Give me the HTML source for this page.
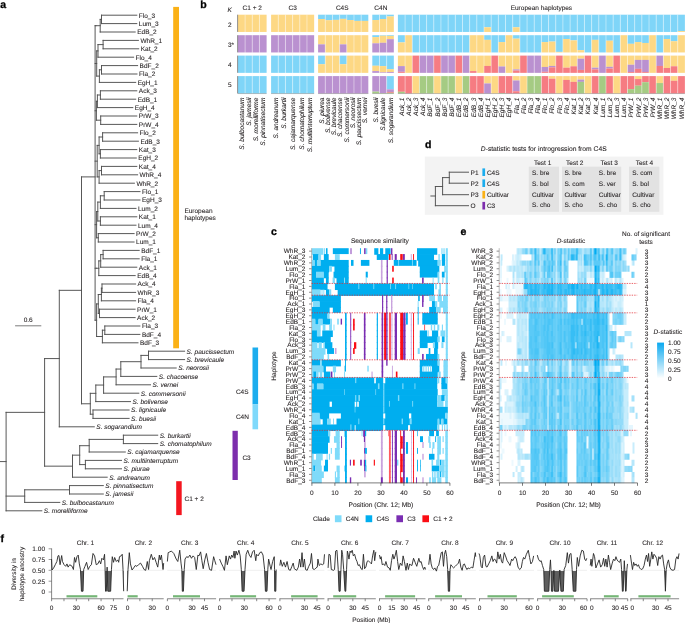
<!DOCTYPE html>
<html><head><meta charset="utf-8"><title>Figure</title>
<style>
html,body{margin:0;padding:0;background:#fff;}
body{width:685px;height:623px;overflow:hidden;}
svg{display:block;font-family:"Liberation Sans",sans-serif;font-size:6.5px;fill:#231f20;text-rendering:geometricPrecision;will-change:transform;}
text{stroke:#231f20;stroke-width:0.08px;}
</style></head><body>
<svg width="685" height="623" viewBox="0 0 685 623">
<rect width="685" height="623" fill="#fff"/>
<g id="panel_a">
<path d="M101.50 15.20H136.80M101.50 23.60H136.80M101.50 15.20V23.60M100.20 19.40H101.50M100.20 32.00H135.20M100.20 19.40V32.00M95.90 25.70H100.20M103.10 40.40H138.40M103.10 48.80H138.70M103.10 40.40V48.80M98.00 44.60H103.10M98.00 57.20H133.60M98.00 44.60V57.20M101.50 65.60H137.60M101.50 74.00H137.00M101.50 65.60V74.00M99.40 69.80H101.50M99.40 82.40H135.70M99.40 69.80V82.40M96.70 50.90H98.00M96.70 76.10H99.40M96.70 50.90V76.10M100.40 90.80H136.80M100.40 99.20H135.70M100.40 90.80V99.20M97.40 95.00H100.40M97.40 107.60H132.80M97.40 95.00V107.60M100.70 116.00H136.80M100.70 124.40H136.80M100.70 116.00V124.40M96.40 101.30H97.40M96.40 120.20H100.70M96.40 101.30V120.20M102.60 132.80H137.60M102.60 141.20H138.40M102.60 132.80V141.20M100.40 149.60H136.80M100.40 158.00H136.30M100.40 149.60V158.00M99.10 137.00H102.60M99.10 153.80H100.40M99.10 137.00V153.80M101.50 166.40H136.80M101.50 174.80H137.60M101.50 166.40V174.80M99.10 170.60H101.50M99.10 183.20H134.40M99.10 170.60V183.20M97.20 145.40H99.10M97.20 176.90H99.10M97.20 145.40V176.90M104.20 191.60H140.00M104.20 200.00H140.00M104.20 191.60V200.00M100.40 195.80H104.20M100.40 208.40H136.00M100.40 195.80V208.40M100.40 216.80H136.80M100.40 225.20H136.00M100.40 216.80V225.20M97.80 202.10H100.40M97.80 221.00H100.40M97.80 202.10V221.00M98.30 233.60H134.10M98.30 242.00H134.10M98.30 233.60V242.00M96.60 211.55H97.80M96.60 237.80H98.30M96.60 211.55V237.80M103.10 250.40H139.20M103.10 258.80H139.20M103.10 250.40V258.80M100.70 254.60H103.10M100.70 267.20H136.80M100.70 254.60V267.20M98.80 260.90H100.70M98.80 275.60H135.20M98.80 260.90V275.60M96.20 268.25H98.80M102.00 284.00H135.60M102.00 292.40H135.60M102.00 284.00V292.40M101.40 288.20H102.00M101.40 300.80H135.60M101.40 288.20V300.80M99.50 309.20H135.10M99.50 317.60H135.10M99.50 309.20V317.60M98.30 294.50H101.40M98.30 313.40H99.50M98.30 294.50V313.40M104.80 326.00H139.90M104.80 334.40H139.90M104.80 326.00V334.40M102.40 330.20H104.80M102.40 342.80H138.00M102.40 330.20V342.80M96.60 303.95H98.30M96.60 336.50H102.40M96.60 303.95V336.50M95.10 25.70H95.90M95.10 63.50H96.70M95.10 110.75H96.40M95.10 161.15H97.20M95.10 224.68H96.60M95.10 268.25H96.20M95.10 320.23H96.60M95.10 25.70V320.23M148.50 351.20H184.60M148.50 359.60H184.60M148.50 351.20V359.60M141.00 355.40H148.50M141.00 368.00H176.20M141.00 355.40V368.00M120.80 361.70H141.00M120.80 376.40H156.80M120.80 361.70V376.40M116.10 369.05H120.80M116.10 384.80H150.50M116.10 369.05V384.80M103.60 376.92H116.10M103.60 393.20H138.80M103.60 376.92V393.20M95.80 385.06H103.60M95.80 401.60H130.50M95.80 385.06V401.60M93.00 410.00H129.10M93.00 418.40H129.10M93.00 410.00V418.40M90.30 393.33H95.80M90.30 414.20H93.00M90.30 393.33V414.20M81.50 176.90H95.10M81.50 403.77H90.30M81.50 176.90V403.77M59.30 290.33H81.50M59.30 426.80H94.30M59.30 290.33V426.80M123.40 435.20H157.70M123.40 443.60H157.70M123.40 435.20V443.60M89.20 439.40H123.40M89.20 452.00H125.30M89.20 439.40V452.00M85.40 460.40H121.50M85.40 468.80H121.50M85.40 460.40V468.80M79.70 445.70H89.20M79.70 464.60H85.40M79.70 445.70V464.60M72.50 455.15H79.70M72.50 477.20H107.20M72.50 455.15V477.20M44.60 358.57H59.30M44.60 466.17H72.50M44.60 358.57V466.17M69.50 485.60H103.30M69.50 494.00H103.30M69.50 485.60V494.00M24.70 489.80H69.50M24.70 502.40H59.80M24.70 489.80V502.40M6.10 412.37H44.60M6.10 496.10H24.70M6.10 510.80H41.80M6.10 412.37V510.80M0 461.59H6.10" fill="none" stroke="#4f4f4f" stroke-width="0.95" stroke-linecap="square"/>
<text x="138.80" y="17.50">Flo_3</text>
<text x="138.80" y="25.90">Lum_3</text>
<text x="137.20" y="34.30">EdB_2</text>
<text x="140.40" y="42.70">WhR_1</text>
<text x="140.70" y="51.10">Kat_2</text>
<text x="135.60" y="59.50">Flo_4</text>
<text x="139.60" y="67.90">BdF_2</text>
<text x="139.00" y="76.30">Fla_2</text>
<text x="137.70" y="84.70">EgH_1</text>
<text x="138.80" y="93.10">Ack_3</text>
<text x="137.70" y="101.50">EdB_1</text>
<text x="134.80" y="109.90">EgH_4</text>
<text x="138.80" y="118.30">PrW_3</text>
<text x="138.80" y="126.70">PrW_4</text>
<text x="139.60" y="135.10">Flo_2</text>
<text x="140.40" y="143.50">EdB_3</text>
<text x="138.80" y="151.90">Kat_3</text>
<text x="138.30" y="160.30">EgH_2</text>
<text x="138.80" y="168.70">Kat_4</text>
<text x="139.60" y="177.10">WhR_4</text>
<text x="136.40" y="185.50">WhR_2</text>
<text x="142.00" y="193.90">Flo_1</text>
<text x="142.00" y="202.30">EgH_3</text>
<text x="138.00" y="210.70">Lum_2</text>
<text x="138.80" y="219.10">Kat_1</text>
<text x="138.00" y="227.50">Lum_4</text>
<text x="136.10" y="235.90">PrW_2</text>
<text x="136.10" y="244.30">Lum_1</text>
<text x="141.20" y="252.70">BdF_1</text>
<text x="141.20" y="261.10">Fla_1</text>
<text x="138.80" y="269.50">Ack_1</text>
<text x="137.20" y="277.90">EdB_4</text>
<text x="137.60" y="286.30">Ack_4</text>
<text x="137.60" y="294.70">WhR_3</text>
<text x="137.60" y="303.10">Fla_4</text>
<text x="137.10" y="311.50">PrW_1</text>
<text x="137.10" y="319.90">Ack_2</text>
<text x="141.90" y="328.30">Fla_3</text>
<text x="141.90" y="336.70">BdF_4</text>
<text x="140.00" y="345.10">BdF_3</text>
<text x="186.60" y="353.50" font-style="italic">S. paucissectum</text>
<text x="186.60" y="361.90" font-style="italic">S. brevicaule</text>
<text x="178.20" y="370.30" font-style="italic">S. neorosii</text>
<text x="158.80" y="378.70" font-style="italic">S. chacoense</text>
<text x="152.50" y="387.10" font-style="italic">S. vernei</text>
<text x="140.80" y="395.50" font-style="italic">S. commersonii</text>
<text x="132.50" y="403.90" font-style="italic">S. bolivense</text>
<text x="131.10" y="412.30" font-style="italic">S. lignicaule</text>
<text x="131.10" y="420.70" font-style="italic">S. buesii</text>
<text x="96.30" y="429.10" font-style="italic">S. sogarandium</text>
<text x="159.70" y="437.50" font-style="italic">S. burkartii</text>
<text x="159.70" y="445.90" font-style="italic">S. chomatophilum</text>
<text x="127.30" y="454.30" font-style="italic">S. cajamarquense</text>
<text x="123.50" y="462.70" font-style="italic">S. multiinterruptum</text>
<text x="123.50" y="471.10" font-style="italic">S. piurae</text>
<text x="109.20" y="479.50" font-style="italic">S. andreanum</text>
<text x="105.30" y="487.90" font-style="italic">S. pinnatisectum</text>
<text x="105.30" y="496.30" font-style="italic">S. jamesii</text>
<text x="61.80" y="504.70" font-style="italic">S. bulbocastanum</text>
<text x="43.80" y="513.10" font-style="italic">S. morelliforme</text>
<rect x="173.20" y="6.90" width="5.80" height="341.40" fill="#fbb116"/>
<text x="184.40" y="212.50">European</text>
<text x="184.40" y="220.20">haplotypes</text>
<rect x="252.50" y="347.50" width="5.60" height="56.90" fill="#1cadee"/>
<rect x="252.50" y="404.40" width="5.60" height="24.90" fill="#7fd9fb"/>
<text x="235.90" y="393.60">C4S</text>
<text x="235.90" y="419.40">C4N</text>
<rect x="232.50" y="430.80" width="5.30" height="49.20" fill="#7d2ead"/>
<text x="242.40" y="459.50">C3</text>
<rect x="176.20" y="481.20" width="5.50" height="33.90" fill="#f4161f"/>
<text x="184.50" y="501.30">C1 + 2</text>
<line x1="15.10" y1="325.80" x2="41.30" y2="325.80" stroke="#5a5a5a" stroke-width="0.8"/>
<text x="28.20" y="322.20" text-anchor="middle">0.6</text>
<text x="0.30" y="7.90" font-weight="bold" font-size="10.5" fill="#000" style="stroke:#000;stroke-width:0.3px">a</text>
</g>
<g id="panel_b">
<text x="252.25" y="10.00" text-anchor="middle">C1 + 2</text>
<rect x="237.90" y="14.70" width="7.17" height="17.25" fill="#fdd884"/>
<rect x="237.90" y="35.20" width="7.17" height="17.25" fill="#ba91d0"/>
<rect x="237.90" y="55.60" width="7.17" height="17.25" fill="#7fd5f8"/>
<rect x="237.90" y="76.10" width="7.17" height="17.45" fill="#7fd5f8"/>
<rect x="245.08" y="14.70" width="7.17" height="17.25" fill="#fdd884"/>
<rect x="245.08" y="35.20" width="7.17" height="17.25" fill="#ba91d0"/>
<rect x="245.08" y="55.60" width="7.17" height="17.25" fill="#7fd5f8"/>
<rect x="245.08" y="76.10" width="7.17" height="17.45" fill="#7fd5f8"/>
<rect x="252.25" y="14.70" width="7.17" height="17.25" fill="#fdd884"/>
<rect x="252.25" y="35.20" width="7.17" height="17.25" fill="#ba91d0"/>
<rect x="252.25" y="55.60" width="7.17" height="17.25" fill="#7fd5f8"/>
<rect x="252.25" y="76.10" width="7.17" height="17.45" fill="#7fd5f8"/>
<rect x="259.43" y="14.70" width="7.17" height="17.25" fill="#fdd884"/>
<rect x="259.43" y="35.20" width="7.17" height="17.25" fill="#ba91d0"/>
<rect x="259.43" y="55.60" width="7.17" height="17.25" fill="#7fd5f8"/>
<rect x="259.43" y="76.10" width="7.17" height="17.45" fill="#7fd5f8"/>
<path d="M245.08 14.7V93.5M252.25 14.7V93.5M259.43 14.7V93.5" stroke="#fff" stroke-opacity="0.7" stroke-width="0.6" fill="none"/>
<line x1="237.90" y1="93.55" x2="266.60" y2="93.55" stroke="#8a8a8a" stroke-width="0.5"/>
<text x="243.79" y="97.60" text-anchor="end" font-style="italic" transform="rotate(-90 243.79 97.60)">S. bulbocastanum</text>
<text x="250.96" y="97.60" text-anchor="end" font-style="italic" transform="rotate(-90 250.96 97.60)">S. jamesii</text>
<text x="258.14" y="97.60" text-anchor="end" font-style="italic" transform="rotate(-90 258.14 97.60)">S. morelliforme</text>
<text x="265.31" y="97.60" text-anchor="end" font-style="italic" transform="rotate(-90 265.31 97.60)">S. pinnatisectum</text>
<text x="292.62" y="10.00" text-anchor="middle">C3</text>
<rect x="271.10" y="14.70" width="7.17" height="17.25" fill="#fdd884"/>
<rect x="271.10" y="35.20" width="7.17" height="17.25" fill="#ba91d0"/>
<rect x="271.10" y="55.60" width="7.17" height="17.25" fill="#7fd5f8"/>
<rect x="271.10" y="76.10" width="7.17" height="17.45" fill="#7fd5f8"/>
<rect x="278.28" y="14.70" width="7.17" height="17.25" fill="#fdd884"/>
<rect x="278.28" y="35.20" width="7.17" height="17.25" fill="#ba91d0"/>
<rect x="278.28" y="55.60" width="7.17" height="17.25" fill="#7fd5f8"/>
<rect x="278.28" y="76.10" width="7.17" height="17.45" fill="#7fd5f8"/>
<rect x="285.45" y="14.70" width="7.17" height="17.25" fill="#fdd884"/>
<rect x="285.45" y="35.20" width="7.17" height="17.25" fill="#ba91d0"/>
<rect x="285.45" y="55.60" width="7.17" height="17.25" fill="#7fd5f8"/>
<rect x="285.45" y="76.10" width="7.17" height="17.45" fill="#7fd5f8"/>
<rect x="292.62" y="14.70" width="7.17" height="17.25" fill="#fdd884"/>
<rect x="292.62" y="35.20" width="7.17" height="17.25" fill="#ba91d0"/>
<rect x="292.62" y="55.60" width="7.17" height="17.25" fill="#7fd5f8"/>
<rect x="292.62" y="76.10" width="7.17" height="17.45" fill="#7fd5f8"/>
<rect x="299.80" y="14.70" width="7.17" height="17.25" fill="#fdd884"/>
<rect x="299.80" y="35.20" width="7.17" height="17.25" fill="#ba91d0"/>
<rect x="299.80" y="55.60" width="7.17" height="17.25" fill="#7fd5f8"/>
<rect x="299.80" y="76.10" width="7.17" height="17.45" fill="#7fd5f8"/>
<rect x="306.98" y="14.70" width="7.17" height="17.25" fill="#fdd884"/>
<rect x="306.98" y="35.20" width="7.17" height="17.25" fill="#ba91d0"/>
<rect x="306.98" y="55.60" width="7.17" height="17.25" fill="#7fd5f8"/>
<rect x="306.98" y="76.10" width="7.17" height="17.45" fill="#7fd5f8"/>
<path d="M278.28 14.7V93.5M285.45 14.7V93.5M292.62 14.7V93.5M299.80 14.7V93.5M306.98 14.7V93.5" stroke="#fff" stroke-opacity="0.7" stroke-width="0.6" fill="none"/>
<line x1="271.10" y1="93.55" x2="314.15" y2="93.55" stroke="#8a8a8a" stroke-width="0.5"/>
<text x="277.71" y="97.60" text-anchor="end" font-style="italic" transform="rotate(-90 277.71 97.60)">S. andreanum</text>
<text x="286.32" y="97.60" text-anchor="end" font-style="italic" transform="rotate(-90 286.32 97.60)">S. burkartii</text>
<text x="294.93" y="97.60" text-anchor="end" font-style="italic" transform="rotate(-90 294.93 97.60)">S. cajamarquense</text>
<text x="303.54" y="97.60" text-anchor="end" font-style="italic" transform="rotate(-90 303.54 97.60)">S. chomatophilum</text>
<text x="312.15" y="97.60" text-anchor="end" font-style="italic" transform="rotate(-90 312.15 97.60)">S. multiinterruptum</text>
<text x="342.21" y="10.00" text-anchor="middle">C4S</text>
<rect x="318.10" y="14.70" width="7.17" height="4.35" fill="#7fd5f8"/>
<rect x="318.10" y="19.00" width="7.17" height="12.95" fill="#fdd884"/>
<rect x="318.10" y="35.20" width="7.17" height="9.17" fill="#fdd884"/>
<rect x="318.10" y="44.32" width="7.17" height="8.13" fill="#ba91d0"/>
<rect x="318.10" y="55.60" width="7.17" height="8.65" fill="#7fd5f8"/>
<rect x="318.10" y="64.20" width="7.17" height="8.65" fill="#fdd884"/>
<rect x="318.10" y="76.10" width="7.17" height="17.45" fill="#ba91d0"/>
<rect x="325.28" y="14.70" width="7.17" height="5.55" fill="#7fd5f8"/>
<rect x="325.28" y="20.20" width="7.17" height="11.75" fill="#fdd884"/>
<rect x="325.28" y="35.20" width="7.17" height="17.25" fill="#fdd884"/>
<rect x="325.28" y="55.60" width="7.17" height="17.25" fill="#fdd884"/>
<rect x="325.28" y="76.10" width="7.17" height="17.45" fill="#ba91d0"/>
<rect x="332.45" y="14.70" width="7.17" height="5.21" fill="#7fd5f8"/>
<rect x="332.45" y="19.86" width="7.17" height="12.09" fill="#fdd884"/>
<rect x="332.45" y="35.20" width="7.17" height="17.25" fill="#fdd884"/>
<rect x="332.45" y="55.60" width="7.17" height="17.25" fill="#fdd884"/>
<rect x="332.45" y="76.10" width="7.17" height="17.45" fill="#ba91d0"/>
<rect x="339.62" y="14.70" width="7.17" height="4.18" fill="#7fd5f8"/>
<rect x="339.62" y="18.83" width="7.17" height="13.12" fill="#fdd884"/>
<rect x="339.62" y="35.20" width="7.17" height="9.17" fill="#fdd884"/>
<rect x="339.62" y="44.32" width="7.17" height="8.13" fill="#ba91d0"/>
<rect x="339.62" y="55.60" width="7.17" height="8.65" fill="#7fd5f8"/>
<rect x="339.62" y="64.20" width="7.17" height="8.65" fill="#fdd884"/>
<rect x="339.62" y="76.10" width="7.17" height="17.45" fill="#ba91d0"/>
<rect x="346.80" y="14.70" width="7.17" height="5.38" fill="#7fd5f8"/>
<rect x="346.80" y="20.03" width="7.17" height="11.92" fill="#fdd884"/>
<rect x="346.80" y="35.20" width="7.17" height="17.25" fill="#fdd884"/>
<rect x="346.80" y="55.60" width="7.17" height="17.25" fill="#fdd884"/>
<rect x="346.80" y="76.10" width="7.17" height="17.45" fill="#ba91d0"/>
<rect x="353.98" y="14.70" width="7.17" height="6.24" fill="#7fd5f8"/>
<rect x="353.98" y="20.89" width="7.17" height="11.06" fill="#fdd884"/>
<rect x="353.98" y="35.20" width="7.17" height="17.25" fill="#fdd884"/>
<rect x="353.98" y="55.60" width="7.17" height="17.25" fill="#fdd884"/>
<rect x="353.98" y="76.10" width="7.17" height="17.45" fill="#ba91d0"/>
<rect x="361.15" y="14.70" width="7.17" height="6.24" fill="#7fd5f8"/>
<rect x="361.15" y="20.89" width="7.17" height="11.06" fill="#fdd884"/>
<rect x="361.15" y="35.20" width="7.17" height="17.25" fill="#fdd884"/>
<rect x="361.15" y="55.60" width="7.17" height="17.25" fill="#fdd884"/>
<rect x="361.15" y="76.10" width="7.17" height="17.45" fill="#ba91d0"/>
<path d="M325.28 14.7V93.5M332.45 14.7V93.5M339.62 14.7V93.5M346.80 14.7V93.5M353.98 14.7V93.5M361.15 14.7V93.5" stroke="#fff" stroke-opacity="0.7" stroke-width="0.6" fill="none"/>
<line x1="318.10" y1="93.55" x2="368.33" y2="93.55" stroke="#8a8a8a" stroke-width="0.5"/>
<text x="323.54" y="97.60" text-anchor="end" font-style="italic" transform="rotate(-90 323.54 97.60)">S. piurea</text>
<text x="329.82" y="97.60" text-anchor="end" font-style="italic" transform="rotate(-90 329.82 97.60)">S. bolivense</text>
<text x="336.10" y="97.60" text-anchor="end" font-style="italic" transform="rotate(-90 336.10 97.60)">S. brevicaule</text>
<text x="342.37" y="97.60" text-anchor="end" font-style="italic" transform="rotate(-90 342.37 97.60)">S. chacoense</text>
<text x="348.65" y="97.60" text-anchor="end" font-style="italic" transform="rotate(-90 348.65 97.60)">S. commersonii</text>
<text x="354.93" y="97.60" text-anchor="end" font-style="italic" transform="rotate(-90 354.93 97.60)">S. neorosii</text>
<text x="361.21" y="97.60" text-anchor="end" font-style="italic" transform="rotate(-90 361.21 97.60)">S. paucissectum</text>
<text x="367.49" y="97.60" text-anchor="end" font-style="italic" transform="rotate(-90 367.49 97.60)">S. vernei</text>
<text x="380.86" y="10.00" text-anchor="middle">C4N</text>
<rect x="372.30" y="14.70" width="7.17" height="5.38" fill="#7fd5f8"/>
<rect x="372.30" y="20.03" width="7.17" height="11.92" fill="#fdd884"/>
<rect x="372.30" y="35.20" width="7.17" height="1.94" fill="#7fd5f8"/>
<rect x="372.30" y="37.09" width="7.17" height="6.24" fill="#fdd884"/>
<rect x="372.30" y="43.28" width="7.17" height="9.17" fill="#ba91d0"/>
<rect x="372.30" y="55.60" width="7.17" height="10.20" fill="#7fd5f8"/>
<rect x="372.30" y="65.75" width="7.17" height="5.38" fill="#fdd884"/>
<rect x="372.30" y="71.08" width="7.17" height="1.77" fill="#ba91d0"/>
<rect x="372.30" y="76.10" width="7.17" height="15.54" fill="#ba91d0"/>
<rect x="372.30" y="91.59" width="7.17" height="1.96" fill="#a5cb83"/>
<rect x="379.48" y="14.70" width="7.17" height="4.35" fill="#7fd5f8"/>
<rect x="379.48" y="19.00" width="7.17" height="12.95" fill="#fdd884"/>
<rect x="379.48" y="35.20" width="7.17" height="0.57" fill="#7fd5f8"/>
<rect x="379.48" y="35.72" width="7.17" height="7.10" fill="#fdd884"/>
<rect x="379.48" y="42.77" width="7.17" height="9.68" fill="#ba91d0"/>
<rect x="379.48" y="55.60" width="7.17" height="10.54" fill="#7fd5f8"/>
<rect x="379.48" y="66.09" width="7.17" height="6.24" fill="#fdd884"/>
<rect x="379.48" y="72.28" width="7.17" height="0.57" fill="#ba91d0"/>
<rect x="379.48" y="76.10" width="7.17" height="17.10" fill="#ba91d0"/>
<rect x="379.48" y="93.15" width="7.17" height="0.40" fill="#a5cb83"/>
<rect x="386.65" y="14.70" width="7.17" height="1.77" fill="#7fd5f8"/>
<rect x="386.65" y="16.42" width="7.17" height="15.53" fill="#fdd884"/>
<rect x="386.65" y="35.20" width="7.17" height="0.74" fill="#7fd5f8"/>
<rect x="386.65" y="35.89" width="7.17" height="3.32" fill="#fdd884"/>
<rect x="386.65" y="39.16" width="7.17" height="13.29" fill="#ba91d0"/>
<rect x="386.65" y="55.60" width="7.17" height="13.64" fill="#7fd5f8"/>
<rect x="386.65" y="69.19" width="7.17" height="2.80" fill="#fdd884"/>
<rect x="386.65" y="71.94" width="7.17" height="0.91" fill="#ba91d0"/>
<rect x="386.65" y="76.10" width="7.17" height="13.27" fill="#7fd5f8"/>
<rect x="386.65" y="89.32" width="7.17" height="2.66" fill="#ba91d0"/>
<rect x="386.65" y="91.93" width="7.17" height="0.92" fill="#f67c82"/>
<rect x="386.65" y="92.80" width="7.17" height="0.75" fill="#a5cb83"/>
<path d="M379.48 14.7V93.5M386.65 14.7V93.5" stroke="#fff" stroke-opacity="0.7" stroke-width="0.6" fill="none"/>
<line x1="372.30" y1="93.55" x2="393.82" y2="93.55" stroke="#8a8a8a" stroke-width="0.5"/>
<text x="378.19" y="97.60" text-anchor="end" font-style="italic" transform="rotate(-90 378.19 97.60)">S. buesii</text>
<text x="385.36" y="97.60" text-anchor="end" font-style="italic" transform="rotate(-90 385.36 97.60)">S.lignicaule</text>
<text x="392.54" y="97.60" text-anchor="end" font-style="italic" transform="rotate(-90 392.54 97.60)">S. sogarandium</text>
<text x="541.40" y="10.00" text-anchor="middle">European haplotypes</text>
<rect x="397.90" y="14.70" width="7.17" height="17.25" fill="#7fd5f8"/>
<rect x="397.90" y="35.20" width="7.17" height="7.27" fill="#7fd5f8"/>
<rect x="397.90" y="42.42" width="7.17" height="10.03" fill="#fdd884"/>
<rect x="397.90" y="55.60" width="7.17" height="10.54" fill="#fdd884"/>
<rect x="397.90" y="66.09" width="7.17" height="5.73" fill="#ba91d0"/>
<rect x="397.90" y="71.77" width="7.17" height="1.08" fill="#f67c82"/>
<rect x="397.90" y="76.10" width="7.17" height="15.71" fill="#f67c82"/>
<rect x="397.90" y="91.76" width="7.17" height="1.79" fill="#a5cb83"/>
<rect x="405.07" y="14.70" width="7.17" height="17.25" fill="#7fd5f8"/>
<rect x="405.07" y="35.20" width="7.17" height="17.25" fill="#fdd884"/>
<rect x="405.07" y="55.60" width="7.17" height="17.25" fill="#fdd884"/>
<rect x="405.07" y="76.10" width="7.17" height="17.45" fill="#f67c82"/>
<rect x="412.25" y="14.70" width="7.17" height="17.25" fill="#7fd5f8"/>
<rect x="412.25" y="35.20" width="7.17" height="17.25" fill="#7fd5f8"/>
<rect x="412.25" y="55.60" width="7.17" height="17.25" fill="#f67c82"/>
<rect x="412.25" y="76.10" width="7.17" height="17.45" fill="#fdd884"/>
<rect x="419.42" y="14.70" width="7.17" height="17.25" fill="#7fd5f8"/>
<rect x="419.42" y="35.20" width="7.17" height="17.25" fill="#7fd5f8"/>
<rect x="419.42" y="55.60" width="7.17" height="17.25" fill="#ba91d0"/>
<rect x="419.42" y="76.10" width="7.17" height="17.45" fill="#a5cb83"/>
<rect x="426.60" y="14.70" width="7.17" height="17.25" fill="#7fd5f8"/>
<rect x="426.60" y="35.20" width="7.17" height="17.25" fill="#7fd5f8"/>
<rect x="426.60" y="55.60" width="7.17" height="17.25" fill="#ba91d0"/>
<rect x="426.60" y="76.10" width="7.17" height="17.45" fill="#a5cb83"/>
<rect x="433.77" y="14.70" width="7.17" height="17.25" fill="#7fd5f8"/>
<rect x="433.77" y="35.20" width="7.17" height="17.25" fill="#7fd5f8"/>
<rect x="433.77" y="55.60" width="7.17" height="17.25" fill="#f67c82"/>
<rect x="433.77" y="76.10" width="7.17" height="17.45" fill="#fdd884"/>
<rect x="440.95" y="14.70" width="7.17" height="17.25" fill="#7fd5f8"/>
<rect x="440.95" y="35.20" width="7.17" height="17.25" fill="#7fd5f8"/>
<rect x="440.95" y="55.60" width="7.17" height="17.25" fill="#ba91d0"/>
<rect x="440.95" y="76.10" width="7.17" height="17.45" fill="#a5cb83"/>
<rect x="448.12" y="14.70" width="7.17" height="17.25" fill="#7fd5f8"/>
<rect x="448.12" y="35.20" width="7.17" height="17.25" fill="#7fd5f8"/>
<rect x="448.12" y="55.60" width="7.17" height="17.25" fill="#ba91d0"/>
<rect x="448.12" y="76.10" width="7.17" height="17.45" fill="#a5cb83"/>
<rect x="455.30" y="14.70" width="7.17" height="17.25" fill="#7fd5f8"/>
<rect x="455.30" y="35.20" width="7.17" height="17.25" fill="#7fd5f8"/>
<rect x="455.30" y="55.60" width="7.17" height="17.25" fill="#f67c82"/>
<rect x="455.30" y="76.10" width="7.17" height="17.45" fill="#fdd884"/>
<rect x="462.47" y="14.70" width="7.17" height="17.25" fill="#7fd5f8"/>
<rect x="462.47" y="35.20" width="7.17" height="17.25" fill="#7fd5f8"/>
<rect x="462.47" y="55.60" width="7.17" height="17.25" fill="#ba91d0"/>
<rect x="462.47" y="76.10" width="7.17" height="17.45" fill="#a5cb83"/>
<rect x="469.65" y="14.70" width="7.17" height="17.25" fill="#7fd5f8"/>
<rect x="469.65" y="35.20" width="7.17" height="17.25" fill="#fdd884"/>
<rect x="469.65" y="55.60" width="7.17" height="15.53" fill="#fdd884"/>
<rect x="469.65" y="71.08" width="7.17" height="1.77" fill="#f67c82"/>
<rect x="469.65" y="76.10" width="7.17" height="17.45" fill="#f67c82"/>
<rect x="476.82" y="14.70" width="7.17" height="17.25" fill="#7fd5f8"/>
<rect x="476.82" y="35.20" width="7.17" height="17.25" fill="#fdd884"/>
<rect x="476.82" y="55.60" width="7.17" height="17.25" fill="#fdd884"/>
<rect x="476.82" y="76.10" width="7.17" height="17.45" fill="#f67c82"/>
<rect x="484.00" y="14.70" width="7.17" height="12.61" fill="#7fd5f8"/>
<rect x="484.00" y="27.26" width="7.17" height="4.69" fill="#fdd884"/>
<rect x="484.00" y="35.20" width="7.17" height="4.69" fill="#7fd5f8"/>
<rect x="484.00" y="39.84" width="7.17" height="12.61" fill="#fdd884"/>
<rect x="484.00" y="55.60" width="7.17" height="10.37" fill="#fdd884"/>
<rect x="484.00" y="65.92" width="7.17" height="6.93" fill="#f67c82"/>
<rect x="484.00" y="76.10" width="7.17" height="7.36" fill="#fdd884"/>
<rect x="484.00" y="83.41" width="7.17" height="10.14" fill="#ba91d0"/>
<rect x="491.17" y="14.70" width="7.17" height="17.25" fill="#7fd5f8"/>
<rect x="491.17" y="35.20" width="7.17" height="17.25" fill="#7fd5f8"/>
<rect x="491.17" y="55.60" width="7.17" height="17.25" fill="#f67c82"/>
<rect x="491.17" y="76.10" width="7.17" height="17.45" fill="#fdd884"/>
<rect x="498.35" y="14.70" width="7.17" height="17.25" fill="#7fd5f8"/>
<rect x="498.35" y="35.20" width="7.17" height="6.93" fill="#7fd5f8"/>
<rect x="498.35" y="42.08" width="7.17" height="10.37" fill="#fdd884"/>
<rect x="498.35" y="55.60" width="7.17" height="10.89" fill="#fdd884"/>
<rect x="498.35" y="66.44" width="7.17" height="6.41" fill="#ba91d0"/>
<rect x="498.35" y="76.10" width="7.17" height="16.93" fill="#f67c82"/>
<rect x="498.35" y="92.98" width="7.17" height="0.57" fill="#a5cb83"/>
<rect x="505.52" y="14.70" width="7.17" height="17.25" fill="#7fd5f8"/>
<rect x="505.52" y="35.20" width="7.17" height="17.25" fill="#fdd884"/>
<rect x="505.52" y="55.60" width="7.17" height="17.25" fill="#fdd884"/>
<rect x="505.52" y="76.10" width="7.17" height="17.45" fill="#f67c82"/>
<rect x="512.70" y="14.70" width="7.17" height="12.61" fill="#7fd5f8"/>
<rect x="512.70" y="27.26" width="7.17" height="4.69" fill="#fdd884"/>
<rect x="512.70" y="35.20" width="7.17" height="3.49" fill="#7fd5f8"/>
<rect x="512.70" y="38.64" width="7.17" height="13.81" fill="#fdd884"/>
<rect x="512.70" y="55.60" width="7.17" height="13.81" fill="#fdd884"/>
<rect x="512.70" y="69.36" width="7.17" height="1.25" fill="#ba91d0"/>
<rect x="512.70" y="70.56" width="7.17" height="2.29" fill="#f67c82"/>
<rect x="512.70" y="76.10" width="7.17" height="4.40" fill="#fdd884"/>
<rect x="512.70" y="80.45" width="7.17" height="10.84" fill="#ba91d0"/>
<rect x="512.70" y="91.24" width="7.17" height="2.31" fill="#f67c82"/>
<rect x="519.88" y="14.70" width="7.17" height="17.25" fill="#7fd5f8"/>
<rect x="519.88" y="35.20" width="7.17" height="17.25" fill="#7fd5f8"/>
<rect x="519.88" y="55.60" width="7.17" height="17.25" fill="#f67c82"/>
<rect x="519.88" y="76.10" width="7.17" height="17.45" fill="#fdd884"/>
<rect x="527.05" y="14.70" width="7.17" height="17.25" fill="#7fd5f8"/>
<rect x="527.05" y="35.20" width="7.17" height="17.25" fill="#7fd5f8"/>
<rect x="527.05" y="55.60" width="7.17" height="17.25" fill="#ba91d0"/>
<rect x="527.05" y="76.10" width="7.17" height="17.45" fill="#a5cb83"/>
<rect x="534.22" y="14.70" width="7.17" height="17.25" fill="#7fd5f8"/>
<rect x="534.22" y="35.20" width="7.17" height="17.25" fill="#7fd5f8"/>
<rect x="534.22" y="55.60" width="7.17" height="17.25" fill="#ba91d0"/>
<rect x="534.22" y="76.10" width="7.17" height="17.45" fill="#a5cb83"/>
<rect x="541.40" y="14.70" width="7.17" height="17.25" fill="#7fd5f8"/>
<rect x="541.40" y="35.20" width="7.17" height="6.93" fill="#7fd5f8"/>
<rect x="541.40" y="42.08" width="7.17" height="10.37" fill="#fdd884"/>
<rect x="541.40" y="55.60" width="7.17" height="11.40" fill="#fdd884"/>
<rect x="541.40" y="66.95" width="7.17" height="4.87" fill="#ba91d0"/>
<rect x="541.40" y="71.77" width="7.17" height="1.08" fill="#f67c82"/>
<rect x="541.40" y="76.10" width="7.17" height="17.45" fill="#f67c82"/>
<rect x="548.57" y="14.70" width="7.17" height="17.25" fill="#7fd5f8"/>
<rect x="548.57" y="35.20" width="7.17" height="6.41" fill="#7fd5f8"/>
<rect x="548.57" y="41.56" width="7.17" height="10.89" fill="#fdd884"/>
<rect x="548.57" y="55.60" width="7.17" height="10.37" fill="#fdd884"/>
<rect x="548.57" y="65.92" width="7.17" height="1.43" fill="#ba91d0"/>
<rect x="548.57" y="67.30" width="7.17" height="5.55" fill="#f67c82"/>
<rect x="548.57" y="76.10" width="7.17" height="2.66" fill="#fdd884"/>
<rect x="548.57" y="78.71" width="7.17" height="14.84" fill="#f67c82"/>
<rect x="555.75" y="14.70" width="7.17" height="17.25" fill="#7fd5f8"/>
<rect x="555.75" y="35.20" width="7.17" height="16.73" fill="#7fd5f8"/>
<rect x="555.75" y="51.88" width="7.17" height="0.57" fill="#fdd884"/>
<rect x="555.75" y="55.60" width="7.17" height="17.25" fill="#f67c82"/>
<rect x="555.75" y="76.10" width="7.17" height="17.45" fill="#fdd884"/>
<rect x="562.92" y="14.70" width="7.17" height="17.25" fill="#7fd5f8"/>
<rect x="562.92" y="35.20" width="7.17" height="3.83" fill="#7fd5f8"/>
<rect x="562.92" y="38.98" width="7.17" height="13.47" fill="#fdd884"/>
<rect x="562.92" y="55.60" width="7.17" height="12.09" fill="#fdd884"/>
<rect x="562.92" y="67.64" width="7.17" height="5.21" fill="#f67c82"/>
<rect x="562.92" y="76.10" width="7.17" height="3.88" fill="#fdd884"/>
<rect x="562.92" y="79.93" width="7.17" height="13.62" fill="#f67c82"/>
<rect x="570.10" y="14.70" width="7.17" height="17.25" fill="#7fd5f8"/>
<rect x="570.10" y="35.20" width="7.17" height="5.21" fill="#7fd5f8"/>
<rect x="570.10" y="40.36" width="7.17" height="12.09" fill="#fdd884"/>
<rect x="570.10" y="55.60" width="7.17" height="10.71" fill="#fdd884"/>
<rect x="570.10" y="66.26" width="7.17" height="6.59" fill="#f67c82"/>
<rect x="570.10" y="76.10" width="7.17" height="5.79" fill="#fdd884"/>
<rect x="570.10" y="81.84" width="7.17" height="11.71" fill="#f67c82"/>
<rect x="577.27" y="14.70" width="7.17" height="17.25" fill="#7fd5f8"/>
<rect x="577.27" y="35.20" width="7.17" height="15.01" fill="#7fd5f8"/>
<rect x="577.27" y="50.16" width="7.17" height="2.29" fill="#fdd884"/>
<rect x="577.27" y="55.60" width="7.17" height="3.15" fill="#fdd884"/>
<rect x="577.27" y="58.70" width="7.17" height="11.23" fill="#ba91d0"/>
<rect x="577.27" y="69.88" width="7.17" height="2.97" fill="#f67c82"/>
<rect x="577.27" y="76.10" width="7.17" height="3.53" fill="#fdd884"/>
<rect x="577.27" y="79.58" width="7.17" height="2.31" fill="#ba91d0"/>
<rect x="577.27" y="81.84" width="7.17" height="11.71" fill="#a5cb83"/>
<rect x="584.45" y="14.70" width="7.17" height="17.25" fill="#7fd5f8"/>
<rect x="584.45" y="35.20" width="7.17" height="17.25" fill="#7fd5f8"/>
<rect x="584.45" y="55.60" width="7.17" height="17.25" fill="#f67c82"/>
<rect x="584.45" y="76.10" width="7.17" height="17.45" fill="#fdd884"/>
<rect x="591.62" y="14.70" width="7.17" height="17.25" fill="#7fd5f8"/>
<rect x="591.62" y="35.20" width="7.17" height="4.69" fill="#7fd5f8"/>
<rect x="591.62" y="39.84" width="7.17" height="12.61" fill="#fdd884"/>
<rect x="591.62" y="55.60" width="7.17" height="12.09" fill="#fdd884"/>
<rect x="591.62" y="67.64" width="7.17" height="1.77" fill="#ba91d0"/>
<rect x="591.62" y="69.36" width="7.17" height="3.49" fill="#f67c82"/>
<rect x="591.62" y="76.10" width="7.17" height="17.45" fill="#f67c82"/>
<rect x="598.80" y="14.70" width="7.17" height="17.25" fill="#7fd5f8"/>
<rect x="598.80" y="35.20" width="7.17" height="17.25" fill="#7fd5f8"/>
<rect x="598.80" y="55.60" width="7.17" height="17.25" fill="#ba91d0"/>
<rect x="598.80" y="76.10" width="7.17" height="17.45" fill="#a5cb83"/>
<rect x="605.97" y="14.70" width="7.17" height="17.25" fill="#7fd5f8"/>
<rect x="605.97" y="35.20" width="7.17" height="5.55" fill="#7fd5f8"/>
<rect x="605.97" y="40.70" width="7.17" height="11.75" fill="#fdd884"/>
<rect x="605.97" y="55.60" width="7.17" height="11.23" fill="#fdd884"/>
<rect x="605.97" y="66.78" width="7.17" height="1.77" fill="#ba91d0"/>
<rect x="605.97" y="68.50" width="7.17" height="4.35" fill="#f67c82"/>
<rect x="605.97" y="76.10" width="7.17" height="17.45" fill="#f67c82"/>
<rect x="613.15" y="14.70" width="7.17" height="17.25" fill="#7fd5f8"/>
<rect x="613.15" y="35.20" width="7.17" height="17.25" fill="#7fd5f8"/>
<rect x="613.15" y="55.60" width="7.17" height="17.25" fill="#f67c82"/>
<rect x="613.15" y="76.10" width="7.17" height="17.45" fill="#fdd884"/>
<rect x="620.32" y="14.70" width="7.17" height="17.25" fill="#7fd5f8"/>
<rect x="620.32" y="35.20" width="7.17" height="17.25" fill="#fdd884"/>
<rect x="620.32" y="55.60" width="7.17" height="17.25" fill="#fdd884"/>
<rect x="620.32" y="76.10" width="7.17" height="17.45" fill="#f67c82"/>
<rect x="627.50" y="14.70" width="7.17" height="17.25" fill="#7fd5f8"/>
<rect x="627.50" y="35.20" width="7.17" height="8.65" fill="#7fd5f8"/>
<rect x="627.50" y="43.80" width="7.17" height="8.65" fill="#fdd884"/>
<rect x="627.50" y="55.60" width="7.17" height="9.17" fill="#fdd884"/>
<rect x="627.50" y="64.72" width="7.17" height="7.27" fill="#ba91d0"/>
<rect x="627.50" y="71.94" width="7.17" height="0.91" fill="#f67c82"/>
<rect x="627.50" y="76.10" width="7.17" height="13.10" fill="#f67c82"/>
<rect x="627.50" y="89.15" width="7.17" height="4.40" fill="#a5cb83"/>
<rect x="634.67" y="14.70" width="7.17" height="17.25" fill="#7fd5f8"/>
<rect x="634.67" y="35.20" width="7.17" height="6.93" fill="#7fd5f8"/>
<rect x="634.67" y="42.08" width="7.17" height="10.37" fill="#fdd884"/>
<rect x="634.67" y="55.60" width="7.17" height="4.35" fill="#fdd884"/>
<rect x="634.67" y="59.90" width="7.17" height="8.99" fill="#ba91d0"/>
<rect x="634.67" y="68.84" width="7.17" height="4.01" fill="#f67c82"/>
<rect x="634.67" y="76.10" width="7.17" height="3.01" fill="#fdd884"/>
<rect x="634.67" y="79.06" width="7.17" height="6.66" fill="#f67c82"/>
<rect x="634.67" y="85.67" width="7.17" height="7.88" fill="#a5cb83"/>
<rect x="641.85" y="14.70" width="7.17" height="17.25" fill="#7fd5f8"/>
<rect x="641.85" y="35.20" width="7.17" height="7.79" fill="#7fd5f8"/>
<rect x="641.85" y="42.94" width="7.17" height="9.51" fill="#fdd884"/>
<rect x="641.85" y="55.60" width="7.17" height="4.35" fill="#fdd884"/>
<rect x="641.85" y="59.90" width="7.17" height="12.09" fill="#ba91d0"/>
<rect x="641.85" y="71.94" width="7.17" height="0.91" fill="#f67c82"/>
<rect x="641.85" y="76.10" width="7.17" height="6.14" fill="#f67c82"/>
<rect x="641.85" y="82.19" width="7.17" height="11.36" fill="#a5cb83"/>
<rect x="649.02" y="14.70" width="7.17" height="17.25" fill="#7fd5f8"/>
<rect x="649.02" y="35.20" width="7.17" height="17.25" fill="#fdd884"/>
<rect x="649.02" y="55.60" width="7.17" height="17.25" fill="#fdd884"/>
<rect x="649.02" y="76.10" width="7.17" height="17.45" fill="#f67c82"/>
<rect x="656.20" y="14.70" width="7.17" height="17.25" fill="#7fd5f8"/>
<rect x="656.20" y="35.20" width="7.17" height="17.25" fill="#7fd5f8"/>
<rect x="656.20" y="55.60" width="7.17" height="10.37" fill="#ba91d0"/>
<rect x="656.20" y="65.92" width="7.17" height="6.93" fill="#f67c82"/>
<rect x="656.20" y="76.10" width="7.17" height="7.01" fill="#fdd884"/>
<rect x="656.20" y="83.06" width="7.17" height="10.49" fill="#a5cb83"/>
<rect x="663.38" y="14.70" width="7.17" height="17.25" fill="#7fd5f8"/>
<rect x="663.38" y="35.20" width="7.17" height="3.83" fill="#7fd5f8"/>
<rect x="663.38" y="38.98" width="7.17" height="13.47" fill="#fdd884"/>
<rect x="663.38" y="55.60" width="7.17" height="12.43" fill="#fdd884"/>
<rect x="663.38" y="67.98" width="7.17" height="4.87" fill="#f67c82"/>
<rect x="663.38" y="76.10" width="7.17" height="17.45" fill="#f67c82"/>
<rect x="670.55" y="14.70" width="7.17" height="17.25" fill="#7fd5f8"/>
<rect x="670.55" y="35.20" width="7.17" height="6.07" fill="#7fd5f8"/>
<rect x="670.55" y="41.22" width="7.17" height="11.23" fill="#fdd884"/>
<rect x="670.55" y="55.60" width="7.17" height="10.71" fill="#fdd884"/>
<rect x="670.55" y="66.26" width="7.17" height="6.59" fill="#f67c82"/>
<rect x="670.55" y="76.10" width="7.17" height="4.75" fill="#fdd884"/>
<rect x="670.55" y="80.80" width="7.17" height="12.75" fill="#f67c82"/>
<rect x="677.72" y="14.70" width="7.17" height="16.39" fill="#7fd5f8"/>
<rect x="677.72" y="31.04" width="7.17" height="0.91" fill="#fdd884"/>
<rect x="677.72" y="35.20" width="7.17" height="17.25" fill="#fdd884"/>
<rect x="677.72" y="55.60" width="7.17" height="17.25" fill="#fdd884"/>
<rect x="677.72" y="76.10" width="7.17" height="17.45" fill="#f67c82"/>
<path d="M405.07 14.7V93.5M412.25 14.7V93.5M419.42 14.7V93.5M426.60 14.7V93.5M433.77 14.7V93.5M440.95 14.7V93.5M448.12 14.7V93.5M455.30 14.7V93.5M462.47 14.7V93.5M469.65 14.7V93.5M476.82 14.7V93.5M484.00 14.7V93.5M491.17 14.7V93.5M498.35 14.7V93.5M505.52 14.7V93.5M512.70 14.7V93.5M519.88 14.7V93.5M527.05 14.7V93.5M534.22 14.7V93.5M541.40 14.7V93.5M548.57 14.7V93.5M555.75 14.7V93.5M562.92 14.7V93.5M570.10 14.7V93.5M577.27 14.7V93.5M584.45 14.7V93.5M591.62 14.7V93.5M598.80 14.7V93.5M605.97 14.7V93.5M613.15 14.7V93.5M620.32 14.7V93.5M627.50 14.7V93.5M634.67 14.7V93.5M641.85 14.7V93.5M649.02 14.7V93.5M656.20 14.7V93.5M663.38 14.7V93.5M670.55 14.7V93.5M677.72 14.7V93.5" stroke="#fff" stroke-opacity="0.7" stroke-width="0.6" fill="none"/>
<line x1="397.90" y1="93.55" x2="684.90" y2="93.55" stroke="#8a8a8a" stroke-width="0.5"/>
<text x="403.79" y="97.60" text-anchor="end" font-style="italic" transform="rotate(-90 403.79 97.60)">Ack_1</text>
<text x="410.96" y="97.60" text-anchor="end" font-style="italic" transform="rotate(-90 410.96 97.60)">Ack_2</text>
<text x="418.14" y="97.60" text-anchor="end" font-style="italic" transform="rotate(-90 418.14 97.60)">Ack_3</text>
<text x="425.31" y="97.60" text-anchor="end" font-style="italic" transform="rotate(-90 425.31 97.60)">Ack_4</text>
<text x="432.49" y="97.60" text-anchor="end" font-style="italic" transform="rotate(-90 432.49 97.60)">BdF_1</text>
<text x="439.66" y="97.60" text-anchor="end" font-style="italic" transform="rotate(-90 439.66 97.60)">BdF_2</text>
<text x="446.84" y="97.60" text-anchor="end" font-style="italic" transform="rotate(-90 446.84 97.60)">BdF_3</text>
<text x="454.01" y="97.60" text-anchor="end" font-style="italic" transform="rotate(-90 454.01 97.60)">BdF_4</text>
<text x="461.19" y="97.60" text-anchor="end" font-style="italic" transform="rotate(-90 461.19 97.60)">EdB_1</text>
<text x="468.36" y="97.60" text-anchor="end" font-style="italic" transform="rotate(-90 468.36 97.60)">EdB_2</text>
<text x="475.54" y="97.60" text-anchor="end" font-style="italic" transform="rotate(-90 475.54 97.60)">EdB_3</text>
<text x="482.71" y="97.60" text-anchor="end" font-style="italic" transform="rotate(-90 482.71 97.60)">EdB_4</text>
<text x="489.89" y="97.60" text-anchor="end" font-style="italic" transform="rotate(-90 489.89 97.60)">EgH_1</text>
<text x="497.06" y="97.60" text-anchor="end" font-style="italic" transform="rotate(-90 497.06 97.60)">EgH_2</text>
<text x="504.24" y="97.60" text-anchor="end" font-style="italic" transform="rotate(-90 504.24 97.60)">EgH_3</text>
<text x="511.41" y="97.60" text-anchor="end" font-style="italic" transform="rotate(-90 511.41 97.60)">EgH_4</text>
<text x="518.59" y="97.60" text-anchor="end" font-style="italic" transform="rotate(-90 518.59 97.60)">Fla_1</text>
<text x="525.76" y="97.60" text-anchor="end" font-style="italic" transform="rotate(-90 525.76 97.60)">Fla_2</text>
<text x="532.94" y="97.60" text-anchor="end" font-style="italic" transform="rotate(-90 532.94 97.60)">Fla_3</text>
<text x="540.11" y="97.60" text-anchor="end" font-style="italic" transform="rotate(-90 540.11 97.60)">Fla_4</text>
<text x="547.29" y="97.60" text-anchor="end" font-style="italic" transform="rotate(-90 547.29 97.60)">Flo_1</text>
<text x="554.46" y="97.60" text-anchor="end" font-style="italic" transform="rotate(-90 554.46 97.60)">Flo_2</text>
<text x="561.64" y="97.60" text-anchor="end" font-style="italic" transform="rotate(-90 561.64 97.60)">Flo_3</text>
<text x="568.81" y="97.60" text-anchor="end" font-style="italic" transform="rotate(-90 568.81 97.60)">Flo_4</text>
<text x="575.99" y="97.60" text-anchor="end" font-style="italic" transform="rotate(-90 575.99 97.60)">Kat_1</text>
<text x="583.16" y="97.60" text-anchor="end" font-style="italic" transform="rotate(-90 583.16 97.60)">Kat_2</text>
<text x="590.34" y="97.60" text-anchor="end" font-style="italic" transform="rotate(-90 590.34 97.60)">Kat_3</text>
<text x="597.51" y="97.60" text-anchor="end" font-style="italic" transform="rotate(-90 597.51 97.60)">Kat_4</text>
<text x="604.69" y="97.60" text-anchor="end" font-style="italic" transform="rotate(-90 604.69 97.60)">Lum_1</text>
<text x="611.86" y="97.60" text-anchor="end" font-style="italic" transform="rotate(-90 611.86 97.60)">Lum_2</text>
<text x="619.04" y="97.60" text-anchor="end" font-style="italic" transform="rotate(-90 619.04 97.60)">Lum_3</text>
<text x="626.21" y="97.60" text-anchor="end" font-style="italic" transform="rotate(-90 626.21 97.60)">Lum_4</text>
<text x="633.39" y="97.60" text-anchor="end" font-style="italic" transform="rotate(-90 633.39 97.60)">PrW_1</text>
<text x="640.56" y="97.60" text-anchor="end" font-style="italic" transform="rotate(-90 640.56 97.60)">PrW_2</text>
<text x="647.74" y="97.60" text-anchor="end" font-style="italic" transform="rotate(-90 647.74 97.60)">PrW_3</text>
<text x="654.91" y="97.60" text-anchor="end" font-style="italic" transform="rotate(-90 654.91 97.60)">PrW_4</text>
<text x="662.09" y="97.60" text-anchor="end" font-style="italic" transform="rotate(-90 662.09 97.60)">WhR_1</text>
<text x="669.26" y="97.60" text-anchor="end" font-style="italic" transform="rotate(-90 669.26 97.60)">WhR_2</text>
<text x="676.44" y="97.60" text-anchor="end" font-style="italic" transform="rotate(-90 676.44 97.60)">WhR_3</text>
<text x="683.61" y="97.60" text-anchor="end" font-style="italic" transform="rotate(-90 683.61 97.60)">WhR_4</text>
<line x1="237.60" y1="14.70" x2="237.60" y2="31.90" stroke="#444" stroke-width="0.6"/>
<line x1="237.60" y1="35.20" x2="237.60" y2="52.40" stroke="#444" stroke-width="0.6"/>
<line x1="237.60" y1="55.60" x2="237.60" y2="72.80" stroke="#444" stroke-width="0.6"/>
<line x1="237.60" y1="76.10" x2="237.60" y2="93.50" stroke="#444" stroke-width="0.6"/>
<text x="227.40" y="11.60" font-style="italic">K</text>
<text x="227.90" y="26.50">2</text>
<text x="227.90" y="46.60">3*</text>
<text x="227.90" y="66.60">4</text>
<text x="227.90" y="87.40">5</text>
<text x="200.30" y="7.70" font-weight="bold" font-size="10.5" fill="#000" style="stroke:#000;stroke-width:0.3px">b</text>
</g>
<g id="panel_d">
<text x="425.00" y="147.70" font-weight="bold" font-size="10.5" fill="#000" style="stroke:#000;stroke-width:0.3px">d</text>
<text x="480.8" y="151.0" font-size="6.72"><tspan font-style="italic">D</tspan>-statistic tests for introgression from C4S</text>
<rect x="424.80" y="156.60" width="238.60" height="58.20" fill="#f3f3f3"/>
<rect x="528.80" y="166.70" width="30.20" height="45.10" fill="#e2e2e2"/>
<rect x="562.00" y="166.70" width="59.20" height="45.10" fill="#e2e2e2"/>
<rect x="629.00" y="166.70" width="30.30" height="45.10" fill="#e2e2e2"/>
<text x="542.60" y="164.50" text-anchor="middle">Test 1</text>
<text x="532.00" y="175.00">S. bre</text>
<text x="532.00" y="186.40">S. bol</text>
<text x="532.00" y="197.40">Cultivar</text>
<text x="532.00" y="207.40">S. cho</text>
<text x="574.70" y="164.50" text-anchor="middle">Test 2</text>
<text x="564.40" y="175.00">S. bre</text>
<text x="564.40" y="186.40">S. com</text>
<text x="564.40" y="197.40">Cultivar</text>
<text x="564.40" y="207.40">S. cho</text>
<text x="609.10" y="164.50" text-anchor="middle">Test 3</text>
<text x="598.80" y="175.00">S. bre</text>
<text x="598.80" y="186.40">S. ver</text>
<text x="598.80" y="197.40">Cultivar</text>
<text x="598.80" y="207.40">S. cho</text>
<text x="644.40" y="164.50" text-anchor="middle">Test 4</text>
<text x="632.30" y="175.00">S. com</text>
<text x="632.30" y="186.40">S. bol</text>
<text x="632.30" y="197.40">Cultivar</text>
<text x="632.30" y="207.40">S. cho</text>
<path d="M449.3 172.2H468.5M449.3 183.2H468.5M449.3 172.2V183.2M442.6 177.6H449.3M442.6 194.7H468.5M442.6 177.6V194.7M435.4 186.5H442.6M435.4 205.7H468.5M435.4 186.5V205.7M430.9 196.0H435.4" fill="none" stroke="#4f4f4f" stroke-width="0.95" stroke-linecap="square"/>
<text x="470.60" y="174.50">P1</text>
<rect x="482.40" y="168.40" width="2.70" height="7.60" fill="#1cadee"/>
<text x="486.90" y="174.70">C4S</text>
<text x="470.60" y="185.50">P2</text>
<rect x="482.40" y="179.40" width="2.70" height="7.60" fill="#1cadee"/>
<text x="486.90" y="185.70">C4S</text>
<text x="470.60" y="197.00">P3</text>
<rect x="482.40" y="190.90" width="2.70" height="7.60" fill="#fbb116"/>
<text x="486.90" y="197.20">Cultivar</text>
<text x="470.60" y="208.00">O</text>
<rect x="482.40" y="201.90" width="2.70" height="7.60" fill="#7d2ead"/>
<text x="486.90" y="208.20">C3</text>
</g>
<g id="panel_c">
<rect x="311.90" y="248.20" width="11.50" height="6.58" fill="#7fdbfa"/>
<rect x="324.09" y="248.20" width="0.92" height="5.88" fill="#7fdbfa"/>
<rect x="325.93" y="248.20" width="1.61" height="6.58" fill="#00aeef"/>
<rect x="332.83" y="248.20" width="15.87" height="5.88" fill="#00aeef"/>
<rect x="350.08" y="248.20" width="0.69" height="5.88" fill="#c9a3de"/>
<rect x="350.77" y="248.20" width="0.69" height="5.88" fill="#7a2db2"/>
<rect x="359.97" y="248.20" width="0.92" height="5.88" fill="#00aeef"/>
<rect x="364.11" y="248.20" width="1.61" height="5.88" fill="#7a2db2"/>
<rect x="365.72" y="248.20" width="1.61" height="5.88" fill="#7fdbfa"/>
<rect x="374.23" y="248.20" width="4.14" height="6.58" fill="#00aeef"/>
<rect x="379.98" y="248.20" width="3.22" height="6.58" fill="#00aeef"/>
<rect x="385.27" y="248.20" width="5.29" height="6.58" fill="#00aeef"/>
<rect x="391.02" y="248.20" width="1.38" height="6.58" fill="#7a2db2"/>
<rect x="417.01" y="248.20" width="20.24" height="6.58" fill="#00aeef"/>
<rect x="441.39" y="248.20" width="1.15" height="5.88" fill="#7fdbfa"/>
<rect x="443.46" y="248.20" width="1.15" height="5.88" fill="#7fdbfa"/>
<rect x="445.76" y="248.20" width="2.07" height="6.58" fill="#7fdbfa"/>
<rect x="312.82" y="254.07" width="5.75" height="6.58" fill="#00aeef"/>
<rect x="318.57" y="254.07" width="2.53" height="6.58" fill="#7fdbfa"/>
<rect x="323.86" y="254.07" width="4.83" height="6.58" fill="#00aeef"/>
<rect x="334.90" y="254.07" width="4.83" height="5.88" fill="#7fdbfa"/>
<rect x="376.76" y="254.07" width="11.73" height="5.88" fill="#00aeef"/>
<rect x="388.95" y="254.07" width="1.61" height="5.88" fill="#fb0d14"/>
<rect x="391.71" y="254.07" width="0.92" height="5.88" fill="#7a2db2"/>
<rect x="394.70" y="254.07" width="2.07" height="5.88" fill="#7a2db2"/>
<rect x="400.22" y="254.07" width="2.53" height="5.88" fill="#fb0d14"/>
<rect x="402.98" y="254.07" width="1.84" height="5.88" fill="#7a2db2"/>
<rect x="410.80" y="254.07" width="0.92" height="5.88" fill="#c9a3de"/>
<rect x="413.10" y="254.07" width="0.92" height="5.88" fill="#fb0d14"/>
<rect x="417.01" y="254.07" width="17.02" height="6.58" fill="#00aeef"/>
<rect x="438.40" y="254.07" width="1.38" height="6.58" fill="#7fdbfa"/>
<rect x="441.85" y="254.07" width="3.22" height="6.58" fill="#00aeef"/>
<rect x="445.76" y="254.07" width="2.07" height="6.58" fill="#7fdbfa"/>
<rect x="311.90" y="259.95" width="2.99" height="5.88" fill="#7fdbfa"/>
<rect x="314.89" y="259.95" width="2.07" height="6.58" fill="#00aeef"/>
<rect x="316.96" y="259.95" width="3.68" height="5.88" fill="#7fdbfa"/>
<rect x="320.64" y="259.95" width="28.06" height="6.58" fill="#00aeef"/>
<rect x="351.00" y="259.95" width="2.53" height="5.88" fill="#00aeef"/>
<rect x="360.89" y="259.95" width="8.51" height="5.88" fill="#00aeef"/>
<rect x="380.90" y="259.95" width="1.61" height="6.58" fill="#c9a3de"/>
<rect x="386.65" y="259.95" width="1.15" height="6.58" fill="#7a2db2"/>
<rect x="393.78" y="259.95" width="22.77" height="5.88" fill="#00aeef"/>
<rect x="418.16" y="259.95" width="19.55" height="6.58" fill="#00aeef"/>
<rect x="398.15" y="259.95" width="0.92" height="5.88" fill="#7fdbfa"/>
<rect x="411.95" y="259.95" width="0.92" height="5.88" fill="#7fdbfa"/>
<rect x="437.71" y="259.95" width="2.99" height="5.88" fill="#7fdbfa"/>
<rect x="441.85" y="259.95" width="3.22" height="5.88" fill="#00aeef"/>
<rect x="445.76" y="259.95" width="2.07" height="6.58" fill="#7fdbfa"/>
<rect x="311.90" y="265.82" width="17.25" height="6.58" fill="#00aeef"/>
<rect x="329.15" y="265.82" width="2.76" height="5.88" fill="#7fdbfa"/>
<rect x="334.44" y="265.82" width="14.26" height="6.58" fill="#00aeef"/>
<rect x="380.90" y="265.82" width="1.61" height="6.58" fill="#c9a3de"/>
<rect x="386.65" y="265.82" width="1.15" height="6.58" fill="#7a2db2"/>
<rect x="392.17" y="265.82" width="1.61" height="5.88" fill="#fb0d14"/>
<rect x="419.77" y="265.82" width="19.55" height="6.58" fill="#00aeef"/>
<rect x="444.15" y="265.82" width="3.68" height="6.58" fill="#7fdbfa"/>
<rect x="311.90" y="271.70" width="4.14" height="6.58" fill="#00aeef"/>
<rect x="316.04" y="271.70" width="7.82" height="5.88" fill="#7fdbfa"/>
<rect x="323.86" y="271.70" width="4.83" height="6.58" fill="#00aeef"/>
<rect x="333.52" y="271.70" width="15.18" height="6.58" fill="#00aeef"/>
<rect x="365.72" y="271.70" width="2.07" height="5.88" fill="#00aeef"/>
<rect x="380.90" y="271.70" width="1.61" height="6.58" fill="#c9a3de"/>
<rect x="386.65" y="271.70" width="1.15" height="6.58" fill="#7a2db2"/>
<rect x="419.77" y="271.70" width="17.94" height="5.88" fill="#00aeef"/>
<rect x="437.71" y="271.70" width="1.61" height="6.58" fill="#7fdbfa"/>
<rect x="441.85" y="271.70" width="2.76" height="5.88" fill="#00aeef"/>
<rect x="445.76" y="271.70" width="2.07" height="6.58" fill="#7fdbfa"/>
<rect x="311.90" y="277.57" width="11.96" height="6.58" fill="#00aeef"/>
<rect x="325.93" y="277.57" width="2.76" height="6.58" fill="#00aeef"/>
<rect x="332.60" y="277.57" width="2.30" height="5.88" fill="#7fdbfa"/>
<rect x="336.51" y="277.57" width="7.59" height="6.58" fill="#00aeef"/>
<rect x="344.10" y="277.57" width="0.92" height="5.88" fill="#7fdbfa"/>
<rect x="345.02" y="277.57" width="3.68" height="6.58" fill="#00aeef"/>
<rect x="365.72" y="277.57" width="0.92" height="5.88" fill="#7fdbfa"/>
<rect x="380.90" y="277.57" width="1.61" height="5.88" fill="#c9a3de"/>
<rect x="386.65" y="277.57" width="1.15" height="5.88" fill="#7a2db2"/>
<rect x="392.17" y="277.57" width="1.61" height="5.88" fill="#fb0d14"/>
<rect x="422.07" y="277.57" width="1.61" height="5.88" fill="#7a2db2"/>
<rect x="432.65" y="277.57" width="0.92" height="5.88" fill="#7fdbfa"/>
<rect x="437.71" y="277.57" width="1.61" height="5.88" fill="#7fdbfa"/>
<rect x="442.31" y="277.57" width="1.15" height="5.88" fill="#7fdbfa"/>
<rect x="445.76" y="277.57" width="2.07" height="6.58" fill="#7fdbfa"/>
<rect x="311.90" y="283.45" width="15.64" height="6.58" fill="#00aeef"/>
<rect x="334.90" y="283.45" width="99.13" height="6.58" fill="#00aeef"/>
<rect x="358.36" y="283.45" width="0.92" height="5.88" fill="#7fdbfa"/>
<rect x="373.31" y="283.45" width="0.92" height="5.88" fill="#7fdbfa"/>
<rect x="390.10" y="283.45" width="0.92" height="5.88" fill="#7fdbfa"/>
<rect x="395.16" y="283.45" width="0.92" height="5.88" fill="#7fdbfa"/>
<rect x="408.50" y="283.45" width="0.69" height="5.88" fill="#7fdbfa"/>
<rect x="412.18" y="283.45" width="0.69" height="5.88" fill="#7fdbfa"/>
<rect x="435.18" y="283.45" width="1.61" height="5.88" fill="#7fdbfa"/>
<rect x="439.32" y="283.45" width="1.61" height="6.58" fill="#7fdbfa"/>
<rect x="445.76" y="283.45" width="2.07" height="6.58" fill="#7fdbfa"/>
<rect x="311.90" y="289.32" width="8.74" height="5.88" fill="#7fdbfa"/>
<rect x="321.56" y="289.32" width="0.92" height="5.88" fill="#7fdbfa"/>
<rect x="323.40" y="289.32" width="0.92" height="5.88" fill="#7fdbfa"/>
<rect x="325.93" y="289.32" width="3.22" height="6.58" fill="#00aeef"/>
<rect x="329.15" y="289.32" width="2.07" height="5.88" fill="#7fdbfa"/>
<rect x="337.66" y="289.32" width="96.37" height="6.58" fill="#00aeef"/>
<rect x="438.40" y="289.32" width="2.53" height="6.58" fill="#7fdbfa"/>
<rect x="445.76" y="289.32" width="2.07" height="6.58" fill="#7fdbfa"/>
<rect x="311.90" y="295.20" width="28.98" height="6.58" fill="#00aeef"/>
<rect x="382.05" y="295.20" width="1.15" height="6.58" fill="#7a2db2"/>
<rect x="386.19" y="295.20" width="1.15" height="6.58" fill="#7a2db2"/>
<rect x="391.02" y="295.20" width="1.38" height="6.58" fill="#c9a3de"/>
<rect x="418.16" y="295.20" width="1.61" height="5.88" fill="#00aeef"/>
<rect x="422.07" y="295.20" width="1.61" height="6.58" fill="#7a2db2"/>
<rect x="429.20" y="295.20" width="5.75" height="5.88" fill="#7fdbfa"/>
<rect x="437.71" y="295.20" width="4.14" height="6.58" fill="#7fdbfa"/>
<rect x="443.00" y="295.20" width="4.83" height="6.58" fill="#7fdbfa"/>
<rect x="312.82" y="301.07" width="6.90" height="5.88" fill="#7fdbfa"/>
<rect x="319.72" y="301.07" width="21.16" height="6.58" fill="#00aeef"/>
<rect x="382.05" y="301.07" width="1.15" height="6.58" fill="#7a2db2"/>
<rect x="386.19" y="301.07" width="1.15" height="6.58" fill="#7a2db2"/>
<rect x="391.02" y="301.07" width="1.38" height="6.58" fill="#c9a3de"/>
<rect x="417.70" y="301.07" width="0.92" height="5.88" fill="#7fdbfa"/>
<rect x="422.07" y="301.07" width="1.38" height="5.88" fill="#7a2db2"/>
<rect x="431.96" y="301.07" width="2.99" height="6.58" fill="#00aeef"/>
<rect x="434.95" y="301.07" width="2.30" height="6.58" fill="#7fdbfa"/>
<rect x="439.32" y="301.07" width="8.51" height="6.58" fill="#7fdbfa"/>
<rect x="311.90" y="306.95" width="17.71" height="6.58" fill="#00aeef"/>
<rect x="332.83" y="306.95" width="8.05" height="5.88" fill="#00aeef"/>
<rect x="382.05" y="306.95" width="1.15" height="6.58" fill="#7a2db2"/>
<rect x="386.19" y="306.95" width="1.15" height="6.58" fill="#7a2db2"/>
<rect x="391.02" y="306.95" width="1.38" height="6.58" fill="#c9a3de"/>
<rect x="417.70" y="306.95" width="0.92" height="6.58" fill="#00aeef"/>
<rect x="429.20" y="306.95" width="6.90" height="6.58" fill="#00aeef"/>
<rect x="436.10" y="306.95" width="4.60" height="5.88" fill="#7fdbfa"/>
<rect x="443.00" y="306.95" width="4.83" height="6.58" fill="#7fdbfa"/>
<rect x="311.90" y="312.82" width="15.64" height="6.58" fill="#00aeef"/>
<rect x="327.54" y="312.82" width="2.07" height="5.88" fill="#7fdbfa"/>
<rect x="345.02" y="312.82" width="1.61" height="6.58" fill="#00aeef"/>
<rect x="350.08" y="312.82" width="1.15" height="6.58" fill="#9a5ac5"/>
<rect x="363.88" y="312.82" width="1.61" height="6.58" fill="#7a2db2"/>
<rect x="376.76" y="312.82" width="1.15" height="6.58" fill="#00aeef"/>
<rect x="381.59" y="312.82" width="1.61" height="6.58" fill="#7a2db2"/>
<rect x="384.12" y="312.82" width="2.07" height="6.58" fill="#fb0d14"/>
<rect x="386.19" y="312.82" width="1.38" height="6.58" fill="#7a2db2"/>
<rect x="388.95" y="312.82" width="2.07" height="6.58" fill="#ff5a5f"/>
<rect x="391.48" y="312.82" width="0.92" height="6.58" fill="#c9a3de"/>
<rect x="394.70" y="312.82" width="2.30" height="6.58" fill="#7a2db2"/>
<rect x="400.22" y="312.82" width="2.99" height="6.58" fill="#fb0d14"/>
<rect x="403.21" y="312.82" width="2.30" height="6.58" fill="#7a2db2"/>
<rect x="410.80" y="312.82" width="0.92" height="6.58" fill="#c9a3de"/>
<rect x="413.10" y="312.82" width="0.92" height="6.58" fill="#fb0d14"/>
<rect x="405.97" y="312.82" width="1.84" height="6.58" fill="#00aeef"/>
<rect x="417.70" y="312.82" width="0.92" height="6.58" fill="#00aeef"/>
<rect x="422.30" y="312.82" width="15.41" height="6.58" fill="#00aeef"/>
<rect x="445.76" y="312.82" width="2.07" height="6.58" fill="#7fdbfa"/>
<rect x="311.90" y="318.70" width="3.45" height="6.58" fill="#7fdbfa"/>
<rect x="315.35" y="318.70" width="3.22" height="5.88" fill="#00aeef"/>
<rect x="318.57" y="318.70" width="4.14" height="6.58" fill="#7fdbfa"/>
<rect x="322.71" y="318.70" width="7.59" height="5.88" fill="#00aeef"/>
<rect x="330.30" y="318.70" width="1.61" height="6.58" fill="#7fdbfa"/>
<rect x="337.20" y="318.70" width="1.61" height="5.88" fill="#7fdbfa"/>
<rect x="340.65" y="318.70" width="1.38" height="5.88" fill="#7a2db2"/>
<rect x="345.02" y="318.70" width="1.61" height="6.58" fill="#00aeef"/>
<rect x="350.08" y="318.70" width="1.15" height="6.58" fill="#9a5ac5"/>
<rect x="363.88" y="318.70" width="1.61" height="6.58" fill="#7a2db2"/>
<rect x="376.76" y="318.70" width="1.15" height="6.58" fill="#00aeef"/>
<rect x="353.07" y="318.70" width="1.61" height="6.58" fill="#fb0d14"/>
<rect x="381.59" y="318.70" width="1.61" height="6.58" fill="#7a2db2"/>
<rect x="384.12" y="318.70" width="2.07" height="6.58" fill="#fb0d14"/>
<rect x="386.19" y="318.70" width="1.38" height="6.58" fill="#7a2db2"/>
<rect x="388.95" y="318.70" width="2.07" height="6.58" fill="#ff5a5f"/>
<rect x="391.48" y="318.70" width="0.92" height="6.58" fill="#c9a3de"/>
<rect x="394.70" y="318.70" width="2.30" height="6.58" fill="#7a2db2"/>
<rect x="400.22" y="318.70" width="2.99" height="6.58" fill="#fb0d14"/>
<rect x="403.21" y="318.70" width="2.30" height="6.58" fill="#7a2db2"/>
<rect x="410.80" y="318.70" width="0.92" height="6.58" fill="#c9a3de"/>
<rect x="413.10" y="318.70" width="0.92" height="6.58" fill="#fb0d14"/>
<rect x="405.97" y="318.70" width="1.84" height="5.88" fill="#00aeef"/>
<rect x="417.70" y="318.70" width="0.92" height="5.88" fill="#00aeef"/>
<rect x="422.30" y="318.70" width="15.41" height="5.88" fill="#00aeef"/>
<rect x="445.76" y="318.70" width="2.07" height="6.58" fill="#7fdbfa"/>
<rect x="311.90" y="324.57" width="8.74" height="6.58" fill="#7fdbfa"/>
<rect x="322.71" y="324.57" width="2.76" height="5.88" fill="#7fdbfa"/>
<rect x="329.15" y="324.57" width="2.76" height="5.88" fill="#7fdbfa"/>
<rect x="333.52" y="324.57" width="0.92" height="5.88" fill="#7fdbfa"/>
<rect x="345.02" y="324.57" width="1.61" height="6.58" fill="#00aeef"/>
<rect x="350.08" y="324.57" width="1.15" height="6.58" fill="#9a5ac5"/>
<rect x="363.88" y="324.57" width="1.61" height="6.58" fill="#7a2db2"/>
<rect x="376.76" y="324.57" width="1.15" height="6.58" fill="#00aeef"/>
<rect x="353.07" y="324.57" width="1.61" height="5.88" fill="#fb0d14"/>
<rect x="381.59" y="324.57" width="1.61" height="6.58" fill="#7a2db2"/>
<rect x="384.12" y="324.57" width="2.07" height="6.58" fill="#fb0d14"/>
<rect x="386.19" y="324.57" width="1.38" height="6.58" fill="#7a2db2"/>
<rect x="388.95" y="324.57" width="2.07" height="6.58" fill="#ff5a5f"/>
<rect x="391.48" y="324.57" width="0.92" height="6.58" fill="#c9a3de"/>
<rect x="394.70" y="324.57" width="2.30" height="6.58" fill="#7a2db2"/>
<rect x="400.22" y="324.57" width="2.99" height="6.58" fill="#fb0d14"/>
<rect x="403.21" y="324.57" width="2.30" height="6.58" fill="#7a2db2"/>
<rect x="410.80" y="324.57" width="0.92" height="6.58" fill="#c9a3de"/>
<rect x="413.10" y="324.57" width="0.92" height="6.58" fill="#fb0d14"/>
<rect x="424.37" y="324.57" width="0.69" height="5.88" fill="#fb0d14"/>
<rect x="430.81" y="324.57" width="1.38" height="5.88" fill="#7fdbfa"/>
<rect x="433.80" y="324.57" width="1.38" height="5.88" fill="#7fdbfa"/>
<rect x="437.25" y="324.57" width="2.07" height="5.88" fill="#7fdbfa"/>
<rect x="441.85" y="324.57" width="1.15" height="6.58" fill="#7fdbfa"/>
<rect x="445.76" y="324.57" width="2.07" height="6.58" fill="#7fdbfa"/>
<rect x="311.90" y="330.45" width="5.06" height="6.58" fill="#00aeef"/>
<rect x="316.96" y="330.45" width="3.68" height="5.88" fill="#7fdbfa"/>
<rect x="322.25" y="330.45" width="10.58" height="6.58" fill="#00aeef"/>
<rect x="345.02" y="330.45" width="1.61" height="6.58" fill="#00aeef"/>
<rect x="350.08" y="330.45" width="1.15" height="6.58" fill="#9a5ac5"/>
<rect x="363.88" y="330.45" width="1.61" height="6.58" fill="#7a2db2"/>
<rect x="376.76" y="330.45" width="1.15" height="6.58" fill="#00aeef"/>
<rect x="381.59" y="330.45" width="1.61" height="6.58" fill="#7a2db2"/>
<rect x="384.12" y="330.45" width="2.07" height="6.58" fill="#fb0d14"/>
<rect x="386.19" y="330.45" width="1.38" height="6.58" fill="#7a2db2"/>
<rect x="388.95" y="330.45" width="2.07" height="6.58" fill="#ff5a5f"/>
<rect x="391.48" y="330.45" width="0.92" height="6.58" fill="#c9a3de"/>
<rect x="394.70" y="330.45" width="2.30" height="6.58" fill="#7a2db2"/>
<rect x="400.22" y="330.45" width="2.99" height="6.58" fill="#fb0d14"/>
<rect x="403.21" y="330.45" width="2.30" height="6.58" fill="#7a2db2"/>
<rect x="410.80" y="330.45" width="0.92" height="6.58" fill="#c9a3de"/>
<rect x="413.10" y="330.45" width="0.92" height="6.58" fill="#fb0d14"/>
<rect x="419.77" y="330.45" width="7.36" height="6.58" fill="#00aeef"/>
<rect x="427.59" y="330.45" width="1.15" height="5.88" fill="#7fdbfa"/>
<rect x="431.96" y="330.45" width="6.21" height="6.58" fill="#00aeef"/>
<rect x="440.47" y="330.45" width="4.83" height="5.88" fill="#7fdbfa"/>
<rect x="445.76" y="330.45" width="2.07" height="6.58" fill="#7fdbfa"/>
<rect x="311.90" y="336.32" width="18.86" height="6.58" fill="#00aeef"/>
<rect x="345.02" y="336.32" width="1.61" height="6.58" fill="#00aeef"/>
<rect x="350.08" y="336.32" width="1.15" height="6.58" fill="#9a5ac5"/>
<rect x="363.88" y="336.32" width="1.61" height="6.58" fill="#7a2db2"/>
<rect x="376.76" y="336.32" width="1.15" height="6.58" fill="#00aeef"/>
<rect x="381.59" y="336.32" width="1.61" height="6.58" fill="#7a2db2"/>
<rect x="384.12" y="336.32" width="2.07" height="6.58" fill="#fb0d14"/>
<rect x="386.19" y="336.32" width="1.38" height="6.58" fill="#7a2db2"/>
<rect x="388.95" y="336.32" width="2.07" height="6.58" fill="#ff5a5f"/>
<rect x="391.48" y="336.32" width="0.92" height="6.58" fill="#c9a3de"/>
<rect x="394.70" y="336.32" width="2.30" height="6.58" fill="#7a2db2"/>
<rect x="400.22" y="336.32" width="2.99" height="6.58" fill="#fb0d14"/>
<rect x="403.21" y="336.32" width="2.30" height="6.58" fill="#7a2db2"/>
<rect x="410.80" y="336.32" width="0.92" height="6.58" fill="#c9a3de"/>
<rect x="413.10" y="336.32" width="0.92" height="6.58" fill="#fb0d14"/>
<rect x="419.77" y="336.32" width="17.94" height="6.58" fill="#00aeef"/>
<rect x="437.71" y="336.32" width="2.07" height="5.88" fill="#7fdbfa"/>
<rect x="441.85" y="336.32" width="2.76" height="5.88" fill="#00aeef"/>
<rect x="445.76" y="336.32" width="2.07" height="6.58" fill="#7fdbfa"/>
<rect x="311.90" y="342.20" width="5.52" height="6.58" fill="#7fdbfa"/>
<rect x="318.57" y="342.20" width="3.22" height="6.58" fill="#7fdbfa"/>
<rect x="323.40" y="342.20" width="1.61" height="6.58" fill="#7fdbfa"/>
<rect x="325.01" y="342.20" width="7.36" height="6.58" fill="#00aeef"/>
<rect x="345.02" y="342.20" width="1.61" height="6.58" fill="#00aeef"/>
<rect x="350.08" y="342.20" width="1.15" height="6.58" fill="#9a5ac5"/>
<rect x="363.88" y="342.20" width="1.61" height="6.58" fill="#7a2db2"/>
<rect x="376.76" y="342.20" width="1.15" height="6.58" fill="#00aeef"/>
<rect x="353.99" y="342.20" width="2.30" height="6.58" fill="#fb0d14"/>
<rect x="381.59" y="342.20" width="1.61" height="6.58" fill="#7a2db2"/>
<rect x="384.12" y="342.20" width="2.07" height="6.58" fill="#fb0d14"/>
<rect x="386.19" y="342.20" width="1.38" height="6.58" fill="#7a2db2"/>
<rect x="388.95" y="342.20" width="2.07" height="6.58" fill="#ff5a5f"/>
<rect x="391.48" y="342.20" width="0.92" height="6.58" fill="#c9a3de"/>
<rect x="394.70" y="342.20" width="2.30" height="6.58" fill="#7a2db2"/>
<rect x="400.22" y="342.20" width="2.99" height="6.58" fill="#fb0d14"/>
<rect x="403.21" y="342.20" width="2.30" height="6.58" fill="#7a2db2"/>
<rect x="410.80" y="342.20" width="0.92" height="6.58" fill="#c9a3de"/>
<rect x="413.10" y="342.20" width="0.92" height="6.58" fill="#fb0d14"/>
<rect x="419.77" y="342.20" width="7.82" height="5.88" fill="#00aeef"/>
<rect x="432.88" y="342.20" width="2.07" height="5.88" fill="#7fdbfa"/>
<rect x="434.95" y="342.20" width="3.22" height="6.58" fill="#00aeef"/>
<rect x="441.39" y="342.20" width="2.07" height="5.88" fill="#7fdbfa"/>
<rect x="445.76" y="342.20" width="2.07" height="6.58" fill="#7fdbfa"/>
<rect x="311.90" y="348.07" width="13.57" height="6.58" fill="#7fdbfa"/>
<rect x="327.08" y="348.07" width="6.90" height="5.88" fill="#00aeef"/>
<rect x="334.90" y="348.07" width="1.61" height="5.88" fill="#c9a3de"/>
<rect x="345.02" y="348.07" width="1.61" height="6.58" fill="#00aeef"/>
<rect x="350.08" y="348.07" width="1.15" height="6.58" fill="#9a5ac5"/>
<rect x="363.88" y="348.07" width="1.61" height="6.58" fill="#7a2db2"/>
<rect x="376.76" y="348.07" width="1.15" height="6.58" fill="#00aeef"/>
<rect x="353.07" y="348.07" width="1.61" height="5.88" fill="#fb0d14"/>
<rect x="381.59" y="348.07" width="1.61" height="6.58" fill="#7a2db2"/>
<rect x="384.12" y="348.07" width="2.07" height="6.58" fill="#fb0d14"/>
<rect x="386.19" y="348.07" width="1.38" height="6.58" fill="#7a2db2"/>
<rect x="388.95" y="348.07" width="2.07" height="6.58" fill="#ff5a5f"/>
<rect x="391.48" y="348.07" width="0.92" height="6.58" fill="#c9a3de"/>
<rect x="394.70" y="348.07" width="2.30" height="6.58" fill="#7a2db2"/>
<rect x="400.22" y="348.07" width="2.99" height="6.58" fill="#fb0d14"/>
<rect x="403.21" y="348.07" width="2.30" height="6.58" fill="#7a2db2"/>
<rect x="410.80" y="348.07" width="0.92" height="6.58" fill="#c9a3de"/>
<rect x="413.10" y="348.07" width="0.92" height="6.58" fill="#fb0d14"/>
<rect x="417.70" y="348.07" width="2.07" height="5.88" fill="#7fdbfa"/>
<rect x="428.74" y="348.07" width="1.61" height="6.58" fill="#00aeef"/>
<rect x="434.03" y="348.07" width="3.68" height="6.58" fill="#00aeef"/>
<rect x="445.76" y="348.07" width="2.07" height="6.58" fill="#7fdbfa"/>
<rect x="311.90" y="353.95" width="11.96" height="6.58" fill="#7fdbfa"/>
<rect x="327.54" y="353.95" width="1.61" height="5.88" fill="#7fdbfa"/>
<rect x="345.02" y="353.95" width="1.61" height="6.58" fill="#00aeef"/>
<rect x="350.08" y="353.95" width="1.15" height="5.88" fill="#9a5ac5"/>
<rect x="363.88" y="353.95" width="1.61" height="5.88" fill="#7a2db2"/>
<rect x="376.76" y="353.95" width="1.15" height="5.88" fill="#00aeef"/>
<rect x="381.59" y="353.95" width="1.61" height="6.58" fill="#7a2db2"/>
<rect x="384.12" y="353.95" width="2.07" height="5.88" fill="#fb0d14"/>
<rect x="386.19" y="353.95" width="1.38" height="6.58" fill="#7a2db2"/>
<rect x="388.95" y="353.95" width="2.07" height="5.88" fill="#ff5a5f"/>
<rect x="391.48" y="353.95" width="0.92" height="5.88" fill="#c9a3de"/>
<rect x="394.70" y="353.95" width="2.30" height="5.88" fill="#7a2db2"/>
<rect x="400.22" y="353.95" width="2.99" height="5.88" fill="#fb0d14"/>
<rect x="403.21" y="353.95" width="2.30" height="5.88" fill="#7a2db2"/>
<rect x="410.80" y="353.95" width="0.92" height="5.88" fill="#c9a3de"/>
<rect x="413.10" y="353.95" width="0.92" height="5.88" fill="#fb0d14"/>
<rect x="422.07" y="353.95" width="1.61" height="5.88" fill="#7a2db2"/>
<rect x="425.98" y="353.95" width="11.73" height="6.58" fill="#00aeef"/>
<rect x="437.71" y="353.95" width="1.61" height="6.58" fill="#7fdbfa"/>
<rect x="445.76" y="353.95" width="2.07" height="6.58" fill="#7fdbfa"/>
<rect x="311.90" y="359.82" width="8.28" height="5.88" fill="#00aeef"/>
<rect x="320.18" y="359.82" width="1.61" height="6.58" fill="#7fdbfa"/>
<rect x="321.79" y="359.82" width="19.09" height="6.58" fill="#00aeef"/>
<rect x="345.02" y="359.82" width="0.92" height="6.58" fill="#00aeef"/>
<rect x="381.59" y="359.82" width="1.61" height="6.58" fill="#7a2db2"/>
<rect x="386.19" y="359.82" width="1.38" height="5.88" fill="#7a2db2"/>
<rect x="419.77" y="359.82" width="17.94" height="6.58" fill="#00aeef"/>
<rect x="437.71" y="359.82" width="2.07" height="5.88" fill="#7fdbfa"/>
<rect x="443.46" y="359.82" width="4.37" height="6.58" fill="#7fdbfa"/>
<rect x="311.90" y="365.70" width="11.50" height="6.58" fill="#7fdbfa"/>
<rect x="323.40" y="365.70" width="2.53" height="6.58" fill="#00aeef"/>
<rect x="332.83" y="365.70" width="3.22" height="6.58" fill="#7fdbfa"/>
<rect x="344.56" y="365.70" width="1.38" height="5.88" fill="#00aeef"/>
<rect x="367.33" y="365.70" width="1.38" height="5.88" fill="#7fdbfa"/>
<rect x="381.59" y="365.70" width="1.61" height="6.58" fill="#7a2db2"/>
<rect x="391.94" y="365.70" width="0.92" height="6.58" fill="#c9a3de"/>
<rect x="419.77" y="365.70" width="2.53" height="6.58" fill="#00aeef"/>
<rect x="423.22" y="365.70" width="1.15" height="5.88" fill="#7fdbfa"/>
<rect x="425.52" y="365.70" width="1.15" height="5.88" fill="#7fdbfa"/>
<rect x="427.82" y="365.70" width="1.15" height="5.88" fill="#7fdbfa"/>
<rect x="430.12" y="365.70" width="1.15" height="5.88" fill="#7fdbfa"/>
<rect x="431.96" y="365.70" width="7.36" height="6.58" fill="#00aeef"/>
<rect x="443.46" y="365.70" width="4.37" height="6.58" fill="#7fdbfa"/>
<rect x="311.90" y="371.57" width="1.38" height="5.88" fill="#7fdbfa"/>
<rect x="313.28" y="371.57" width="2.76" height="6.58" fill="#00aeef"/>
<rect x="316.04" y="371.57" width="2.53" height="5.88" fill="#7fdbfa"/>
<rect x="319.72" y="371.57" width="2.53" height="5.88" fill="#7fdbfa"/>
<rect x="323.86" y="371.57" width="6.44" height="6.58" fill="#00aeef"/>
<rect x="330.76" y="371.57" width="1.61" height="5.88" fill="#7a2db2"/>
<rect x="333.98" y="371.57" width="0.92" height="5.88" fill="#7fdbfa"/>
<rect x="344.10" y="371.57" width="0.92" height="5.88" fill="#7fdbfa"/>
<rect x="371.47" y="371.57" width="1.15" height="5.88" fill="#c9a3de"/>
<rect x="381.59" y="371.57" width="1.61" height="5.88" fill="#7a2db2"/>
<rect x="391.94" y="371.57" width="0.92" height="5.88" fill="#c9a3de"/>
<rect x="395.85" y="371.57" width="1.61" height="5.88" fill="#fb0d14"/>
<rect x="419.77" y="371.57" width="17.94" height="6.58" fill="#00aeef"/>
<rect x="438.40" y="371.57" width="2.30" height="6.58" fill="#7fdbfa"/>
<rect x="443.46" y="371.57" width="4.37" height="6.58" fill="#7fdbfa"/>
<rect x="311.90" y="377.45" width="62.33" height="6.58" fill="#00aeef"/>
<rect x="375.84" y="377.45" width="7.36" height="6.58" fill="#00aeef"/>
<rect x="385.27" y="377.45" width="51.98" height="6.58" fill="#00aeef"/>
<rect x="355.14" y="377.45" width="1.15" height="5.88" fill="#7fdbfa"/>
<rect x="437.25" y="377.45" width="2.07" height="5.88" fill="#7fdbfa"/>
<rect x="441.39" y="377.45" width="4.37" height="6.58" fill="#00aeef"/>
<rect x="445.76" y="377.45" width="2.07" height="5.88" fill="#7fdbfa"/>
<rect x="311.90" y="383.32" width="1.84" height="5.88" fill="#7fdbfa"/>
<rect x="313.74" y="383.32" width="3.22" height="6.58" fill="#00aeef"/>
<rect x="316.96" y="383.32" width="6.44" height="5.88" fill="#7fdbfa"/>
<rect x="323.40" y="383.32" width="113.85" height="6.58" fill="#00aeef"/>
<rect x="377.91" y="383.32" width="1.61" height="5.88" fill="#7fdbfa"/>
<rect x="402.29" y="383.32" width="1.15" height="5.88" fill="#7fdbfa"/>
<rect x="414.48" y="383.32" width="0.92" height="5.88" fill="#7fdbfa"/>
<rect x="441.39" y="383.32" width="5.98" height="5.88" fill="#00aeef"/>
<rect x="383.20" y="383.32" width="1.15" height="6.58" fill="#7fdbfa"/>
<rect x="311.90" y="389.20" width="125.81" height="6.58" fill="#00aeef"/>
<rect x="344.10" y="389.20" width="0.69" height="5.88" fill="#7fdbfa"/>
<rect x="375.38" y="389.20" width="0.69" height="5.88" fill="#7fdbfa"/>
<rect x="441.85" y="389.20" width="5.98" height="6.58" fill="#7fdbfa"/>
<rect x="383.20" y="389.20" width="1.15" height="6.58" fill="#7fdbfa"/>
<rect x="311.90" y="395.07" width="125.35" height="6.58" fill="#00aeef"/>
<rect x="355.14" y="395.07" width="1.15" height="5.88" fill="#7fdbfa"/>
<rect x="358.36" y="395.07" width="1.61" height="5.88" fill="#7fdbfa"/>
<rect x="397.92" y="395.07" width="1.38" height="5.88" fill="#7fdbfa"/>
<rect x="437.25" y="395.07" width="3.68" height="6.58" fill="#7fdbfa"/>
<rect x="441.16" y="395.07" width="3.45" height="5.88" fill="#00aeef"/>
<rect x="445.30" y="395.07" width="2.53" height="6.58" fill="#7fdbfa"/>
<rect x="383.20" y="395.07" width="1.15" height="6.58" fill="#7fdbfa"/>
<rect x="311.90" y="400.95" width="17.71" height="6.58" fill="#00aeef"/>
<rect x="331.91" y="400.95" width="22.77" height="6.58" fill="#00aeef"/>
<rect x="356.29" y="400.95" width="0.92" height="6.58" fill="#00aeef"/>
<rect x="358.82" y="400.95" width="78.43" height="6.58" fill="#00aeef"/>
<rect x="388.95" y="400.95" width="0.92" height="5.88" fill="#7fdbfa"/>
<rect x="412.18" y="400.95" width="0.92" height="5.88" fill="#7fdbfa"/>
<rect x="437.25" y="400.95" width="6.21" height="5.88" fill="#7fdbfa"/>
<rect x="445.07" y="400.95" width="2.76" height="5.88" fill="#7fdbfa"/>
<rect x="383.20" y="400.95" width="1.15" height="6.58" fill="#7fdbfa"/>
<rect x="311.90" y="406.82" width="135.93" height="6.58" fill="#00aeef"/>
<rect x="354.68" y="406.82" width="0.69" height="5.88" fill="#7fdbfa"/>
<rect x="383.20" y="406.82" width="1.15" height="5.88" fill="#7fdbfa"/>
<rect x="311.90" y="412.70" width="7.82" height="6.58" fill="#7fdbfa"/>
<rect x="319.72" y="412.70" width="9.43" height="6.58" fill="#00aeef"/>
<rect x="340.88" y="412.70" width="42.32" height="6.58" fill="#00aeef"/>
<rect x="385.27" y="412.70" width="23.69" height="6.58" fill="#00aeef"/>
<rect x="411.26" y="412.70" width="34.04" height="6.58" fill="#00aeef"/>
<rect x="445.30" y="412.70" width="2.53" height="5.88" fill="#7fdbfa"/>
<rect x="311.90" y="418.57" width="8.74" height="5.88" fill="#7fdbfa"/>
<rect x="322.71" y="418.57" width="4.37" height="6.58" fill="#00aeef"/>
<rect x="327.08" y="418.57" width="3.68" height="5.88" fill="#7fdbfa"/>
<rect x="333.06" y="418.57" width="0.92" height="5.88" fill="#7fdbfa"/>
<rect x="336.51" y="418.57" width="101.20" height="6.58" fill="#00aeef"/>
<rect x="358.36" y="418.57" width="0.92" height="5.88" fill="#7fdbfa"/>
<rect x="401.60" y="418.57" width="1.38" height="5.88" fill="#7fdbfa"/>
<rect x="409.65" y="418.57" width="2.07" height="5.88" fill="#7fdbfa"/>
<rect x="437.71" y="418.57" width="1.61" height="6.58" fill="#7fdbfa"/>
<rect x="439.32" y="418.57" width="2.07" height="5.88" fill="#00aeef"/>
<rect x="441.39" y="418.57" width="2.07" height="6.58" fill="#7fdbfa"/>
<rect x="443.46" y="418.57" width="3.91" height="5.88" fill="#00aeef"/>
<rect x="383.20" y="418.57" width="1.15" height="5.88" fill="#7fdbfa"/>
<rect x="311.90" y="424.45" width="42.78" height="6.58" fill="#00aeef"/>
<rect x="355.60" y="424.45" width="27.60" height="6.58" fill="#00aeef"/>
<rect x="385.27" y="424.45" width="22.77" height="5.88" fill="#00aeef"/>
<rect x="410.11" y="424.45" width="27.14" height="6.58" fill="#00aeef"/>
<rect x="350.31" y="424.45" width="1.15" height="5.88" fill="#7fdbfa"/>
<rect x="437.25" y="424.45" width="2.07" height="5.88" fill="#7fdbfa"/>
<rect x="441.85" y="424.45" width="1.15" height="5.88" fill="#7fdbfa"/>
<rect x="444.15" y="424.45" width="1.15" height="5.88" fill="#7fdbfa"/>
<rect x="446.45" y="424.45" width="1.38" height="6.58" fill="#7fdbfa"/>
<rect x="311.90" y="430.32" width="16.10" height="6.58" fill="#00aeef"/>
<rect x="328.00" y="430.32" width="2.30" height="5.88" fill="#7fdbfa"/>
<rect x="335.59" y="430.32" width="4.14" height="6.58" fill="#7fdbfa"/>
<rect x="344.56" y="430.32" width="2.30" height="6.58" fill="#00aeef"/>
<rect x="361.58" y="430.32" width="0.92" height="5.88" fill="#7fdbfa"/>
<rect x="363.19" y="430.32" width="1.84" height="6.58" fill="#7a2db2"/>
<rect x="365.03" y="430.32" width="1.15" height="5.88" fill="#00aeef"/>
<rect x="380.90" y="430.32" width="1.84" height="6.58" fill="#c9a3de"/>
<rect x="388.95" y="430.32" width="1.84" height="6.58" fill="#ff5a5f"/>
<rect x="391.94" y="430.32" width="0.92" height="6.58" fill="#7a2db2"/>
<rect x="394.70" y="430.32" width="2.30" height="6.58" fill="#7a2db2"/>
<rect x="400.22" y="430.32" width="0.92" height="6.58" fill="#fb0d14"/>
<rect x="402.98" y="430.32" width="1.84" height="6.58" fill="#7a2db2"/>
<rect x="411.03" y="430.32" width="0.69" height="6.58" fill="#c9a3de"/>
<rect x="413.10" y="430.32" width="0.92" height="6.58" fill="#fb0d14"/>
<rect x="388.26" y="430.32" width="0.69" height="5.88" fill="#ff5a5f"/>
<rect x="417.01" y="430.32" width="0.69" height="5.88" fill="#00aeef"/>
<rect x="429.20" y="430.32" width="4.83" height="5.88" fill="#00aeef"/>
<rect x="436.10" y="430.32" width="2.76" height="5.88" fill="#00aeef"/>
<rect x="445.30" y="430.32" width="2.53" height="6.58" fill="#7fdbfa"/>
<rect x="311.90" y="436.20" width="17.71" height="6.58" fill="#00aeef"/>
<rect x="333.98" y="436.20" width="5.75" height="6.58" fill="#7fdbfa"/>
<rect x="341.11" y="436.20" width="0.92" height="6.58" fill="#7a2db2"/>
<rect x="345.02" y="436.20" width="1.84" height="6.58" fill="#00aeef"/>
<rect x="363.88" y="436.20" width="1.38" height="5.88" fill="#7a2db2"/>
<rect x="380.90" y="436.20" width="1.84" height="6.58" fill="#c9a3de"/>
<rect x="388.95" y="436.20" width="1.84" height="6.58" fill="#ff5a5f"/>
<rect x="391.94" y="436.20" width="0.92" height="6.58" fill="#7a2db2"/>
<rect x="394.70" y="436.20" width="2.30" height="6.58" fill="#7a2db2"/>
<rect x="400.22" y="436.20" width="2.53" height="6.58" fill="#fb0d14"/>
<rect x="402.98" y="436.20" width="1.84" height="6.58" fill="#7a2db2"/>
<rect x="411.03" y="436.20" width="0.69" height="6.58" fill="#c9a3de"/>
<rect x="413.10" y="436.20" width="0.92" height="6.58" fill="#fb0d14"/>
<rect x="420.00" y="436.20" width="2.99" height="5.88" fill="#00aeef"/>
<rect x="428.28" y="436.20" width="2.07" height="6.58" fill="#7fdbfa"/>
<rect x="435.18" y="436.20" width="0.92" height="5.88" fill="#00aeef"/>
<rect x="437.25" y="436.20" width="3.68" height="6.58" fill="#7fdbfa"/>
<rect x="442.54" y="436.20" width="1.15" height="5.88" fill="#7fdbfa"/>
<rect x="445.30" y="436.20" width="2.53" height="6.58" fill="#7fdbfa"/>
<rect x="311.90" y="442.07" width="16.10" height="6.58" fill="#00aeef"/>
<rect x="336.51" y="442.07" width="3.22" height="6.58" fill="#7fdbfa"/>
<rect x="341.11" y="442.07" width="0.92" height="5.88" fill="#7a2db2"/>
<rect x="345.02" y="442.07" width="1.84" height="6.58" fill="#00aeef"/>
<rect x="364.11" y="442.07" width="1.61" height="5.88" fill="#c9a3de"/>
<rect x="380.90" y="442.07" width="1.84" height="6.58" fill="#c9a3de"/>
<rect x="388.95" y="442.07" width="1.84" height="6.58" fill="#ff5a5f"/>
<rect x="391.94" y="442.07" width="0.92" height="6.58" fill="#7a2db2"/>
<rect x="394.70" y="442.07" width="2.30" height="6.58" fill="#7a2db2"/>
<rect x="400.22" y="442.07" width="2.53" height="6.58" fill="#fb0d14"/>
<rect x="402.98" y="442.07" width="1.84" height="6.58" fill="#7a2db2"/>
<rect x="411.03" y="442.07" width="0.69" height="6.58" fill="#c9a3de"/>
<rect x="413.10" y="442.07" width="0.92" height="6.58" fill="#fb0d14"/>
<rect x="405.97" y="442.07" width="2.07" height="6.58" fill="#00aeef"/>
<rect x="422.30" y="442.07" width="1.38" height="5.88" fill="#c9a3de"/>
<rect x="429.20" y="442.07" width="1.61" height="5.88" fill="#7fdbfa"/>
<rect x="432.42" y="442.07" width="2.07" height="6.58" fill="#7fdbfa"/>
<rect x="437.25" y="442.07" width="3.68" height="6.58" fill="#7fdbfa"/>
<rect x="445.30" y="442.07" width="2.53" height="6.58" fill="#7fdbfa"/>
<rect x="311.90" y="447.95" width="16.10" height="5.88" fill="#00aeef"/>
<rect x="330.76" y="447.95" width="1.15" height="5.88" fill="#7fdbfa"/>
<rect x="334.90" y="447.95" width="4.83" height="6.58" fill="#7fdbfa"/>
<rect x="345.02" y="447.95" width="1.84" height="6.58" fill="#00aeef"/>
<rect x="364.11" y="447.95" width="0.92" height="5.88" fill="#7a2db2"/>
<rect x="365.03" y="447.95" width="1.84" height="5.88" fill="#00aeef"/>
<rect x="380.90" y="447.95" width="1.84" height="6.58" fill="#c9a3de"/>
<rect x="388.95" y="447.95" width="1.84" height="6.58" fill="#ff5a5f"/>
<rect x="391.94" y="447.95" width="0.92" height="6.58" fill="#7a2db2"/>
<rect x="394.70" y="447.95" width="2.30" height="6.58" fill="#7a2db2"/>
<rect x="400.22" y="447.95" width="0.92" height="6.58" fill="#fb0d14"/>
<rect x="402.98" y="447.95" width="1.84" height="6.58" fill="#7a2db2"/>
<rect x="411.03" y="447.95" width="0.69" height="6.58" fill="#c9a3de"/>
<rect x="413.10" y="447.95" width="0.92" height="6.58" fill="#fb0d14"/>
<rect x="405.97" y="447.95" width="2.07" height="5.88" fill="#00aeef"/>
<rect x="417.01" y="447.95" width="0.92" height="5.88" fill="#00aeef"/>
<rect x="431.96" y="447.95" width="0.92" height="5.88" fill="#7fdbfa"/>
<rect x="437.25" y="447.95" width="3.68" height="6.58" fill="#7fdbfa"/>
<rect x="442.54" y="447.95" width="1.15" height="5.88" fill="#7fdbfa"/>
<rect x="445.30" y="447.95" width="2.53" height="6.58" fill="#7fdbfa"/>
<rect x="311.90" y="453.82" width="1.84" height="6.58" fill="#7fdbfa"/>
<rect x="316.04" y="453.82" width="6.67" height="6.58" fill="#7fdbfa"/>
<rect x="326.62" y="453.82" width="0.92" height="5.88" fill="#7fdbfa"/>
<rect x="328.92" y="453.82" width="1.15" height="5.88" fill="#7fdbfa"/>
<rect x="334.90" y="453.82" width="4.83" height="5.88" fill="#7fdbfa"/>
<rect x="345.02" y="453.82" width="1.84" height="6.58" fill="#00aeef"/>
<rect x="364.11" y="453.82" width="1.61" height="5.88" fill="#c9a3de"/>
<rect x="380.90" y="453.82" width="1.84" height="6.58" fill="#c9a3de"/>
<rect x="388.95" y="453.82" width="1.84" height="6.58" fill="#ff5a5f"/>
<rect x="391.94" y="453.82" width="0.92" height="6.58" fill="#7a2db2"/>
<rect x="394.70" y="453.82" width="2.30" height="6.58" fill="#7a2db2"/>
<rect x="400.22" y="453.82" width="2.53" height="6.58" fill="#fb0d14"/>
<rect x="402.98" y="453.82" width="1.84" height="6.58" fill="#7a2db2"/>
<rect x="411.03" y="453.82" width="0.69" height="6.58" fill="#c9a3de"/>
<rect x="413.10" y="453.82" width="0.92" height="6.58" fill="#fb0d14"/>
<rect x="422.30" y="453.82" width="1.38" height="5.88" fill="#c9a3de"/>
<rect x="428.97" y="453.82" width="5.52" height="5.88" fill="#00aeef"/>
<rect x="437.25" y="453.82" width="2.07" height="6.58" fill="#7fdbfa"/>
<rect x="445.30" y="453.82" width="2.53" height="6.58" fill="#7fdbfa"/>
<rect x="311.90" y="459.70" width="9.20" height="6.58" fill="#7fdbfa"/>
<rect x="325.01" y="459.70" width="2.99" height="6.58" fill="#00aeef"/>
<rect x="345.02" y="459.70" width="1.84" height="6.58" fill="#00aeef"/>
<rect x="349.85" y="459.70" width="1.15" height="5.88" fill="#7a2db2"/>
<rect x="353.07" y="459.70" width="1.61" height="5.88" fill="#fb0d14"/>
<rect x="360.20" y="459.70" width="1.61" height="5.88" fill="#7a2db2"/>
<rect x="363.88" y="459.70" width="1.15" height="6.58" fill="#7a2db2"/>
<rect x="365.03" y="459.70" width="1.15" height="6.58" fill="#00aeef"/>
<rect x="373.77" y="459.70" width="1.15" height="5.88" fill="#fb0d14"/>
<rect x="380.90" y="459.70" width="1.84" height="6.58" fill="#c9a3de"/>
<rect x="388.95" y="459.70" width="1.84" height="6.58" fill="#ff5a5f"/>
<rect x="391.94" y="459.70" width="0.92" height="6.58" fill="#7a2db2"/>
<rect x="394.70" y="459.70" width="2.30" height="6.58" fill="#7a2db2"/>
<rect x="400.22" y="459.70" width="2.53" height="6.58" fill="#fb0d14"/>
<rect x="402.98" y="459.70" width="1.84" height="6.58" fill="#7a2db2"/>
<rect x="411.03" y="459.70" width="0.69" height="6.58" fill="#c9a3de"/>
<rect x="413.10" y="459.70" width="0.92" height="6.58" fill="#fb0d14"/>
<rect x="397.00" y="459.70" width="1.38" height="5.88" fill="#7fdbfa"/>
<rect x="417.01" y="459.70" width="0.92" height="6.58" fill="#00aeef"/>
<rect x="420.00" y="459.70" width="0.69" height="6.58" fill="#00aeef"/>
<rect x="431.50" y="459.70" width="1.61" height="5.88" fill="#7fdbfa"/>
<rect x="436.10" y="459.70" width="3.22" height="5.88" fill="#7fdbfa"/>
<rect x="439.78" y="459.70" width="1.61" height="5.88" fill="#00aeef"/>
<rect x="441.39" y="459.70" width="3.22" height="6.58" fill="#7fdbfa"/>
<rect x="445.30" y="459.70" width="2.53" height="6.58" fill="#7fdbfa"/>
<rect x="311.90" y="465.57" width="1.38" height="6.58" fill="#7fdbfa"/>
<rect x="313.28" y="465.57" width="2.07" height="5.88" fill="#00aeef"/>
<rect x="315.35" y="465.57" width="6.44" height="6.58" fill="#7fdbfa"/>
<rect x="323.86" y="465.57" width="4.14" height="5.88" fill="#00aeef"/>
<rect x="336.51" y="465.57" width="3.22" height="6.58" fill="#7fdbfa"/>
<rect x="344.10" y="465.57" width="0.92" height="5.88" fill="#7fdbfa"/>
<rect x="345.02" y="465.57" width="1.84" height="6.58" fill="#00aeef"/>
<rect x="364.11" y="465.57" width="1.15" height="5.88" fill="#7a2db2"/>
<rect x="365.26" y="465.57" width="1.15" height="5.88" fill="#00aeef"/>
<rect x="380.90" y="465.57" width="1.84" height="6.58" fill="#c9a3de"/>
<rect x="388.95" y="465.57" width="1.84" height="6.58" fill="#ff5a5f"/>
<rect x="391.94" y="465.57" width="0.92" height="6.58" fill="#7a2db2"/>
<rect x="394.70" y="465.57" width="2.30" height="6.58" fill="#7a2db2"/>
<rect x="400.22" y="465.57" width="2.53" height="6.58" fill="#fb0d14"/>
<rect x="402.98" y="465.57" width="1.84" height="6.58" fill="#7a2db2"/>
<rect x="411.03" y="465.57" width="0.69" height="6.58" fill="#c9a3de"/>
<rect x="413.10" y="465.57" width="0.92" height="6.58" fill="#fb0d14"/>
<rect x="417.01" y="465.57" width="0.92" height="5.88" fill="#00aeef"/>
<rect x="420.00" y="465.57" width="0.69" height="5.88" fill="#00aeef"/>
<rect x="431.73" y="465.57" width="7.59" height="5.88" fill="#00aeef"/>
<rect x="439.32" y="465.57" width="5.29" height="6.58" fill="#7fdbfa"/>
<rect x="445.30" y="465.57" width="2.53" height="6.58" fill="#7fdbfa"/>
<rect x="311.90" y="471.45" width="11.96" height="6.58" fill="#7fdbfa"/>
<rect x="334.90" y="471.45" width="1.15" height="6.58" fill="#7fdbfa"/>
<rect x="337.20" y="471.45" width="2.53" height="6.58" fill="#7fdbfa"/>
<rect x="345.02" y="471.45" width="1.84" height="6.58" fill="#00aeef"/>
<rect x="364.11" y="471.45" width="1.61" height="5.88" fill="#c9a3de"/>
<rect x="380.90" y="471.45" width="1.84" height="6.58" fill="#c9a3de"/>
<rect x="388.95" y="471.45" width="1.84" height="6.58" fill="#ff5a5f"/>
<rect x="391.94" y="471.45" width="0.92" height="6.58" fill="#7a2db2"/>
<rect x="394.70" y="471.45" width="2.30" height="6.58" fill="#7a2db2"/>
<rect x="400.22" y="471.45" width="0.92" height="6.58" fill="#fb0d14"/>
<rect x="402.98" y="471.45" width="1.84" height="6.58" fill="#7a2db2"/>
<rect x="411.03" y="471.45" width="0.69" height="6.58" fill="#c9a3de"/>
<rect x="413.10" y="471.45" width="0.92" height="6.58" fill="#fb0d14"/>
<rect x="431.96" y="471.45" width="1.38" height="6.58" fill="#7fdbfa"/>
<rect x="434.26" y="471.45" width="1.38" height="6.58" fill="#7fdbfa"/>
<rect x="436.56" y="471.45" width="2.76" height="6.58" fill="#7fdbfa"/>
<rect x="439.78" y="471.45" width="1.15" height="5.88" fill="#00aeef"/>
<rect x="441.39" y="471.45" width="3.22" height="5.88" fill="#7fdbfa"/>
<rect x="445.30" y="471.45" width="2.53" height="6.58" fill="#7fdbfa"/>
<rect x="311.90" y="477.32" width="9.89" height="5.88" fill="#7fdbfa"/>
<rect x="334.90" y="477.32" width="4.83" height="5.88" fill="#7fdbfa"/>
<rect x="345.02" y="477.32" width="1.84" height="5.88" fill="#00aeef"/>
<rect x="349.85" y="477.32" width="1.38" height="5.88" fill="#7a2db2"/>
<rect x="380.90" y="477.32" width="1.84" height="5.88" fill="#c9a3de"/>
<rect x="388.95" y="477.32" width="1.84" height="5.88" fill="#ff5a5f"/>
<rect x="391.94" y="477.32" width="0.92" height="5.88" fill="#7a2db2"/>
<rect x="394.70" y="477.32" width="2.30" height="5.88" fill="#7a2db2"/>
<rect x="400.22" y="477.32" width="2.53" height="5.88" fill="#fb0d14"/>
<rect x="402.98" y="477.32" width="1.84" height="5.88" fill="#7a2db2"/>
<rect x="411.03" y="477.32" width="0.69" height="5.88" fill="#c9a3de"/>
<rect x="413.10" y="477.32" width="0.92" height="5.88" fill="#fb0d14"/>
<rect x="380.90" y="477.32" width="1.84" height="5.88" fill="#7a2db2"/>
<rect x="405.97" y="477.32" width="2.07" height="5.88" fill="#00aeef"/>
<rect x="416.09" y="477.32" width="0.92" height="5.88" fill="#7a2db2"/>
<rect x="422.30" y="477.32" width="1.38" height="5.88" fill="#c9a3de"/>
<rect x="429.20" y="477.32" width="1.61" height="5.88" fill="#7fdbfa"/>
<rect x="431.96" y="477.32" width="4.14" height="5.88" fill="#7fdbfa"/>
<rect x="437.25" y="477.32" width="4.14" height="5.88" fill="#7fdbfa"/>
<rect x="445.30" y="477.32" width="2.53" height="5.88" fill="#7fdbfa"/>
<path d="M309.00 251.14H311.60M309.00 257.01H311.60M309.00 262.89H311.60M309.00 268.76H311.60M309.00 274.64H311.60M309.00 280.51H311.60M309.00 286.39H311.60M309.00 292.26H311.60M309.00 298.14H311.60M309.00 304.01H311.60M309.00 309.89H311.60M309.00 315.76H311.60M309.00 321.64H311.60M309.00 327.51H311.60M309.00 333.39H311.60M309.00 339.26H311.60M309.00 345.14H311.60M309.00 351.01H311.60M309.00 356.89H311.60M309.00 362.76H311.60M309.00 368.64H311.60M309.00 374.51H311.60M309.00 380.39H311.60M309.00 386.26H311.60M309.00 392.14H311.60M309.00 398.01H311.60M309.00 403.89H311.60M309.00 409.76H311.60M309.00 415.64H311.60M309.00 421.51H311.60M309.00 427.39H311.60M309.00 433.26H311.60M309.00 439.14H311.60M309.00 445.01H311.60M309.00 450.89H311.60M309.00 456.76H311.60M309.00 462.64H311.60M309.00 468.51H311.60M309.00 474.39H311.60M309.00 480.26H311.60" stroke="#444" stroke-width="0.6" fill="none"/>
<text x="305.40" y="253.44" text-anchor="end">WhR_3</text>
<text x="305.40" y="259.31" text-anchor="end">Kat_2</text>
<text x="305.40" y="265.19" text-anchor="end">WhR_2</text>
<text x="305.40" y="271.06" text-anchor="end">Lum_2</text>
<text x="305.40" y="276.94" text-anchor="end">Flo_2</text>
<text x="305.40" y="282.81" text-anchor="end">PrW_1</text>
<text x="305.40" y="288.69" text-anchor="end">Fla_1</text>
<text x="305.40" y="294.56" text-anchor="end">EgH_1</text>
<text x="305.40" y="300.44" text-anchor="end">Flo_1</text>
<text x="305.40" y="306.31" text-anchor="end">Ack_1</text>
<text x="305.40" y="312.19" text-anchor="end">EgH_3</text>
<text x="305.40" y="318.06" text-anchor="end">EgH_2</text>
<text x="305.40" y="323.94" text-anchor="end">EdB_1</text>
<text x="305.40" y="329.81" text-anchor="end">Fla_2</text>
<text x="305.40" y="335.69" text-anchor="end">Kat_3</text>
<text x="305.40" y="341.56" text-anchor="end">Flo_3</text>
<text x="305.40" y="347.44" text-anchor="end">Ack_3</text>
<text x="305.40" y="353.31" text-anchor="end">Lum_3</text>
<text x="305.40" y="359.19" text-anchor="end">BdF_2</text>
<text x="305.40" y="365.06" text-anchor="end">Kat_4</text>
<text x="305.40" y="370.94" text-anchor="end">PrW_3</text>
<text x="305.40" y="376.81" text-anchor="end">PrW_2</text>
<text x="305.40" y="382.69" text-anchor="end">PrW_4</text>
<text x="305.40" y="388.56" text-anchor="end">EdB_3</text>
<text x="305.40" y="394.44" text-anchor="end">Lum_4</text>
<text x="305.40" y="400.31" text-anchor="end">EgH_4</text>
<text x="305.40" y="406.19" text-anchor="end">Ack_2</text>
<text x="305.40" y="412.06" text-anchor="end">WhR_4</text>
<text x="305.40" y="417.94" text-anchor="end">Flo_4</text>
<text x="305.40" y="423.81" text-anchor="end">Kat_1</text>
<text x="305.40" y="429.69" text-anchor="end">EdB_4</text>
<text x="305.40" y="435.56" text-anchor="end">EdB_2</text>
<text x="305.40" y="441.44" text-anchor="end">Ack_4</text>
<text x="305.40" y="447.31" text-anchor="end">Fla_4</text>
<text x="305.40" y="453.19" text-anchor="end">BdF_1</text>
<text x="305.40" y="459.06" text-anchor="end">BdF_4</text>
<text x="305.40" y="464.94" text-anchor="end">WhR_1</text>
<text x="305.40" y="470.81" text-anchor="end">Lum_1</text>
<text x="305.40" y="476.69" text-anchor="end">Fla_3</text>
<text x="305.40" y="482.56" text-anchor="end">BdF_3</text>
<line x1="311.60" y1="248.20" x2="311.60" y2="483.20" stroke="#777" stroke-width="0.5"/>
<line x1="311.60" y1="482.90" x2="449.90" y2="482.90" stroke="#444" stroke-width="0.7"/>
<path d="M311.90 482.90V485.80M334.90 482.90V485.80M357.90 482.90V485.80M380.90 482.90V485.80M403.90 482.90V485.80M426.90 482.90V485.80M449.90 482.90V485.80" stroke="#444" stroke-width="0.7" fill="none"/>
<text x="311.90" y="494.90" text-anchor="middle">0</text>
<text x="334.90" y="494.90" text-anchor="middle">10</text>
<text x="357.90" y="494.90" text-anchor="middle">20</text>
<text x="380.90" y="494.90" text-anchor="middle">30</text>
<text x="403.90" y="494.90" text-anchor="middle">40</text>
<text x="426.90" y="494.90" text-anchor="middle">50</text>
<text x="449.90" y="494.90" text-anchor="middle">60</text>
<text x="380.90" y="507.00" text-anchor="middle" font-size="6.7">Position (Chr. 12; Mb)</text>
<line x1="311.60" y1="283.45" x2="449.60" y2="283.45" stroke="#e3232b" stroke-width="0.7" stroke-dasharray="1.4 1.1"/>
<line x1="311.60" y1="295.20" x2="449.60" y2="295.20" stroke="#e3232b" stroke-width="0.7" stroke-dasharray="1.4 1.1"/>
<line x1="311.60" y1="312.82" x2="449.60" y2="312.82" stroke="#e3232b" stroke-width="0.7" stroke-dasharray="1.4 1.1"/>
<line x1="311.60" y1="359.82" x2="449.60" y2="359.82" stroke="#e3232b" stroke-width="0.7" stroke-dasharray="1.4 1.1"/>
<line x1="311.60" y1="377.45" x2="449.60" y2="377.45" stroke="#e3232b" stroke-width="0.7" stroke-dasharray="1.4 1.1"/>
<line x1="311.60" y1="430.32" x2="449.60" y2="430.32" stroke="#e3232b" stroke-width="0.7" stroke-dasharray="1.4 1.1"/>
<text x="271.00" y="235.00" font-weight="bold" font-size="10.5" fill="#000" style="stroke:#000;stroke-width:0.3px">c</text>
<text x="379.90" y="242.70" text-anchor="middle" font-size="6.7">Sequence similarity</text>
<text x="276.00" y="366.00" text-anchor="middle" transform="rotate(-90 276.00 366.00)">Haplotype</text>
<text x="312.90" y="521.00">Clade</text>
<rect x="334.90" y="515.30" width="6.60" height="6.90" fill="#7fdbfa"/>
<text x="345.80" y="521.00">C4N</text>
<rect x="365.60" y="515.30" width="6.60" height="6.90" fill="#00aeef"/>
<text x="376.50" y="521.00">C4S</text>
<rect x="396.40" y="515.30" width="6.60" height="6.90" fill="#7a2db2"/>
<text x="407.30" y="521.00">C3</text>
<rect x="422.40" y="515.30" width="6.60" height="6.90" fill="#fb0d14"/>
<text x="433.30" y="521.00">C1 + 2</text>
</g>
<g id="panel_e">
<svg x="499.5" y="248.2" width="138.00" height="235.00" viewBox="0 0 120 40" preserveAspectRatio="none" shape-rendering="crispEdges">
<path fill="#edf9fe" d="M55 1h1v1h-1zM10 2h1v1h-1zM91 4h1v1h-1zM6 5h2v1h-2zM76 5h6v1h-6zM88 5h1v1h-1zM91 5h1v1h-1zM13 6h8v1h-8zM0 7h2v1h-2zM6 7h4v1h-4zM14 7h5v1h-5zM3 8h5v1h-5zM6 10h2v1h-2zM86 15h1v1h-1zM61 19h1v1h-1zM61 20h1v1h-1zM96 20h1v1h-1zM98 20h2v1h-2zM2 22h4v1h-4zM42 22h1v1h-1zM110 22h2v1h-2zM42 23h1v1h-1zM42 24h1v1h-1zM42 25h1v1h-1zM42 26h1v1h-1zM42 27h1v1h-1zM0 28h9v1h-9zM10 28h2v1h-2zM42 28h1v1h-1zM0 29h2v1h-2zM3 29h9v1h-9zM13 29h1v1h-1zM42 29h1v1h-1zM42 30h1v1h-1zM4 31h2v1h-2zM8 32h2v1h-2zM76 32h1v1h-1zM76 33h1v1h-1zM2 34h2v1h-2zM81 34h1v1h-1zM81 35h1v1h-1zM10 36h2v1h-2z"/>
<path fill="#dbf3fd" d="M35 0h1v1h-1zM91 0h1v1h-1zM118 0h2v1h-2zM13 1h2v1h-2zM17 1h2v1h-2zM109 1h1v1h-1zM2 2h1v1h-1zM11 2h4v1h-4zM55 2h1v1h-1zM115 2h1v1h-1zM6 3h2v1h-2zM21 3h1v1h-1zM35 3h1v1h-1zM55 3h1v1h-1zM72 3h1v1h-1zM91 3h1v1h-1zM14 4h1v1h-1zM55 4h1v1h-1zM76 4h3v1h-3zM80 4h1v1h-1zM88 4h1v1h-1zM1 5h1v1h-1zM14 5h1v1h-1zM17 5h3v1h-3zM21 5h1v1h-1zM35 5h1v1h-1zM55 5h1v1h-1zM72 5h1v1h-1zM90 5h1v1h-1zM92 5h1v1h-1zM95 5h2v1h-2zM102 5h2v1h-2zM106 5h2v1h-2zM6 6h1v1h-1zM12 6h1v1h-1zM19 7h2v1h-2zM107 7h3v1h-3zM0 8h3v1h-3zM99 8h2v1h-2zM102 8h2v1h-2zM106 8h1v1h-1zM99 9h4v1h-4zM106 9h2v1h-2zM0 10h3v1h-3zM99 10h1v1h-1zM1 11h1v1h-1zM6 11h6v1h-6zM4 12h1v1h-1zM71 12h1v1h-1zM100 13h2v1h-2zM3 14h1v1h-1zM1 15h1v1h-1zM6 15h4v1h-4zM66 16h1v1h-1zM77 16h1v1h-1zM100 17h1v1h-1zM5 19h1v1h-1zM10 19h2v1h-2zM14 19h1v1h-1zM62 19h1v1h-1zM62 20h1v1h-1zM72 20h1v1h-1zM92 20h1v1h-1zM94 20h2v1h-2zM97 20h1v1h-1zM61 21h2v1h-2zM73 21h4v1h-4zM4 24h4v1h-4zM0 25h1v1h-1zM0 26h1v1h-1zM4 26h1v1h-1zM6 26h6v1h-6zM6 27h1v1h-1zM10 27h1v1h-1zM9 28h1v1h-1zM12 28h2v1h-2zM50 28h1v1h-1zM2 29h1v1h-1zM12 29h1v1h-1zM14 29h2v1h-2zM3 30h1v1h-1zM6 30h2v1h-2zM1 31h2v1h-2zM106 31h1v1h-1zM1 32h2v1h-2zM16 32h1v1h-1zM21 32h1v1h-1zM108 32h1v1h-1zM1 33h1v1h-1zM14 33h2v1h-2zM17 33h1v1h-1zM106 33h2v1h-2zM106 34h2v1h-2zM1 35h2v1h-2zM106 35h1v1h-1zM16 36h2v1h-2zM106 36h2v1h-2zM14 37h1v1h-1zM106 37h2v1h-2zM105 38h3v1h-3zM17 39h1v1h-1zM21 39h1v1h-1zM106 39h3v1h-3z"/>
<path fill="#c8edfc" d="M15 0h1v1h-1zM17 0h1v1h-1zM25 0h1v1h-1zM55 0h1v1h-1zM61 0h1v1h-1zM72 0h1v1h-1zM88 0h1v1h-1zM1 1h1v1h-1zM15 1h2v1h-2zM35 1h1v1h-1zM91 1h1v1h-1zM99 1h1v1h-1zM107 1h2v1h-2zM16 2h1v1h-1zM35 2h1v1h-1zM49 2h1v1h-1zM91 2h1v1h-1zM1 3h1v1h-1zM8 3h1v1h-1zM10 3h2v1h-2zM14 3h1v1h-1zM17 3h1v1h-1zM69 3h2v1h-2zM88 3h1v1h-1zM1 4h1v1h-1zM18 4h1v1h-1zM35 4h1v1h-1zM49 4h1v1h-1zM81 4h2v1h-2zM87 4h1v1h-1zM89 4h2v1h-2zM99 4h1v1h-1zM11 5h1v1h-1zM15 5h2v1h-2zM20 5h1v1h-1zM49 5h1v1h-1zM87 5h1v1h-1zM89 5h1v1h-1zM94 5h1v1h-1zM97 5h1v1h-1zM100 5h1v1h-1zM5 6h1v1h-1zM8 6h1v1h-1zM11 6h1v1h-1zM107 6h3v1h-3zM8 8h1v1h-1zM10 8h1v1h-1zM14 8h1v1h-1zM88 8h1v1h-1zM91 8h1v1h-1zM97 8h2v1h-2zM101 8h1v1h-1zM104 8h2v1h-2zM107 8h1v1h-1zM8 9h8v1h-8zM55 9h1v1h-1zM91 9h1v1h-1zM97 9h2v1h-2zM103 9h3v1h-3zM8 10h1v1h-1zM10 10h1v1h-1zM14 10h1v1h-1zM91 10h1v1h-1zM97 10h1v1h-1zM100 10h1v1h-1zM102 10h2v1h-2zM106 10h2v1h-2zM15 11h2v1h-2zM18 11h6v1h-6zM108 11h2v1h-2zM15 12h1v1h-1zM17 12h2v1h-2zM21 12h1v1h-1zM108 12h2v1h-2zM15 13h1v1h-1zM17 13h2v1h-2zM20 13h3v1h-3zM96 13h2v1h-2zM2 14h1v1h-1zM15 14h1v1h-1zM17 14h2v1h-2zM21 14h3v1h-3zM15 15h2v1h-2zM18 15h1v1h-1zM21 15h1v1h-1zM15 16h1v1h-1zM17 16h3v1h-3zM21 16h1v1h-1zM15 17h1v1h-1zM20 17h2v1h-2zM98 17h2v1h-2zM15 18h2v1h-2zM18 18h1v1h-1zM21 18h1v1h-1zM2 19h1v1h-1zM13 19h1v1h-1zM17 19h1v1h-1zM21 19h1v1h-1zM25 19h1v1h-1zM35 19h1v1h-1zM55 19h1v1h-1zM60 19h1v1h-1zM91 19h1v1h-1zM99 19h1v1h-1zM14 20h1v1h-1zM21 20h1v1h-1zM35 20h1v1h-1zM55 20h1v1h-1zM60 20h1v1h-1zM73 20h2v1h-2zM91 20h1v1h-1zM93 20h1v1h-1zM25 21h1v1h-1zM35 21h1v1h-1zM60 21h1v1h-1zM91 21h1v1h-1zM0 22h2v1h-2zM109 22h1v1h-1zM0 23h1v1h-1zM11 23h1v1h-1zM108 23h1v1h-1zM110 23h1v1h-1zM0 24h1v1h-1zM10 24h1v1h-1zM50 24h1v1h-1zM108 24h4v1h-4zM1 25h1v1h-1zM6 25h3v1h-3zM10 25h2v1h-2zM13 25h1v1h-1zM108 25h4v1h-4zM5 26h1v1h-1zM12 26h2v1h-2zM108 26h3v1h-3zM4 27h2v1h-2zM7 27h3v1h-3zM11 27h3v1h-3zM109 27h3v1h-3zM14 28h2v1h-2zM21 28h1v1h-1zM24 28h1v1h-1zM108 28h3v1h-3zM16 29h4v1h-4zM21 29h2v1h-2zM108 29h4v1h-4zM4 30h2v1h-2zM11 30h1v1h-1zM109 30h3v1h-3zM113 30h1v1h-1zM115 30h1v1h-1zM14 31h8v1h-8zM105 31h1v1h-1zM107 31h1v1h-1zM114 31h1v1h-1zM17 32h4v1h-4zM106 32h2v1h-2zM16 33h1v1h-1zM105 33h1v1h-1zM108 33h1v1h-1zM116 33h1v1h-1zM15 34h1v1h-1zM17 34h2v1h-2zM105 34h1v1h-1zM108 34h1v1h-1zM116 34h1v1h-1zM18 35h1v1h-1zM21 35h1v1h-1zM105 35h1v1h-1zM107 35h2v1h-2zM105 36h1v1h-1zM108 36h1v1h-1zM15 37h1v1h-1zM18 37h1v1h-1zM21 37h1v1h-1zM105 37h1v1h-1zM108 37h1v1h-1zM11 38h1v1h-1zM16 38h3v1h-3zM108 38h1v1h-1zM16 39h1v1h-1zM20 39h1v1h-1zM105 39h1v1h-1z"/>
<path fill="#b6e7fb" d="M16 0h1v1h-1zM18 0h2v1h-2zM49 0h1v1h-1zM99 0h1v1h-1zM2 1h1v1h-1zM11 1h1v1h-1zM29 1h1v1h-1zM49 1h1v1h-1zM58 1h1v1h-1zM61 1h1v1h-1zM70 1h1v1h-1zM1 2h1v1h-1zM15 2h1v1h-1zM17 2h1v1h-1zM25 2h1v1h-1zM69 2h2v1h-2zM99 2h1v1h-1zM106 2h1v1h-1zM116 2h1v1h-1zM9 3h1v1h-1zM13 3h1v1h-1zM15 3h2v1h-2zM18 3h3v1h-3zM22 3h2v1h-2zM25 3h1v1h-1zM47 3h1v1h-1zM49 3h1v1h-1zM71 3h1v1h-1zM77 3h1v1h-1zM80 3h3v1h-3zM99 3h1v1h-1zM106 3h1v1h-1zM110 3h1v1h-1zM11 4h1v1h-1zM15 4h3v1h-3zM20 4h2v1h-2zM36 4h1v1h-1zM54 4h1v1h-1zM69 4h2v1h-2zM72 4h1v1h-1zM12 5h1v1h-1zM51 5h1v1h-1zM58 5h2v1h-2zM70 5h1v1h-1zM101 5h1v1h-1zM104 5h2v1h-2zM9 8h1v1h-1zM11 8h3v1h-3zM15 8h1v1h-1zM35 8h1v1h-1zM49 8h1v1h-1zM55 8h1v1h-1zM78 8h1v1h-1zM80 8h1v1h-1zM87 8h1v1h-1zM90 8h1v1h-1zM92 8h1v1h-1zM95 8h2v1h-2zM35 9h1v1h-1zM49 9h1v1h-1zM76 9h2v1h-2zM80 9h2v1h-2zM87 9h4v1h-4zM92 9h1v1h-1zM94 9h2v1h-2zM9 10h1v1h-1zM11 10h1v1h-1zM13 10h1v1h-1zM15 10h1v1h-1zM35 10h1v1h-1zM55 10h1v1h-1zM76 10h1v1h-1zM80 10h2v1h-2zM88 10h1v1h-1zM98 10h1v1h-1zM101 10h1v1h-1zM104 10h2v1h-2zM17 11h1v1h-1zM11 12h3v1h-3zM16 12h1v1h-1zM19 12h2v1h-2zM22 12h2v1h-2zM16 13h1v1h-1zM19 13h1v1h-1zM23 13h1v1h-1zM16 14h1v1h-1zM19 14h2v1h-2zM109 14h6v1h-6zM17 15h1v1h-1zM19 15h2v1h-2zM22 15h2v1h-2zM16 16h1v1h-1zM20 16h1v1h-1zM22 16h2v1h-2zM114 16h2v1h-2zM19 17h1v1h-1zM22 17h2v1h-2zM17 18h1v1h-1zM19 18h2v1h-2zM22 18h2v1h-2zM101 18h3v1h-3zM105 18h3v1h-3zM1 19h1v1h-1zM12 19h1v1h-1zM15 19h1v1h-1zM18 19h1v1h-1zM36 19h1v1h-1zM49 19h1v1h-1zM72 19h1v1h-1zM95 19h2v1h-2zM100 19h1v1h-1zM106 19h1v1h-1zM12 20h1v1h-1zM49 20h1v1h-1zM75 20h1v1h-1zM88 20h1v1h-1zM11 21h1v1h-1zM14 21h1v1h-1zM21 21h1v1h-1zM49 21h1v1h-1zM55 21h1v1h-1zM80 21h1v1h-1zM88 21h1v1h-1zM11 22h1v1h-1zM13 22h2v1h-2zM108 22h1v1h-1zM1 23h1v1h-1zM13 23h1v1h-1zM109 23h1v1h-1zM111 23h1v1h-1zM11 24h3v1h-3zM61 24h1v1h-1zM91 24h1v1h-1zM9 25h1v1h-1zM12 25h1v1h-1zM14 25h1v1h-1zM61 26h1v1h-1zM111 26h1v1h-1zM14 27h1v1h-1zM61 27h1v1h-1zM108 27h1v1h-1zM113 27h3v1h-3zM16 28h4v1h-4zM22 28h2v1h-2zM61 28h1v1h-1zM111 28h1v1h-1zM118 28h1v1h-1zM20 29h1v1h-1zM8 30h3v1h-3zM12 30h3v1h-3zM108 30h1v1h-1zM99 31h1v1h-1zM99 32h1v1h-1zM105 32h1v1h-1zM99 33h1v1h-1zM16 34h1v1h-1zM19 34h1v1h-1zM99 34h1v1h-1zM16 35h2v1h-2zM19 35h2v1h-2zM25 35h2v1h-2zM100 35h1v1h-1zM102 35h1v1h-1zM99 36h1v1h-1zM115 36h2v1h-2zM19 37h2v1h-2zM99 37h1v1h-1zM12 38h1v1h-1zM99 38h1v1h-1zM115 38h1v1h-1zM18 39h2v1h-2zM96 39h1v1h-1zM99 39h2v1h-2zM102 39h1v1h-1zM115 39h2v1h-2z"/>
<path fill="#a4e1fa" d="M21 0h1v1h-1zM24 0h1v1h-1zM36 0h1v1h-1zM47 0h1v1h-1zM58 0h1v1h-1zM71 0h1v1h-1zM73 0h1v1h-1zM76 0h2v1h-2zM80 0h2v1h-2zM95 0h1v1h-1zM106 0h1v1h-1zM37 1h1v1h-1zM40 1h1v1h-1zM44 1h1v1h-1zM68 1h2v1h-2zM88 1h1v1h-1zM106 1h1v1h-1zM18 2h2v1h-2zM21 2h1v1h-1zM23 2h1v1h-1zM29 2h1v1h-1zM36 2h2v1h-2zM51 2h1v1h-1zM58 2h1v1h-1zM68 2h1v1h-1zM81 2h1v1h-1zM102 2h1v1h-1zM109 2h1v1h-1zM12 3h1v1h-1zM29 3h1v1h-1zM32 3h1v1h-1zM44 3h1v1h-1zM68 3h1v1h-1zM73 3h1v1h-1zM75 3h2v1h-2zM78 3h1v1h-1zM111 3h1v1h-1zM12 4h1v1h-1zM19 4h1v1h-1zM25 4h1v1h-1zM29 4h1v1h-1zM33 4h1v1h-1zM46 4h1v1h-1zM51 4h1v1h-1zM79 4h1v1h-1zM24 5h2v1h-2zM28 5h2v1h-2zM32 5h2v1h-2zM43 5h2v1h-2zM46 5h2v1h-2zM54 5h1v1h-1zM69 5h1v1h-1zM93 5h1v1h-1zM21 7h1v1h-1zM21 8h1v1h-1zM25 8h2v1h-2zM29 8h1v1h-1zM36 8h2v1h-2zM54 8h1v1h-1zM58 8h1v1h-1zM72 8h1v1h-1zM76 8h2v1h-2zM81 8h2v1h-2zM89 8h1v1h-1zM94 8h1v1h-1zM18 9h1v1h-1zM24 9h2v1h-2zM33 9h1v1h-1zM44 9h1v1h-1zM48 9h1v1h-1zM51 9h1v1h-1zM72 9h1v1h-1zM78 9h2v1h-2zM82 9h1v1h-1zM96 9h1v1h-1zM12 10h1v1h-1zM18 10h1v1h-1zM25 10h2v1h-2zM36 10h1v1h-1zM40 10h1v1h-1zM49 10h1v1h-1zM51 10h1v1h-1zM54 10h1v1h-1zM58 10h1v1h-1zM72 10h1v1h-1zM77 10h2v1h-2zM87 10h1v1h-1zM89 10h1v1h-1zM92 10h1v1h-1zM95 10h2v1h-2zM94 11h2v1h-2zM95 12h1v1h-1zM95 14h1v1h-1zM95 15h1v1h-1zM95 16h1v1h-1zM94 17h1v1h-1zM95 18h1v1h-1zM104 18h1v1h-1zM16 19h1v1h-1zM19 19h1v1h-1zM24 19h1v1h-1zM29 19h1v1h-1zM40 19h1v1h-1zM44 19h1v1h-1zM47 19h1v1h-1zM56 19h1v1h-1zM65 19h1v1h-1zM78 19h1v1h-1zM80 19h1v1h-1zM87 19h2v1h-2zM94 19h1v1h-1zM97 19h2v1h-2zM102 19h2v1h-2zM107 19h1v1h-1zM13 20h1v1h-1zM19 20h2v1h-2zM44 20h1v1h-1zM47 20h1v1h-1zM58 20h1v1h-1zM66 20h1v1h-1zM68 20h2v1h-2zM76 20h1v1h-1zM78 20h1v1h-1zM80 20h3v1h-3zM87 20h1v1h-1zM90 20h1v1h-1zM106 20h1v1h-1zM110 20h1v1h-1zM17 21h2v1h-2zM24 21h1v1h-1zM36 21h1v1h-1zM66 21h1v1h-1zM72 21h1v1h-1zM77 21h2v1h-2zM81 21h1v1h-1zM92 21h1v1h-1zM99 21h1v1h-1zM12 22h1v1h-1zM15 22h1v1h-1zM18 22h1v1h-1zM25 22h1v1h-1zM35 22h1v1h-1zM55 22h1v1h-1zM61 22h1v1h-1zM72 22h1v1h-1zM88 22h1v1h-1zM91 22h1v1h-1zM102 22h1v1h-1zM107 22h1v1h-1zM12 23h1v1h-1zM14 23h2v1h-2zM17 23h3v1h-3zM55 23h1v1h-1zM61 23h1v1h-1zM72 23h1v1h-1zM88 23h1v1h-1zM91 23h1v1h-1zM99 23h1v1h-1zM102 23h1v1h-1zM107 23h1v1h-1zM14 24h2v1h-2zM17 24h2v1h-2zM25 24h1v1h-1zM35 24h1v1h-1zM49 24h1v1h-1zM55 24h1v1h-1zM88 24h1v1h-1zM99 24h1v1h-1zM106 24h2v1h-2zM15 25h2v1h-2zM18 25h1v1h-1zM21 25h1v1h-1zM35 25h1v1h-1zM55 25h1v1h-1zM61 25h1v1h-1zM72 25h1v1h-1zM91 25h1v1h-1zM99 25h1v1h-1zM115 25h2v1h-2zM14 26h1v1h-1zM18 26h1v1h-1zM35 26h1v1h-1zM55 26h1v1h-1zM91 26h1v1h-1zM99 26h2v1h-2zM102 26h1v1h-1zM107 26h1v1h-1zM0 27h3v1h-3zM15 27h1v1h-1zM17 27h2v1h-2zM25 27h1v1h-1zM35 27h1v1h-1zM55 27h1v1h-1zM88 27h1v1h-1zM91 27h1v1h-1zM101 27h1v1h-1zM106 27h2v1h-2zM116 27h1v1h-1zM20 28h1v1h-1zM25 28h1v1h-1zM49 28h1v1h-1zM55 28h1v1h-1zM91 28h1v1h-1zM99 28h1v1h-1zM101 28h1v1h-1zM103 28h1v1h-1zM106 28h1v1h-1zM119 28h1v1h-1zM35 29h1v1h-1zM55 29h1v1h-1zM61 29h1v1h-1zM91 29h1v1h-1zM15 30h1v1h-1zM17 30h3v1h-3zM35 30h1v1h-1zM49 30h1v1h-1zM55 30h1v1h-1zM61 30h1v1h-1zM72 30h1v1h-1zM91 30h1v1h-1zM99 30h3v1h-3zM103 30h1v1h-1zM106 30h2v1h-2zM91 31h1v1h-1zM96 31h1v1h-1zM98 31h1v1h-1zM100 31h1v1h-1zM102 31h3v1h-3zM91 32h1v1h-1zM96 32h1v1h-1zM98 32h1v1h-1zM100 32h3v1h-3zM88 33h1v1h-1zM91 33h1v1h-1zM96 33h1v1h-1zM98 33h1v1h-1zM100 33h1v1h-1zM102 33h2v1h-2zM96 34h2v1h-2zM100 34h1v1h-1zM102 34h2v1h-2zM22 35h3v1h-3zM35 35h1v1h-1zM91 35h1v1h-1zM96 35h4v1h-4zM103 35h2v1h-2zM91 36h1v1h-1zM96 36h1v1h-1zM100 36h4v1h-4zM55 37h1v1h-1zM96 37h1v1h-1zM98 37h1v1h-1zM100 37h1v1h-1zM102 37h3v1h-3zM96 38h1v1h-1zM98 38h1v1h-1zM100 38h1v1h-1zM102 38h2v1h-2zM116 38h1v1h-1zM91 39h1v1h-1zM101 39h1v1h-1zM103 39h2v1h-2z"/>
<path fill="#92dbf9" d="M29 0h1v1h-1zM32 0h2v1h-2zM59 0h1v1h-1zM69 0h2v1h-2zM74 0h2v1h-2zM78 0h1v1h-1zM87 0h1v1h-1zM100 0h2v1h-2zM103 0h1v1h-1zM107 0h1v1h-1zM28 1h1v1h-1zM36 1h1v1h-1zM38 1h1v1h-1zM47 1h1v1h-1zM54 1h1v1h-1zM57 1h1v1h-1zM80 1h1v1h-1zM95 1h1v1h-1zM103 1h1v1h-1zM117 1h1v1h-1zM32 2h1v1h-1zM54 2h1v1h-1zM71 2h1v1h-1zM77 2h1v1h-1zM80 2h1v1h-1zM88 2h1v1h-1zM95 2h1v1h-1zM98 2h1v1h-1zM100 2h1v1h-1zM103 2h1v1h-1zM105 2h1v1h-1zM108 2h1v1h-1zM26 3h3v1h-3zM33 3h1v1h-1zM36 3h1v1h-1zM51 3h1v1h-1zM54 3h1v1h-1zM74 3h1v1h-1zM90 3h1v1h-1zM92 3h1v1h-1zM94 3h1v1h-1zM98 3h1v1h-1zM100 3h1v1h-1zM102 3h1v1h-1zM105 3h1v1h-1zM108 3h2v1h-2zM23 4h2v1h-2zM28 4h1v1h-1zM44 4h1v1h-1zM47 4h1v1h-1zM57 4h1v1h-1zM68 4h1v1h-1zM73 4h3v1h-3zM30 5h1v1h-1zM34 5h1v1h-1zM36 5h3v1h-3zM40 5h1v1h-1zM50 5h1v1h-1zM68 5h1v1h-1zM73 5h1v1h-1zM22 7h2v1h-2zM16 8h2v1h-2zM19 8h1v1h-1zM28 8h1v1h-1zM33 8h1v1h-1zM41 8h1v1h-1zM43 8h2v1h-2zM46 8h2v1h-2zM51 8h1v1h-1zM57 8h1v1h-1zM70 8h1v1h-1zM79 8h1v1h-1zM93 8h1v1h-1zM17 9h1v1h-1zM21 9h1v1h-1zM26 9h1v1h-1zM28 9h1v1h-1zM36 9h1v1h-1zM38 9h1v1h-1zM41 9h1v1h-1zM46 9h2v1h-2zM54 9h1v1h-1zM56 9h3v1h-3zM69 9h1v1h-1zM93 9h1v1h-1zM16 10h1v1h-1zM19 10h1v1h-1zM21 10h1v1h-1zM24 10h1v1h-1zM29 10h1v1h-1zM33 10h2v1h-2zM37 10h2v1h-2zM46 10h3v1h-3zM69 10h1v1h-1zM82 10h1v1h-1zM90 10h1v1h-1zM93 10h2v1h-2zM99 11h1v1h-1zM94 12h1v1h-1zM94 13h2v1h-2zM94 14h1v1h-1zM94 15h1v1h-1zM103 15h1v1h-1zM106 15h2v1h-2zM94 16h1v1h-1zM18 17h1v1h-1zM95 17h1v1h-1zM94 18h1v1h-1zM20 19h1v1h-1zM22 19h2v1h-2zM26 19h1v1h-1zM33 19h1v1h-1zM38 19h1v1h-1zM43 19h1v1h-1zM46 19h1v1h-1zM51 19h2v1h-2zM54 19h1v1h-1zM58 19h2v1h-2zM66 19h1v1h-1zM68 19h3v1h-3zM77 19h1v1h-1zM81 19h1v1h-1zM101 19h1v1h-1zM104 19h2v1h-2zM25 20h2v1h-2zM29 20h1v1h-1zM32 20h3v1h-3zM36 20h3v1h-3zM43 20h1v1h-1zM46 20h1v1h-1zM48 20h1v1h-1zM50 20h2v1h-2zM54 20h1v1h-1zM56 20h1v1h-1zM59 20h1v1h-1zM63 20h3v1h-3zM70 20h1v1h-1zM77 20h1v1h-1zM79 20h1v1h-1zM89 20h1v1h-1zM13 21h1v1h-1zM15 21h2v1h-2zM22 21h2v1h-2zM26 21h1v1h-1zM29 21h1v1h-1zM48 21h1v1h-1zM51 21h1v1h-1zM59 21h1v1h-1zM65 21h1v1h-1zM68 21h3v1h-3zM87 21h1v1h-1zM89 21h1v1h-1zM93 21h1v1h-1zM98 21h1v1h-1zM106 21h2v1h-2zM16 22h2v1h-2zM19 22h1v1h-1zM21 22h1v1h-1zM24 22h1v1h-1zM36 22h1v1h-1zM49 22h1v1h-1zM78 22h1v1h-1zM80 22h1v1h-1zM95 22h1v1h-1zM99 22h2v1h-2zM103 22h1v1h-1zM105 22h2v1h-2zM16 23h1v1h-1zM21 23h1v1h-1zM24 23h2v1h-2zM35 23h2v1h-2zM49 23h1v1h-1zM62 23h1v1h-1zM77 23h1v1h-1zM80 23h1v1h-1zM95 23h1v1h-1zM100 23h1v1h-1zM103 23h1v1h-1zM106 23h1v1h-1zM16 24h1v1h-1zM19 24h1v1h-1zM21 24h1v1h-1zM65 24h1v1h-1zM69 24h2v1h-2zM72 24h1v1h-1zM77 24h1v1h-1zM80 24h1v1h-1zM95 24h1v1h-1zM100 24h1v1h-1zM102 24h3v1h-3zM17 25h1v1h-1zM19 25h1v1h-1zM24 25h3v1h-3zM47 25h1v1h-1zM49 25h1v1h-1zM65 25h1v1h-1zM69 25h1v1h-1zM80 25h2v1h-2zM84 25h1v1h-1zM88 25h1v1h-1zM100 25h1v1h-1zM102 25h2v1h-2zM105 25h3v1h-3zM15 26h3v1h-3zM21 26h1v1h-1zM25 26h1v1h-1zM47 26h1v1h-1zM49 26h1v1h-1zM62 26h1v1h-1zM72 26h1v1h-1zM78 26h1v1h-1zM80 26h1v1h-1zM84 26h1v1h-1zM88 26h1v1h-1zM96 26h1v1h-1zM101 26h1v1h-1zM103 26h1v1h-1zM106 26h1v1h-1zM16 27h1v1h-1zM19 27h1v1h-1zM21 27h1v1h-1zM24 27h1v1h-1zM49 27h1v1h-1zM62 27h1v1h-1zM95 27h1v1h-1zM99 27h2v1h-2zM102 27h2v1h-2zM105 27h1v1h-1zM35 28h2v1h-2zM51 28h1v1h-1zM62 28h1v1h-1zM65 28h1v1h-1zM72 28h1v1h-1zM80 28h1v1h-1zM88 28h1v1h-1zM98 28h1v1h-1zM100 28h1v1h-1zM102 28h1v1h-1zM105 28h1v1h-1zM107 28h1v1h-1zM24 29h2v1h-2zM40 29h1v1h-1zM49 29h1v1h-1zM62 29h1v1h-1zM65 29h1v1h-1zM72 29h1v1h-1zM78 29h1v1h-1zM88 29h1v1h-1zM99 29h2v1h-2zM102 29h6v1h-6zM0 30h1v1h-1zM16 30h1v1h-1zM24 30h2v1h-2zM62 30h1v1h-1zM88 30h1v1h-1zM102 30h1v1h-1zM104 30h1v1h-1zM55 31h1v1h-1zM72 31h1v1h-1zM77 31h1v1h-1zM88 31h1v1h-1zM95 31h1v1h-1zM97 31h1v1h-1zM101 31h1v1h-1zM108 31h4v1h-4zM35 32h1v1h-1zM88 32h2v1h-2zM97 32h1v1h-1zM103 32h2v1h-2zM49 33h1v1h-1zM55 33h1v1h-1zM80 33h1v1h-1zM97 33h1v1h-1zM101 33h1v1h-1zM104 33h1v1h-1zM55 34h1v1h-1zM77 34h1v1h-1zM88 34h2v1h-2zM91 34h1v1h-1zM95 34h1v1h-1zM98 34h1v1h-1zM101 34h1v1h-1zM104 34h1v1h-1zM49 35h1v1h-1zM88 35h1v1h-1zM101 35h1v1h-1zM109 35h2v1h-2zM35 36h1v1h-1zM55 36h1v1h-1zM88 36h1v1h-1zM95 36h1v1h-1zM97 36h2v1h-2zM104 36h1v1h-1zM35 37h1v1h-1zM49 37h1v1h-1zM77 37h1v1h-1zM88 37h1v1h-1zM91 37h1v1h-1zM97 37h1v1h-1zM101 37h1v1h-1zM109 37h3v1h-3zM113 37h2v1h-2zM35 38h1v1h-1zM49 38h1v1h-1zM55 38h1v1h-1zM88 38h1v1h-1zM91 38h1v1h-1zM97 38h1v1h-1zM101 38h1v1h-1zM104 38h1v1h-1zM35 39h1v1h-1zM49 39h1v1h-1zM70 39h1v1h-1zM81 39h1v1h-1zM88 39h2v1h-2zM97 39h2v1h-2z"/>
<path fill="#80d6f8" d="M20 0h1v1h-1zM22 0h1v1h-1zM26 0h1v1h-1zM41 0h1v1h-1zM43 0h2v1h-2zM46 0h1v1h-1zM51 0h2v1h-2zM57 0h1v1h-1zM65 0h1v1h-1zM89 0h1v1h-1zM92 0h1v1h-1zM96 0h1v1h-1zM102 0h1v1h-1zM109 0h1v1h-1zM32 1h1v1h-1zM43 1h1v1h-1zM46 1h1v1h-1zM48 1h1v1h-1zM51 1h1v1h-1zM56 1h1v1h-1zM71 1h1v1h-1zM78 1h1v1h-1zM81 1h1v1h-1zM84 1h1v1h-1zM96 1h1v1h-1zM98 1h1v1h-1zM20 2h1v1h-1zM22 2h1v1h-1zM24 2h1v1h-1zM27 2h2v1h-2zM33 2h1v1h-1zM41 2h1v1h-1zM44 2h1v1h-1zM47 2h1v1h-1zM57 2h1v1h-1zM59 2h1v1h-1zM89 2h1v1h-1zM94 2h1v1h-1zM96 2h1v1h-1zM104 2h1v1h-1zM107 2h1v1h-1zM24 3h1v1h-1zM31 3h1v1h-1zM34 3h1v1h-1zM37 3h1v1h-1zM40 3h1v1h-1zM58 3h2v1h-2zM87 3h1v1h-1zM89 3h1v1h-1zM95 3h1v1h-1zM103 3h2v1h-2zM107 3h1v1h-1zM112 3h1v1h-1zM31 4h1v1h-1zM37 4h2v1h-2zM48 4h1v1h-1zM50 4h1v1h-1zM58 4h2v1h-2zM71 4h1v1h-1zM105 4h1v1h-1zM116 4h1v1h-1zM26 5h2v1h-2zM31 5h1v1h-1zM41 5h1v1h-1zM48 5h1v1h-1zM52 5h1v1h-1zM56 5h1v1h-1zM71 5h1v1h-1zM75 5h1v1h-1zM18 8h1v1h-1zM22 8h1v1h-1zM24 8h1v1h-1zM31 8h2v1h-2zM38 8h1v1h-1zM40 8h1v1h-1zM45 8h1v1h-1zM48 8h1v1h-1zM50 8h1v1h-1zM53 8h1v1h-1zM56 8h1v1h-1zM68 8h2v1h-2zM74 8h1v1h-1zM16 9h1v1h-1zM19 9h2v1h-2zM23 9h1v1h-1zM29 9h1v1h-1zM32 9h1v1h-1zM37 9h1v1h-1zM40 9h1v1h-1zM42 9h2v1h-2zM52 9h1v1h-1zM70 9h2v1h-2zM17 10h1v1h-1zM20 10h1v1h-1zM27 10h2v1h-2zM31 10h2v1h-2zM39 10h1v1h-1zM42 10h4v1h-4zM52 10h2v1h-2zM56 10h2v1h-2zM70 10h1v1h-1zM73 10h3v1h-3zM79 10h1v1h-1zM55 11h1v1h-1zM98 11h1v1h-1zM100 11h3v1h-3zM106 11h2v1h-2zM55 12h1v1h-1zM98 12h3v1h-3zM102 12h2v1h-2zM106 12h2v1h-2zM99 14h1v1h-1zM35 15h1v1h-1zM96 15h1v1h-1zM99 15h1v1h-1zM105 15h1v1h-1zM108 15h1v1h-1zM99 16h1v1h-1zM16 17h2v1h-2zM35 17h1v1h-1zM55 17h1v1h-1zM35 18h1v1h-1zM27 19h2v1h-2zM32 19h1v1h-1zM34 19h1v1h-1zM37 19h1v1h-1zM39 19h1v1h-1zM41 19h1v1h-1zM48 19h1v1h-1zM50 19h1v1h-1zM57 19h1v1h-1zM75 19h2v1h-2zM79 19h1v1h-1zM92 19h1v1h-1zM27 20h2v1h-2zM31 20h1v1h-1zM57 20h1v1h-1zM71 20h1v1h-1zM107 20h3v1h-3zM12 21h1v1h-1zM19 21h2v1h-2zM28 21h1v1h-1zM32 21h3v1h-3zM37 21h1v1h-1zM39 21h1v1h-1zM46 21h2v1h-2zM54 21h1v1h-1zM56 21h3v1h-3zM90 21h1v1h-1zM95 21h2v1h-2zM100 21h2v1h-2zM104 21h1v1h-1zM20 22h1v1h-1zM23 22h1v1h-1zM33 22h1v1h-1zM37 22h2v1h-2zM44 22h1v1h-1zM47 22h1v1h-1zM51 22h1v1h-1zM58 22h1v1h-1zM62 22h5v1h-5zM69 22h2v1h-2zM76 22h2v1h-2zM81 22h2v1h-2zM89 22h2v1h-2zM92 22h1v1h-1zM96 22h1v1h-1zM98 22h1v1h-1zM101 22h1v1h-1zM104 22h1v1h-1zM26 23h1v1h-1zM29 23h1v1h-1zM32 23h1v1h-1zM40 23h1v1h-1zM44 23h1v1h-1zM47 23h1v1h-1zM54 23h1v1h-1zM58 23h1v1h-1zM64 23h3v1h-3zM69 23h2v1h-2zM76 23h1v1h-1zM78 23h1v1h-1zM84 23h1v1h-1zM92 23h1v1h-1zM96 23h2v1h-2zM101 23h1v1h-1zM104 23h2v1h-2zM20 24h1v1h-1zM24 24h1v1h-1zM26 24h1v1h-1zM29 24h1v1h-1zM36 24h2v1h-2zM40 24h1v1h-1zM43 24h1v1h-1zM47 24h1v1h-1zM51 24h1v1h-1zM56 24h1v1h-1zM58 24h3v1h-3zM62 24h3v1h-3zM66 24h1v1h-1zM68 24h1v1h-1zM73 24h1v1h-1zM76 24h1v1h-1zM78 24h1v1h-1zM81 24h2v1h-2zM84 24h1v1h-1zM89 24h2v1h-2zM94 24h1v1h-1zM96 24h1v1h-1zM101 24h1v1h-1zM105 24h1v1h-1zM22 25h2v1h-2zM36 25h1v1h-1zM40 25h1v1h-1zM46 25h1v1h-1zM57 25h1v1h-1zM60 25h1v1h-1zM62 25h2v1h-2zM66 25h1v1h-1zM68 25h1v1h-1zM70 25h1v1h-1zM76 25h3v1h-3zM89 25h1v1h-1zM92 25h1v1h-1zM94 25h5v1h-5zM101 25h1v1h-1zM19 26h1v1h-1zM23 26h2v1h-2zM32 26h1v1h-1zM37 26h1v1h-1zM40 26h1v1h-1zM46 26h1v1h-1zM48 26h1v1h-1zM51 26h1v1h-1zM54 26h1v1h-1zM63 26h1v1h-1zM65 26h1v1h-1zM68 26h1v1h-1zM70 26h1v1h-1zM77 26h1v1h-1zM89 26h2v1h-2zM92 26h1v1h-1zM104 26h2v1h-2zM22 27h2v1h-2zM26 27h1v1h-1zM29 27h1v1h-1zM33 27h2v1h-2zM36 27h1v1h-1zM40 27h1v1h-1zM44 27h1v1h-1zM56 27h4v1h-4zM63 27h1v1h-1zM65 27h1v1h-1zM70 27h1v1h-1zM72 27h1v1h-1zM76 27h2v1h-2zM80 27h2v1h-2zM84 27h1v1h-1zM89 27h2v1h-2zM92 27h1v1h-1zM96 27h2v1h-2zM104 27h1v1h-1zM26 28h1v1h-1zM29 28h1v1h-1zM32 28h2v1h-2zM37 28h1v1h-1zM44 28h1v1h-1zM47 28h1v1h-1zM63 28h2v1h-2zM66 28h1v1h-1zM69 28h1v1h-1zM76 28h1v1h-1zM81 28h1v1h-1zM89 28h1v1h-1zM94 28h1v1h-1zM104 28h1v1h-1zM23 29h1v1h-1zM26 29h1v1h-1zM32 29h3v1h-3zM36 29h2v1h-2zM51 29h1v1h-1zM54 29h1v1h-1zM57 29h1v1h-1zM59 29h1v1h-1zM64 29h1v1h-1zM66 29h1v1h-1zM76 29h1v1h-1zM80 29h2v1h-2zM84 29h1v1h-1zM89 29h1v1h-1zM95 29h2v1h-2zM98 29h1v1h-1zM101 29h1v1h-1zM2 30h1v1h-1zM21 30h1v1h-1zM23 30h1v1h-1zM29 30h1v1h-1zM33 30h1v1h-1zM36 30h1v1h-1zM38 30h1v1h-1zM44 30h1v1h-1zM46 30h1v1h-1zM54 30h1v1h-1zM58 30h1v1h-1zM63 30h1v1h-1zM65 30h2v1h-2zM69 30h2v1h-2zM76 30h1v1h-1zM80 30h2v1h-2zM84 30h1v1h-1zM89 30h1v1h-1zM94 30h3v1h-3zM105 30h1v1h-1zM35 31h1v1h-1zM47 31h1v1h-1zM49 31h1v1h-1zM58 31h1v1h-1zM69 31h2v1h-2zM80 31h2v1h-2zM89 31h1v1h-1zM94 31h1v1h-1zM37 32h1v1h-1zM47 32h1v1h-1zM49 32h1v1h-1zM55 32h1v1h-1zM70 32h1v1h-1zM72 32h2v1h-2zM77 32h1v1h-1zM80 32h2v1h-2zM84 32h1v1h-1zM95 32h1v1h-1zM35 33h1v1h-1zM68 33h2v1h-2zM72 33h1v1h-1zM78 33h1v1h-1zM84 33h1v1h-1zM89 33h2v1h-2zM92 33h1v1h-1zM35 34h2v1h-2zM40 34h1v1h-1zM49 34h1v1h-1zM68 34h2v1h-2zM72 34h1v1h-1zM76 34h1v1h-1zM78 34h1v1h-1zM80 34h1v1h-1zM84 34h1v1h-1zM90 34h1v1h-1zM92 34h1v1h-1zM55 35h1v1h-1zM58 35h1v1h-1zM68 35h1v1h-1zM72 35h1v1h-1zM77 35h2v1h-2zM80 35h1v1h-1zM89 35h1v1h-1zM92 35h1v1h-1zM95 35h1v1h-1zM111 35h2v1h-2zM49 36h1v1h-1zM58 36h1v1h-1zM70 36h1v1h-1zM72 36h1v1h-1zM77 36h1v1h-1zM80 36h1v1h-1zM84 36h1v1h-1zM89 36h1v1h-1zM94 36h1v1h-1zM36 37h1v1h-1zM44 37h1v1h-1zM47 37h1v1h-1zM51 37h1v1h-1zM58 37h1v1h-1zM69 37h2v1h-2zM72 37h1v1h-1zM80 37h2v1h-2zM89 37h1v1h-1zM94 37h1v1h-1zM112 37h1v1h-1zM115 37h1v1h-1zM29 38h1v1h-1zM47 38h1v1h-1zM58 38h1v1h-1zM69 38h2v1h-2zM72 38h1v1h-1zM76 38h1v1h-1zM78 38h1v1h-1zM80 38h3v1h-3zM84 38h1v1h-1zM89 38h2v1h-2zM92 38h1v1h-1zM94 38h2v1h-2zM36 39h1v1h-1zM51 39h1v1h-1zM55 39h1v1h-1zM58 39h1v1h-1zM68 39h1v1h-1zM72 39h1v1h-1zM77 39h1v1h-1zM90 39h1v1h-1zM92 39h1v1h-1zM94 39h2v1h-2z"/>
<path fill="#6dd0f8" d="M23 0h1v1h-1zM34 0h1v1h-1zM40 0h1v1h-1zM42 0h1v1h-1zM50 0h1v1h-1zM54 0h1v1h-1zM56 0h1v1h-1zM62 0h3v1h-3zM66 0h1v1h-1zM68 0h1v1h-1zM84 0h1v1h-1zM98 0h1v1h-1zM33 1h2v1h-2zM39 1h1v1h-1zM50 1h1v1h-1zM59 1h1v1h-1zM76 1h2v1h-2zM85 1h1v1h-1zM90 1h1v1h-1zM94 1h1v1h-1zM97 1h1v1h-1zM100 1h1v1h-1zM116 1h1v1h-1zM118 1h1v1h-1zM31 2h1v1h-1zM40 2h1v1h-1zM42 2h1v1h-1zM78 2h1v1h-1zM101 2h1v1h-1zM38 3h1v1h-1zM41 3h1v1h-1zM46 3h1v1h-1zM48 3h1v1h-1zM53 3h1v1h-1zM56 3h1v1h-1zM79 3h1v1h-1zM96 3h2v1h-2zM101 3h1v1h-1zM26 4h2v1h-2zM32 4h1v1h-1zM34 4h1v1h-1zM45 4h1v1h-1zM52 4h1v1h-1zM56 4h1v1h-1zM100 4h4v1h-4zM23 5h1v1h-1zM39 5h1v1h-1zM42 5h1v1h-1zM57 5h1v1h-1zM74 5h1v1h-1zM35 7h1v1h-1zM20 8h1v1h-1zM23 8h1v1h-1zM27 8h1v1h-1zM30 8h1v1h-1zM34 8h1v1h-1zM39 8h1v1h-1zM42 8h1v1h-1zM52 8h1v1h-1zM73 8h1v1h-1zM75 8h1v1h-1zM84 8h1v1h-1zM22 9h1v1h-1zM27 9h1v1h-1zM30 9h2v1h-2zM34 9h1v1h-1zM39 9h1v1h-1zM50 9h1v1h-1zM53 9h1v1h-1zM68 9h1v1h-1zM73 9h2v1h-2zM84 9h1v1h-1zM22 10h2v1h-2zM30 10h1v1h-1zM41 10h1v1h-1zM50 10h1v1h-1zM68 10h1v1h-1zM71 10h1v1h-1zM25 11h2v1h-2zM35 11h1v1h-1zM37 11h1v1h-1zM44 11h1v1h-1zM49 11h1v1h-1zM51 11h1v1h-1zM54 11h1v1h-1zM58 11h1v1h-1zM61 11h1v1h-1zM91 11h1v1h-1zM103 11h3v1h-3zM29 12h1v1h-1zM35 12h1v1h-1zM37 12h1v1h-1zM47 12h1v1h-1zM49 12h1v1h-1zM101 12h1v1h-1zM104 12h2v1h-2zM35 13h1v1h-1zM44 13h1v1h-1zM47 13h1v1h-1zM49 13h1v1h-1zM55 13h1v1h-1zM61 13h1v1h-1zM25 14h1v1h-1zM35 14h1v1h-1zM47 14h1v1h-1zM49 14h1v1h-1zM55 14h1v1h-1zM96 14h1v1h-1zM100 14h2v1h-2zM25 15h1v1h-1zM33 15h1v1h-1zM49 15h1v1h-1zM55 15h1v1h-1zM58 15h1v1h-1zM100 15h1v1h-1zM104 15h1v1h-1zM35 16h1v1h-1zM47 16h3v1h-3zM54 16h2v1h-2zM91 16h1v1h-1zM96 16h1v1h-1zM98 16h1v1h-1zM100 16h2v1h-2zM25 17h1v1h-1zM36 17h2v1h-2zM49 17h1v1h-1zM61 17h1v1h-1zM72 17h1v1h-1zM91 17h1v1h-1zM25 18h2v1h-2zM36 18h1v1h-1zM49 18h1v1h-1zM51 18h1v1h-1zM55 18h1v1h-1zM58 18h1v1h-1zM91 18h1v1h-1zM63 19h1v1h-1zM71 19h1v1h-1zM73 19h2v1h-2zM89 19h2v1h-2zM39 20h1v1h-1zM45 20h1v1h-1zM105 20h1v1h-1zM111 20h1v1h-1zM27 21h1v1h-1zM38 21h1v1h-1zM40 21h2v1h-2zM44 21h1v1h-1zM50 21h1v1h-1zM79 21h1v1h-1zM82 21h1v1h-1zM97 21h1v1h-1zM102 21h2v1h-2zM105 21h1v1h-1zM22 22h1v1h-1zM26 22h1v1h-1zM28 22h4v1h-4zM40 22h2v1h-2zM43 22h1v1h-1zM52 22h1v1h-1zM54 22h1v1h-1zM59 22h1v1h-1zM71 22h1v1h-1zM73 22h2v1h-2zM83 22h2v1h-2zM93 22h2v1h-2zM22 23h2v1h-2zM28 23h1v1h-1zM31 23h1v1h-1zM33 23h2v1h-2zM37 23h2v1h-2zM41 23h1v1h-1zM43 23h1v1h-1zM48 23h1v1h-1zM51 23h1v1h-1zM56 23h1v1h-1zM59 23h2v1h-2zM63 23h1v1h-1zM71 23h1v1h-1zM73 23h3v1h-3zM81 23h1v1h-1zM89 23h2v1h-2zM94 23h1v1h-1zM98 23h1v1h-1zM23 24h1v1h-1zM27 24h2v1h-2zM31 24h1v1h-1zM33 24h2v1h-2zM44 24h1v1h-1zM48 24h1v1h-1zM54 24h1v1h-1zM57 24h1v1h-1zM92 24h1v1h-1zM98 24h1v1h-1zM29 25h1v1h-1zM31 25h4v1h-4zM37 25h1v1h-1zM41 25h1v1h-1zM43 25h2v1h-2zM48 25h1v1h-1zM51 25h1v1h-1zM54 25h1v1h-1zM58 25h2v1h-2zM64 25h1v1h-1zM90 25h1v1h-1zM104 25h1v1h-1zM22 26h1v1h-1zM26 26h4v1h-4zM33 26h2v1h-2zM36 26h1v1h-1zM41 26h1v1h-1zM43 26h2v1h-2zM50 26h1v1h-1zM52 26h1v1h-1zM57 26h3v1h-3zM64 26h1v1h-1zM66 26h1v1h-1zM69 26h1v1h-1zM73 26h1v1h-1zM75 26h2v1h-2zM81 26h1v1h-1zM83 26h1v1h-1zM93 26h3v1h-3zM97 26h2v1h-2zM27 27h1v1h-1zM32 27h1v1h-1zM37 27h2v1h-2zM46 27h3v1h-3zM51 27h2v1h-2zM54 27h1v1h-1zM60 27h1v1h-1zM64 27h1v1h-1zM66 27h1v1h-1zM68 27h2v1h-2zM71 27h1v1h-1zM74 27h2v1h-2zM78 27h1v1h-1zM82 27h1v1h-1zM94 27h1v1h-1zM98 27h1v1h-1zM28 28h1v1h-1zM39 28h1v1h-1zM46 28h1v1h-1zM54 28h1v1h-1zM56 28h3v1h-3zM60 28h1v1h-1zM68 28h1v1h-1zM70 28h2v1h-2zM73 28h1v1h-1zM77 28h2v1h-2zM83 28h2v1h-2zM92 28h1v1h-1zM95 28h3v1h-3zM27 29h1v1h-1zM29 29h1v1h-1zM31 29h1v1h-1zM38 29h1v1h-1zM44 29h1v1h-1zM46 29h2v1h-2zM50 29h1v1h-1zM56 29h1v1h-1zM58 29h1v1h-1zM60 29h1v1h-1zM63 29h1v1h-1zM69 29h3v1h-3zM73 29h1v1h-1zM77 29h1v1h-1zM90 29h1v1h-1zM92 29h3v1h-3zM1 30h1v1h-1zM20 30h1v1h-1zM22 30h1v1h-1zM26 30h2v1h-2zM31 30h2v1h-2zM34 30h1v1h-1zM37 30h1v1h-1zM39 30h3v1h-3zM43 30h1v1h-1zM47 30h1v1h-1zM51 30h1v1h-1zM56 30h1v1h-1zM59 30h2v1h-2zM64 30h1v1h-1zM68 30h1v1h-1zM77 30h3v1h-3zM82 30h1v1h-1zM90 30h1v1h-1zM92 30h1v1h-1zM98 30h1v1h-1zM29 31h1v1h-1zM32 31h2v1h-2zM36 31h3v1h-3zM40 31h1v1h-1zM44 31h1v1h-1zM50 31h2v1h-2zM54 31h1v1h-1zM56 31h1v1h-1zM68 31h1v1h-1zM74 31h3v1h-3zM78 31h2v1h-2zM84 31h1v1h-1zM90 31h1v1h-1zM92 31h2v1h-2zM28 32h2v1h-2zM33 32h1v1h-1zM36 32h1v1h-1zM48 32h1v1h-1zM51 32h1v1h-1zM54 32h1v1h-1zM57 32h1v1h-1zM68 32h2v1h-2zM74 32h2v1h-2zM78 32h2v1h-2zM82 32h1v1h-1zM90 32h1v1h-1zM92 32h3v1h-3zM29 33h1v1h-1zM32 33h3v1h-3zM36 33h1v1h-1zM38 33h1v1h-1zM40 33h1v1h-1zM44 33h1v1h-1zM46 33h3v1h-3zM51 33h1v1h-1zM54 33h1v1h-1zM58 33h1v1h-1zM70 33h2v1h-2zM75 33h1v1h-1zM77 33h1v1h-1zM81 33h2v1h-2zM93 33h1v1h-1zM95 33h1v1h-1zM43 34h1v1h-1zM46 34h3v1h-3zM51 34h1v1h-1zM70 34h1v1h-1zM75 34h1v1h-1zM82 34h1v1h-1zM94 34h1v1h-1zM27 35h1v1h-1zM36 35h2v1h-2zM40 35h1v1h-1zM47 35h1v1h-1zM51 35h1v1h-1zM69 35h3v1h-3zM74 35h3v1h-3zM82 35h1v1h-1zM84 35h1v1h-1zM90 35h1v1h-1zM94 35h1v1h-1zM33 36h1v1h-1zM36 36h3v1h-3zM40 36h1v1h-1zM44 36h1v1h-1zM47 36h2v1h-2zM51 36h2v1h-2zM54 36h1v1h-1zM57 36h1v1h-1zM68 36h2v1h-2zM73 36h2v1h-2zM76 36h1v1h-1zM78 36h1v1h-1zM81 36h1v1h-1zM90 36h1v1h-1zM92 36h2v1h-2zM32 37h2v1h-2zM37 37h2v1h-2zM46 37h1v1h-1zM57 37h1v1h-1zM68 37h1v1h-1zM71 37h1v1h-1zM73 37h1v1h-1zM76 37h1v1h-1zM78 37h2v1h-2zM82 37h1v1h-1zM84 37h1v1h-1zM90 37h1v1h-1zM92 37h1v1h-1zM95 37h1v1h-1zM31 38h1v1h-1zM36 38h2v1h-2zM40 38h2v1h-2zM48 38h1v1h-1zM51 38h1v1h-1zM57 38h1v1h-1zM68 38h1v1h-1zM71 38h1v1h-1zM77 38h1v1h-1zM83 38h1v1h-1zM93 38h1v1h-1zM29 39h1v1h-1zM33 39h1v1h-1zM37 39h1v1h-1zM40 39h1v1h-1zM46 39h1v1h-1zM50 39h1v1h-1zM54 39h1v1h-1zM69 39h1v1h-1zM73 39h1v1h-1zM75 39h2v1h-2zM78 39h1v1h-1zM80 39h1v1h-1zM84 39h1v1h-1zM93 39h1v1h-1z"/>
<path fill="#5bcaf7" d="M27 0h2v1h-2zM85 0h1v1h-1zM90 0h1v1h-1zM94 0h1v1h-1zM108 0h1v1h-1zM41 1h2v1h-2zM52 1h1v1h-1zM65 1h2v1h-2zM87 1h1v1h-1zM102 1h1v1h-1zM115 1h1v1h-1zM26 2h1v1h-1zM43 2h1v1h-1zM45 2h1v1h-1zM48 2h1v1h-1zM56 2h1v1h-1zM73 2h1v1h-1zM76 2h1v1h-1zM82 2h6v1h-6zM30 3h1v1h-1zM42 3h1v1h-1zM50 3h1v1h-1zM57 3h1v1h-1zM41 4h3v1h-3zM84 4h2v1h-2zM96 4h1v1h-1zM98 4h1v1h-1zM104 4h1v1h-1zM115 4h1v1h-1zM53 5h1v1h-1zM84 5h1v1h-1zM35 6h1v1h-1zM49 6h1v1h-1zM72 6h1v1h-1zM91 6h1v1h-1zM99 6h1v1h-1zM25 7h1v1h-1zM49 7h1v1h-1zM55 7h1v1h-1zM61 7h1v1h-1zM88 7h1v1h-1zM71 8h1v1h-1zM45 9h1v1h-1zM75 9h1v1h-1zM28 11h2v1h-2zM31 11h3v1h-3zM36 11h1v1h-1zM40 11h2v1h-2zM43 11h1v1h-1zM47 11h2v1h-2zM50 11h1v1h-1zM52 11h1v1h-1zM56 11h2v1h-2zM59 11h1v1h-1zM72 11h1v1h-1zM76 11h1v1h-1zM78 11h1v1h-1zM80 11h1v1h-1zM88 11h1v1h-1zM25 12h4v1h-4zM33 12h2v1h-2zM36 12h1v1h-1zM38 12h1v1h-1zM40 12h2v1h-2zM44 12h1v1h-1zM46 12h1v1h-1zM48 12h1v1h-1zM50 12h3v1h-3zM54 12h1v1h-1zM57 12h2v1h-2zM61 12h1v1h-1zM65 12h1v1h-1zM68 12h2v1h-2zM72 12h1v1h-1zM80 12h1v1h-1zM88 12h1v1h-1zM91 12h1v1h-1zM25 13h5v1h-5zM32 13h3v1h-3zM36 13h2v1h-2zM40 13h2v1h-2zM43 13h1v1h-1zM46 13h1v1h-1zM48 13h1v1h-1zM51 13h2v1h-2zM54 13h1v1h-1zM56 13h4v1h-4zM69 13h1v1h-1zM72 13h1v1h-1zM76 13h1v1h-1zM80 13h2v1h-2zM88 13h1v1h-1zM91 13h1v1h-1zM26 14h4v1h-4zM31 14h1v1h-1zM33 14h1v1h-1zM36 14h2v1h-2zM39 14h2v1h-2zM43 14h2v1h-2zM46 14h1v1h-1zM48 14h1v1h-1zM50 14h3v1h-3zM54 14h1v1h-1zM57 14h3v1h-3zM61 14h1v1h-1zM66 14h1v1h-1zM69 14h1v1h-1zM78 14h1v1h-1zM81 14h1v1h-1zM88 14h1v1h-1zM91 14h1v1h-1zM97 14h2v1h-2zM26 15h1v1h-1zM28 15h2v1h-2zM34 15h1v1h-1zM36 15h3v1h-3zM40 15h1v1h-1zM43 15h2v1h-2zM46 15h3v1h-3zM50 15h3v1h-3zM54 15h1v1h-1zM57 15h1v1h-1zM59 15h1v1h-1zM61 15h1v1h-1zM65 15h1v1h-1zM69 15h2v1h-2zM72 15h1v1h-1zM76 15h2v1h-2zM81 15h1v1h-1zM88 15h1v1h-1zM91 15h1v1h-1zM97 15h2v1h-2zM101 15h1v1h-1zM25 16h2v1h-2zM28 16h3v1h-3zM32 16h3v1h-3zM36 16h3v1h-3zM40 16h1v1h-1zM44 16h1v1h-1zM50 16h2v1h-2zM56 16h1v1h-1zM58 16h2v1h-2zM61 16h1v1h-1zM65 16h1v1h-1zM72 16h1v1h-1zM76 16h1v1h-1zM80 16h1v1h-1zM88 16h1v1h-1zM97 16h1v1h-1zM26 17h2v1h-2zM29 17h1v1h-1zM34 17h1v1h-1zM38 17h3v1h-3zM44 17h1v1h-1zM46 17h3v1h-3zM50 17h2v1h-2zM54 17h1v1h-1zM56 17h3v1h-3zM77 17h1v1h-1zM80 17h2v1h-2zM88 17h2v1h-2zM27 18h3v1h-3zM31 18h1v1h-1zM33 18h2v1h-2zM37 18h5v1h-5zM43 18h1v1h-1zM47 18h2v1h-2zM50 18h1v1h-1zM52 18h1v1h-1zM54 18h1v1h-1zM57 18h1v1h-1zM59 18h3v1h-3zM68 18h1v1h-1zM72 18h1v1h-1zM76 18h2v1h-2zM80 18h2v1h-2zM88 18h1v1h-1zM30 19h2v1h-2zM64 19h1v1h-1zM82 19h1v1h-1zM93 19h1v1h-1zM30 20h1v1h-1zM42 20h1v1h-1zM52 20h2v1h-2zM67 20h1v1h-1zM43 21h1v1h-1zM45 21h1v1h-1zM63 21h2v1h-2zM67 21h1v1h-1zM71 21h1v1h-1zM85 21h1v1h-1zM32 22h1v1h-1zM34 22h1v1h-1zM45 22h2v1h-2zM48 22h1v1h-1zM50 22h1v1h-1zM56 22h2v1h-2zM60 22h1v1h-1zM67 22h2v1h-2zM79 22h1v1h-1zM97 22h1v1h-1zM20 23h1v1h-1zM27 23h1v1h-1zM30 23h1v1h-1zM39 23h1v1h-1zM45 23h2v1h-2zM50 23h1v1h-1zM53 23h1v1h-1zM57 23h1v1h-1zM67 23h2v1h-2zM82 23h1v1h-1zM22 24h1v1h-1zM30 24h1v1h-1zM32 24h1v1h-1zM38 24h2v1h-2zM46 24h1v1h-1zM52 24h1v1h-1zM74 24h1v1h-1zM79 24h1v1h-1zM97 24h1v1h-1zM20 25h1v1h-1zM28 25h1v1h-1zM30 25h1v1h-1zM38 25h1v1h-1zM56 25h1v1h-1zM71 25h1v1h-1zM73 25h3v1h-3zM79 25h1v1h-1zM82 25h2v1h-2zM93 25h1v1h-1zM20 26h1v1h-1zM38 26h1v1h-1zM56 26h1v1h-1zM60 26h1v1h-1zM67 26h1v1h-1zM71 26h1v1h-1zM79 26h1v1h-1zM82 26h1v1h-1zM20 27h1v1h-1zM28 27h1v1h-1zM30 27h2v1h-2zM43 27h1v1h-1zM45 27h1v1h-1zM50 27h1v1h-1zM67 27h1v1h-1zM73 27h1v1h-1zM93 27h1v1h-1zM27 28h1v1h-1zM31 28h1v1h-1zM34 28h1v1h-1zM38 28h1v1h-1zM40 28h2v1h-2zM43 28h1v1h-1zM48 28h1v1h-1zM52 28h2v1h-2zM59 28h1v1h-1zM75 28h1v1h-1zM79 28h1v1h-1zM82 28h1v1h-1zM90 28h1v1h-1zM28 29h1v1h-1zM39 29h1v1h-1zM41 29h1v1h-1zM43 29h1v1h-1zM48 29h1v1h-1zM52 29h1v1h-1zM67 29h2v1h-2zM74 29h2v1h-2zM82 29h1v1h-1zM97 29h1v1h-1zM28 30h1v1h-1zM30 30h1v1h-1zM48 30h1v1h-1zM50 30h1v1h-1zM52 30h2v1h-2zM57 30h1v1h-1zM71 30h1v1h-1zM73 30h3v1h-3zM93 30h1v1h-1zM97 30h1v1h-1zM27 31h1v1h-1zM31 31h1v1h-1zM39 31h1v1h-1zM41 31h1v1h-1zM43 31h1v1h-1zM46 31h1v1h-1zM48 31h1v1h-1zM57 31h1v1h-1zM73 31h1v1h-1zM82 31h2v1h-2zM30 32h3v1h-3zM34 32h1v1h-1zM40 32h2v1h-2zM43 32h2v1h-2zM50 32h1v1h-1zM52 32h2v1h-2zM56 32h1v1h-1zM58 32h1v1h-1zM67 32h1v1h-1zM83 32h1v1h-1zM27 33h2v1h-2zM30 33h2v1h-2zM37 33h1v1h-1zM43 33h1v1h-1zM50 33h1v1h-1zM53 33h1v1h-1zM56 33h2v1h-2zM67 33h1v1h-1zM73 33h1v1h-1zM83 33h1v1h-1zM94 33h1v1h-1zM28 34h2v1h-2zM32 34h2v1h-2zM37 34h2v1h-2zM44 34h1v1h-1zM54 34h1v1h-1zM56 34h1v1h-1zM58 34h1v1h-1zM71 34h1v1h-1zM73 34h2v1h-2zM83 34h1v1h-1zM93 34h1v1h-1zM28 35h2v1h-2zM31 35h1v1h-1zM33 35h2v1h-2zM39 35h1v1h-1zM43 35h2v1h-2zM46 35h1v1h-1zM48 35h1v1h-1zM54 35h1v1h-1zM56 35h2v1h-2zM67 35h1v1h-1zM73 35h1v1h-1zM93 35h1v1h-1zM27 36h5v1h-5zM41 36h1v1h-1zM43 36h1v1h-1zM50 36h1v1h-1zM56 36h1v1h-1zM67 36h1v1h-1zM71 36h1v1h-1zM75 36h1v1h-1zM82 36h2v1h-2zM27 37h3v1h-3zM31 37h1v1h-1zM40 37h1v1h-1zM43 37h1v1h-1zM48 37h1v1h-1zM50 37h1v1h-1zM52 37h1v1h-1zM54 37h1v1h-1zM56 37h1v1h-1zM75 37h1v1h-1zM83 37h1v1h-1zM93 37h1v1h-1zM28 38h1v1h-1zM30 38h1v1h-1zM32 38h3v1h-3zM38 38h1v1h-1zM42 38h3v1h-3zM46 38h1v1h-1zM54 38h1v1h-1zM56 38h1v1h-1zM73 38h1v1h-1zM28 39h1v1h-1zM32 39h1v1h-1zM39 39h1v1h-1zM43 39h2v1h-2zM47 39h2v1h-2zM56 39h1v1h-1zM67 39h1v1h-1zM74 39h1v1h-1zM82 39h2v1h-2z"/>
<path fill="#49c4f6" d="M31 0h1v1h-1zM37 0h1v1h-1zM48 0h1v1h-1zM82 0h1v1h-1zM105 0h1v1h-1zM31 1h1v1h-1zM53 1h1v1h-1zM60 1h1v1h-1zM74 1h2v1h-2zM82 1h2v1h-2zM89 1h1v1h-1zM101 1h1v1h-1zM105 1h1v1h-1zM38 2h2v1h-2zM46 2h1v1h-1zM74 2h2v1h-2zM79 2h1v1h-1zM92 2h1v1h-1zM39 3h1v1h-1zM43 3h1v1h-1zM52 3h1v1h-1zM84 3h1v1h-1zM97 4h1v1h-1zM22 5h1v1h-1zM85 5h1v1h-1zM21 6h1v1h-1zM25 6h1v1h-1zM29 6h1v1h-1zM33 6h1v1h-1zM36 6h2v1h-2zM44 6h1v1h-1zM47 6h1v1h-1zM54 6h5v1h-5zM61 6h1v1h-1zM66 6h1v1h-1zM69 6h1v1h-1zM76 6h2v1h-2zM81 6h1v1h-1zM88 6h1v1h-1zM98 6h1v1h-1zM36 7h1v1h-1zM40 7h1v1h-1zM47 7h2v1h-2zM51 7h1v1h-1zM59 7h1v1h-1zM65 7h2v1h-2zM68 7h1v1h-1zM70 7h1v1h-1zM72 7h1v1h-1zM80 7h1v1h-1zM84 7h1v1h-1zM87 7h1v1h-1zM91 7h1v1h-1zM95 7h1v1h-1zM99 7h1v1h-1zM102 7h2v1h-2zM106 7h1v1h-1zM67 8h1v1h-1zM67 9h1v1h-1zM67 10h1v1h-1zM84 10h3v1h-3zM27 11h1v1h-1zM30 11h1v1h-1zM34 11h1v1h-1zM38 11h2v1h-2zM42 11h1v1h-1zM46 11h1v1h-1zM53 11h1v1h-1zM60 11h1v1h-1zM62 11h1v1h-1zM65 11h2v1h-2zM68 11h3v1h-3zM74 11h1v1h-1zM77 11h1v1h-1zM79 11h1v1h-1zM81 11h1v1h-1zM83 11h1v1h-1zM87 11h1v1h-1zM89 11h1v1h-1zM30 12h3v1h-3zM39 12h1v1h-1zM42 12h2v1h-2zM45 12h1v1h-1zM56 12h1v1h-1zM59 12h2v1h-2zM62 12h2v1h-2zM66 12h1v1h-1zM70 12h1v1h-1zM75 12h4v1h-4zM81 12h1v1h-1zM92 12h1v1h-1zM30 13h2v1h-2zM38 13h2v1h-2zM45 13h1v1h-1zM50 13h1v1h-1zM53 13h1v1h-1zM60 13h1v1h-1zM65 13h2v1h-2zM70 13h1v1h-1zM73 13h1v1h-1zM77 13h2v1h-2zM82 13h1v1h-1zM87 13h1v1h-1zM89 13h2v1h-2zM30 14h1v1h-1zM32 14h1v1h-1zM34 14h1v1h-1zM38 14h1v1h-1zM41 14h2v1h-2zM53 14h1v1h-1zM56 14h1v1h-1zM60 14h1v1h-1zM68 14h1v1h-1zM70 14h1v1h-1zM72 14h2v1h-2zM76 14h2v1h-2zM80 14h1v1h-1zM87 14h1v1h-1zM89 14h2v1h-2zM92 14h1v1h-1zM27 15h1v1h-1zM30 15h3v1h-3zM39 15h1v1h-1zM41 15h2v1h-2zM45 15h1v1h-1zM53 15h1v1h-1zM56 15h1v1h-1zM60 15h1v1h-1zM66 15h1v1h-1zM68 15h1v1h-1zM74 15h1v1h-1zM78 15h1v1h-1zM80 15h1v1h-1zM82 15h1v1h-1zM87 15h1v1h-1zM89 15h2v1h-2zM92 15h1v1h-1zM27 16h1v1h-1zM31 16h1v1h-1zM39 16h1v1h-1zM41 16h3v1h-3zM46 16h1v1h-1zM52 16h1v1h-1zM57 16h1v1h-1zM60 16h1v1h-1zM62 16h1v1h-1zM68 16h3v1h-3zM75 16h1v1h-1zM78 16h1v1h-1zM81 16h1v1h-1zM83 16h1v1h-1zM87 16h1v1h-1zM89 16h2v1h-2zM92 16h1v1h-1zM28 17h1v1h-1zM30 17h4v1h-4zM41 17h3v1h-3zM45 17h1v1h-1zM52 17h1v1h-1zM59 17h2v1h-2zM62 17h1v1h-1zM66 17h1v1h-1zM69 17h2v1h-2zM73 17h1v1h-1zM76 17h1v1h-1zM78 17h1v1h-1zM82 17h2v1h-2zM86 17h2v1h-2zM92 17h1v1h-1zM30 18h1v1h-1zM32 18h1v1h-1zM44 18h3v1h-3zM53 18h1v1h-1zM56 18h1v1h-1zM62 18h1v1h-1zM64 18h3v1h-3zM69 18h3v1h-3zM74 18h1v1h-1zM78 18h1v1h-1zM82 18h1v1h-1zM86 18h2v1h-2zM89 18h1v1h-1zM92 18h1v1h-1zM42 19h1v1h-1zM45 19h1v1h-1zM53 19h1v1h-1zM67 19h1v1h-1zM84 20h1v1h-1zM30 21h2v1h-2zM52 21h2v1h-2zM84 21h1v1h-1zM27 22h1v1h-1zM39 22h1v1h-1zM75 22h1v1h-1zM52 23h1v1h-1zM79 23h1v1h-1zM83 23h1v1h-1zM93 23h1v1h-1zM41 24h1v1h-1zM45 24h1v1h-1zM53 24h1v1h-1zM67 24h1v1h-1zM71 24h1v1h-1zM75 24h1v1h-1zM83 24h1v1h-1zM93 24h1v1h-1zM27 25h1v1h-1zM39 25h1v1h-1zM45 25h1v1h-1zM50 25h1v1h-1zM52 25h1v1h-1zM87 25h1v1h-1zM30 26h2v1h-2zM39 26h1v1h-1zM53 26h1v1h-1zM74 26h1v1h-1zM39 27h1v1h-1zM41 27h1v1h-1zM53 27h1v1h-1zM79 27h1v1h-1zM83 27h1v1h-1zM30 28h1v1h-1zM74 28h1v1h-1zM93 28h1v1h-1zM30 29h1v1h-1zM45 29h1v1h-1zM79 29h1v1h-1zM83 29h1v1h-1zM83 30h1v1h-1zM28 31h1v1h-1zM30 31h1v1h-1zM34 31h1v1h-1zM42 31h1v1h-1zM45 31h1v1h-1zM52 31h2v1h-2zM67 31h1v1h-1zM71 31h1v1h-1zM27 32h1v1h-1zM38 32h1v1h-1zM42 32h1v1h-1zM46 32h1v1h-1zM71 32h1v1h-1zM41 33h2v1h-2zM52 33h1v1h-1zM74 33h1v1h-1zM79 33h1v1h-1zM27 34h1v1h-1zM30 34h2v1h-2zM34 34h1v1h-1zM41 34h1v1h-1zM45 34h1v1h-1zM50 34h1v1h-1zM52 34h2v1h-2zM57 34h1v1h-1zM67 34h1v1h-1zM79 34h1v1h-1zM30 35h1v1h-1zM32 35h1v1h-1zM38 35h1v1h-1zM41 35h2v1h-2zM50 35h1v1h-1zM52 35h2v1h-2zM79 35h1v1h-1zM83 35h1v1h-1zM32 36h1v1h-1zM34 36h1v1h-1zM39 36h1v1h-1zM45 36h2v1h-2zM79 36h1v1h-1zM30 37h1v1h-1zM34 37h1v1h-1zM39 37h1v1h-1zM41 37h2v1h-2zM53 37h1v1h-1zM67 37h1v1h-1zM74 37h1v1h-1zM27 38h1v1h-1zM50 38h1v1h-1zM67 38h1v1h-1zM74 38h2v1h-2zM79 38h1v1h-1zM27 39h1v1h-1zM30 39h2v1h-2zM34 39h1v1h-1zM38 39h1v1h-1zM41 39h1v1h-1zM45 39h1v1h-1zM52 39h2v1h-2zM57 39h1v1h-1zM71 39h1v1h-1zM79 39h1v1h-1z"/>
<path fill="#37bef5" d="M53 0h1v1h-1zM60 0h1v1h-1zM86 0h1v1h-1zM93 0h1v1h-1zM97 0h1v1h-1zM104 0h1v1h-1zM30 1h1v1h-1zM62 1h1v1h-1zM64 1h1v1h-1zM73 1h1v1h-1zM92 1h1v1h-1zM30 2h1v1h-1zM34 2h1v1h-1zM50 2h1v1h-1zM52 2h2v1h-2zM93 2h1v1h-1zM97 2h1v1h-1zM85 3h1v1h-1zM93 3h1v1h-1zM22 4h1v1h-1zM30 4h1v1h-1zM39 4h1v1h-1zM86 4h1v1h-1zM24 6h1v1h-1zM26 6h1v1h-1zM28 6h1v1h-1zM32 6h1v1h-1zM40 6h2v1h-2zM46 6h1v1h-1zM48 6h1v1h-1zM51 6h2v1h-2zM59 6h1v1h-1zM65 6h1v1h-1zM70 6h1v1h-1zM73 6h3v1h-3zM78 6h1v1h-1zM80 6h1v1h-1zM82 6h1v1h-1zM84 6h4v1h-4zM90 6h1v1h-1zM94 6h4v1h-4zM100 6h3v1h-3zM105 6h2v1h-2zM26 7h1v1h-1zM29 7h1v1h-1zM32 7h2v1h-2zM37 7h3v1h-3zM44 7h1v1h-1zM46 7h1v1h-1zM52 7h1v1h-1zM54 7h1v1h-1zM56 7h1v1h-1zM58 7h1v1h-1zM62 7h1v1h-1zM69 7h1v1h-1zM75 7h4v1h-4zM81 7h1v1h-1zM85 7h1v1h-1zM92 7h1v1h-1zM96 7h1v1h-1zM98 7h1v1h-1zM100 7h2v1h-2zM105 7h1v1h-1zM83 8h1v1h-1zM85 8h1v1h-1zM86 9h1v1h-1zM45 11h1v1h-1zM63 11h2v1h-2zM67 11h1v1h-1zM71 11h1v1h-1zM73 11h1v1h-1zM75 11h1v1h-1zM82 11h1v1h-1zM84 11h1v1h-1zM86 11h1v1h-1zM90 11h1v1h-1zM92 11h2v1h-2zM53 12h1v1h-1zM64 12h1v1h-1zM67 12h1v1h-1zM73 12h2v1h-2zM82 12h3v1h-3zM86 12h2v1h-2zM89 12h2v1h-2zM93 12h1v1h-1zM42 13h1v1h-1zM62 13h3v1h-3zM67 13h2v1h-2zM71 13h1v1h-1zM74 13h2v1h-2zM83 13h4v1h-4zM92 13h1v1h-1zM45 14h1v1h-1zM62 14h4v1h-4zM71 14h1v1h-1zM75 14h1v1h-1zM79 14h1v1h-1zM82 14h3v1h-3zM86 14h1v1h-1zM62 15h3v1h-3zM67 15h1v1h-1zM71 15h1v1h-1zM73 15h1v1h-1zM75 15h1v1h-1zM79 15h1v1h-1zM83 15h1v1h-1zM45 16h1v1h-1zM53 16h1v1h-1zM63 16h2v1h-2zM71 16h1v1h-1zM73 16h2v1h-2zM79 16h1v1h-1zM82 16h1v1h-1zM86 16h1v1h-1zM53 17h1v1h-1zM63 17h1v1h-1zM65 17h1v1h-1zM67 17h2v1h-2zM74 17h2v1h-2zM79 17h1v1h-1zM84 17h2v1h-2zM90 17h1v1h-1zM42 18h1v1h-1zM63 18h1v1h-1zM67 18h1v1h-1zM73 18h1v1h-1zM75 18h1v1h-1zM79 18h1v1h-1zM83 18h2v1h-2zM90 18h1v1h-1zM84 19h1v1h-1zM86 20h1v1h-1zM42 21h1v1h-1zM53 22h1v1h-1zM85 22h1v1h-1zM87 22h1v1h-1zM87 23h1v1h-1zM53 25h1v1h-1zM67 25h1v1h-1zM45 26h1v1h-1zM85 26h1v1h-1zM85 27h1v1h-1zM87 27h1v1h-1zM45 28h1v1h-1zM67 28h1v1h-1zM53 29h1v1h-1zM87 29h1v1h-1zM45 30h1v1h-1zM67 30h1v1h-1zM39 32h1v1h-1zM45 32h1v1h-1zM39 33h1v1h-1zM45 33h1v1h-1zM85 33h1v1h-1zM39 34h1v1h-1zM42 34h1v1h-1zM85 34h1v1h-1zM87 35h1v1h-1zM42 36h1v1h-1zM53 36h1v1h-1zM87 36h1v1h-1zM39 38h1v1h-1zM52 38h2v1h-2zM85 38h2v1h-2zM42 39h1v1h-1z"/>
<path fill="#24b8f4" d="M30 0h1v1h-1zM38 0h2v1h-2zM79 0h1v1h-1zM63 1h1v1h-1zM79 1h1v1h-1zM86 1h1v1h-1zM104 1h1v1h-1zM90 2h1v1h-1zM86 3h1v1h-1zM53 4h1v1h-1zM83 4h1v1h-1zM86 5h1v1h-1zM22 6h2v1h-2zM27 6h1v1h-1zM30 6h2v1h-2zM34 6h1v1h-1zM38 6h2v1h-2zM42 6h2v1h-2zM50 6h1v1h-1zM53 6h1v1h-1zM62 6h1v1h-1zM68 6h1v1h-1zM71 6h1v1h-1zM79 6h1v1h-1zM89 6h1v1h-1zM92 6h2v1h-2zM103 6h2v1h-2zM24 7h1v1h-1zM27 7h2v1h-2zM30 7h2v1h-2zM34 7h1v1h-1zM41 7h3v1h-3zM50 7h1v1h-1zM53 7h1v1h-1zM57 7h1v1h-1zM63 7h1v1h-1zM67 7h1v1h-1zM71 7h1v1h-1zM73 7h2v1h-2zM79 7h1v1h-1zM82 7h1v1h-1zM89 7h2v1h-2zM94 7h1v1h-1zM104 7h1v1h-1zM85 9h1v1h-1zM83 10h1v1h-1zM85 11h1v1h-1zM79 12h1v1h-1zM85 12h1v1h-1zM79 13h1v1h-1zM93 13h1v1h-1zM67 14h1v1h-1zM74 14h1v1h-1zM85 14h1v1h-1zM93 14h1v1h-1zM84 15h1v1h-1zM93 15h1v1h-1zM67 16h1v1h-1zM84 16h1v1h-1zM93 16h1v1h-1zM64 17h1v1h-1zM71 17h1v1h-1zM93 17h1v1h-1zM85 18h1v1h-1zM93 18h1v1h-1zM85 20h1v1h-1zM86 22h1v1h-1zM85 23h1v1h-1zM85 24h1v1h-1zM87 24h1v1h-1zM86 25h1v1h-1zM87 26h1v1h-1zM85 28h1v1h-1zM87 28h1v1h-1zM85 29h1v1h-1zM85 30h1v1h-1zM87 30h1v1h-1zM85 31h1v1h-1zM87 31h1v1h-1zM85 32h1v1h-1zM87 32h1v1h-1zM87 33h1v1h-1zM87 34h1v1h-1zM45 35h1v1h-1zM85 35h1v1h-1zM85 36h2v1h-2zM45 37h1v1h-1zM85 37h3v1h-3zM45 38h1v1h-1zM87 38h1v1h-1zM85 39h1v1h-1zM87 39h1v1h-1z"/>
<path fill="#12b2f3" d="M67 0h1v1h-1zM45 3h1v1h-1zM45 5h1v1h-1zM83 5h1v1h-1zM60 6h1v1h-1zM63 6h2v1h-2zM83 6h1v1h-1zM60 7h1v1h-1zM64 7h1v1h-1zM83 7h1v1h-1zM93 7h1v1h-1zM97 7h1v1h-1zM86 8h1v1h-1zM83 9h1v1h-1zM85 15h1v1h-1zM85 16h1v1h-1zM85 19h1v1h-1zM83 20h1v1h-1zM86 23h1v1h-1zM85 25h1v1h-1zM86 26h1v1h-1zM86 27h1v1h-1zM86 28h1v1h-1zM86 31h1v1h-1zM86 32h1v1h-1zM86 33h1v1h-1zM86 34h1v1h-1zM86 35h1v1h-1zM86 39h1v1h-1z"/>
<path fill="#00acf2" d="M45 0h1v1h-1zM83 0h1v1h-1zM45 1h1v1h-1zM67 1h1v1h-1zM93 1h1v1h-1zM83 3h1v1h-1zM45 6h1v1h-1zM67 6h1v1h-1zM45 7h1v1h-1zM83 19h1v1h-1zM86 19h1v1h-1zM83 21h1v1h-1zM86 21h1v1h-1zM86 24h1v1h-1zM86 29h1v1h-1zM86 30h1v1h-1z"/>
</svg>
<path d="M496.60 251.14H499.20M496.60 257.01H499.20M496.60 262.89H499.20M496.60 268.76H499.20M496.60 274.64H499.20M496.60 280.51H499.20M496.60 286.39H499.20M496.60 292.26H499.20M496.60 298.14H499.20M496.60 304.01H499.20M496.60 309.89H499.20M496.60 315.76H499.20M496.60 321.64H499.20M496.60 327.51H499.20M496.60 333.39H499.20M496.60 339.26H499.20M496.60 345.14H499.20M496.60 351.01H499.20M496.60 356.89H499.20M496.60 362.76H499.20M496.60 368.64H499.20M496.60 374.51H499.20M496.60 380.39H499.20M496.60 386.26H499.20M496.60 392.14H499.20M496.60 398.01H499.20M496.60 403.89H499.20M496.60 409.76H499.20M496.60 415.64H499.20M496.60 421.51H499.20M496.60 427.39H499.20M496.60 433.26H499.20M496.60 439.14H499.20M496.60 445.01H499.20M496.60 450.89H499.20M496.60 456.76H499.20M496.60 462.64H499.20M496.60 468.51H499.20M496.60 474.39H499.20M496.60 480.26H499.20" stroke="#444" stroke-width="0.6" fill="none"/>
<text x="493.00" y="253.44" text-anchor="end">WhR_3</text>
<text x="493.00" y="259.31" text-anchor="end">Kat_2</text>
<text x="493.00" y="265.19" text-anchor="end">WhR_2</text>
<text x="493.00" y="271.06" text-anchor="end">Lum_2</text>
<text x="493.00" y="276.94" text-anchor="end">Flo_2</text>
<text x="493.00" y="282.81" text-anchor="end">PrW_1</text>
<text x="493.00" y="288.69" text-anchor="end">Fla_1</text>
<text x="493.00" y="294.56" text-anchor="end">EgH_1</text>
<text x="493.00" y="300.44" text-anchor="end">Flo_1</text>
<text x="493.00" y="306.31" text-anchor="end">Ack_1</text>
<text x="493.00" y="312.19" text-anchor="end">EgH_3</text>
<text x="493.00" y="318.06" text-anchor="end">EgH_2</text>
<text x="493.00" y="323.94" text-anchor="end">EdB_1</text>
<text x="493.00" y="329.81" text-anchor="end">Fla_2</text>
<text x="493.00" y="335.69" text-anchor="end">Kat_3</text>
<text x="493.00" y="341.56" text-anchor="end">Flo_3</text>
<text x="493.00" y="347.44" text-anchor="end">Ack_3</text>
<text x="493.00" y="353.31" text-anchor="end">Lum_3</text>
<text x="493.00" y="359.19" text-anchor="end">BdF_2</text>
<text x="493.00" y="365.06" text-anchor="end">Kat_4</text>
<text x="493.00" y="370.94" text-anchor="end">PrW_3</text>
<text x="493.00" y="376.81" text-anchor="end">PrW_2</text>
<text x="493.00" y="382.69" text-anchor="end">PrW_4</text>
<text x="493.00" y="388.56" text-anchor="end">EdB_3</text>
<text x="493.00" y="394.44" text-anchor="end">Lum_4</text>
<text x="493.00" y="400.31" text-anchor="end">EgH_4</text>
<text x="493.00" y="406.19" text-anchor="end">Ack_2</text>
<text x="493.00" y="412.06" text-anchor="end">WhR_4</text>
<text x="493.00" y="417.94" text-anchor="end">Flo_4</text>
<text x="493.00" y="423.81" text-anchor="end">Kat_1</text>
<text x="493.00" y="429.69" text-anchor="end">EdB_4</text>
<text x="493.00" y="435.56" text-anchor="end">EdB_2</text>
<text x="493.00" y="441.44" text-anchor="end">Ack_4</text>
<text x="493.00" y="447.31" text-anchor="end">Fla_4</text>
<text x="493.00" y="453.19" text-anchor="end">BdF_1</text>
<text x="493.00" y="459.06" text-anchor="end">BdF_4</text>
<text x="493.00" y="464.94" text-anchor="end">WhR_1</text>
<text x="493.00" y="470.81" text-anchor="end">Lum_1</text>
<text x="493.00" y="476.69" text-anchor="end">Fla_3</text>
<text x="493.00" y="482.56" text-anchor="end">BdF_3</text>
<line x1="499.20" y1="248.20" x2="499.20" y2="483.20" stroke="#777" stroke-width="0.5"/>
<line x1="499.20" y1="482.90" x2="637.50" y2="482.90" stroke="#444" stroke-width="0.7"/>
<path d="M499.50 482.90V485.80M522.50 482.90V485.80M545.50 482.90V485.80M568.50 482.90V485.80M591.50 482.90V485.80M614.50 482.90V485.80M637.50 482.90V485.80" stroke="#444" stroke-width="0.7" fill="none"/>
<text x="499.50" y="494.90" text-anchor="middle">0</text>
<text x="522.50" y="494.90" text-anchor="middle">10</text>
<text x="545.50" y="494.90" text-anchor="middle">20</text>
<text x="568.50" y="494.90" text-anchor="middle">30</text>
<text x="591.50" y="494.90" text-anchor="middle">40</text>
<text x="614.50" y="494.90" text-anchor="middle">50</text>
<text x="637.50" y="494.90" text-anchor="middle">60</text>
<text x="568.50" y="507.00" text-anchor="middle" font-size="6.7">Position (Chr. 12; Mb)</text>
<line x1="499.20" y1="283.45" x2="637.20" y2="283.45" stroke="#e3232b" stroke-width="0.7" stroke-dasharray="1.4 1.1"/>
<line x1="499.20" y1="295.20" x2="637.20" y2="295.20" stroke="#e3232b" stroke-width="0.7" stroke-dasharray="1.4 1.1"/>
<line x1="499.20" y1="312.82" x2="637.20" y2="312.82" stroke="#e3232b" stroke-width="0.7" stroke-dasharray="1.4 1.1"/>
<line x1="499.20" y1="359.82" x2="637.20" y2="359.82" stroke="#e3232b" stroke-width="0.7" stroke-dasharray="1.4 1.1"/>
<line x1="499.20" y1="377.45" x2="637.20" y2="377.45" stroke="#e3232b" stroke-width="0.7" stroke-dasharray="1.4 1.1"/>
<line x1="499.20" y1="430.32" x2="637.20" y2="430.32" stroke="#e3232b" stroke-width="0.7" stroke-dasharray="1.4 1.1"/>
<text x="460.40" y="235.00" font-weight="bold" font-size="10.5" fill="#000" style="stroke:#000;stroke-width:0.3px">e</text>
<text x="570.9" y="242.5" text-anchor="middle"><tspan font-style="italic">D</tspan>-statistic</text>
<text x="465.00" y="366.00" text-anchor="middle" transform="rotate(-90 465.00 366.00)">Haplotype</text>
<text x="646.00" y="236.30" text-anchor="middle">No. of significant</text>
<text x="646.00" y="244.30" text-anchor="middle">tests</text>
<text x="646.50" y="253.54" text-anchor="middle">3</text>
<text x="646.50" y="259.41" text-anchor="middle">3</text>
<text x="646.50" y="265.29" text-anchor="middle">3</text>
<text x="646.50" y="271.16" text-anchor="middle">2</text>
<text x="646.50" y="277.04" text-anchor="middle">2</text>
<text x="646.50" y="282.91" text-anchor="middle">3</text>
<text x="646.50" y="288.79" text-anchor="middle">4</text>
<text x="646.50" y="294.66" text-anchor="middle">3</text>
<text x="646.50" y="300.54" text-anchor="middle">3</text>
<text x="646.50" y="306.41" text-anchor="middle">1</text>
<text x="646.50" y="312.29" text-anchor="middle">3</text>
<text x="646.50" y="318.16" text-anchor="middle">2</text>
<text x="646.50" y="324.04" text-anchor="middle">2</text>
<text x="646.50" y="329.91" text-anchor="middle">3</text>
<text x="646.50" y="335.79" text-anchor="middle">3</text>
<text x="646.50" y="341.66" text-anchor="middle">2</text>
<text x="646.50" y="347.54" text-anchor="middle">3</text>
<text x="646.50" y="353.41" text-anchor="middle">2</text>
<text x="646.50" y="359.29" text-anchor="middle">2</text>
<text x="646.50" y="365.16" text-anchor="middle">2</text>
<text x="646.50" y="371.04" text-anchor="middle">3</text>
<text x="646.50" y="376.91" text-anchor="middle">3</text>
<text x="646.50" y="382.79" text-anchor="middle">4</text>
<text x="646.50" y="388.66" text-anchor="middle">4</text>
<text x="646.50" y="394.54" text-anchor="middle">4</text>
<text x="646.50" y="400.41" text-anchor="middle">4</text>
<text x="646.50" y="406.29" text-anchor="middle">4</text>
<text x="646.50" y="412.16" text-anchor="middle">4</text>
<text x="646.50" y="418.04" text-anchor="middle">4</text>
<text x="646.50" y="423.91" text-anchor="middle">4</text>
<text x="646.50" y="429.79" text-anchor="middle">4</text>
<text x="646.50" y="435.66" text-anchor="middle">2</text>
<text x="646.50" y="441.54" text-anchor="middle">2</text>
<text x="646.50" y="447.41" text-anchor="middle">3</text>
<text x="646.50" y="453.29" text-anchor="middle">3</text>
<text x="646.50" y="459.16" text-anchor="middle">2</text>
<text x="646.50" y="465.04" text-anchor="middle">2</text>
<text x="646.50" y="470.91" text-anchor="middle">2</text>
<text x="646.50" y="476.79" text-anchor="middle">3</text>
<text x="646.50" y="482.66" text-anchor="middle">2</text>
<text x="653.6" y="333.7"><tspan font-style="italic">D</tspan>-statistic</text>
<defs><linearGradient id="dg" x1="0" y1="0" x2="0" y2="1"><stop offset="0" stop-color="#0aa9f0"/><stop offset="1" stop-color="#ffffff"/></linearGradient></defs>
<rect x="657.10" y="342.60" width="6.90" height="35.70" fill="url(#dg)"/>
<text x="668.00" y="345.10">1.00</text>
<text x="668.00" y="354.10">0.75</text>
<text x="668.00" y="362.90">0.50</text>
<text x="668.00" y="371.60">0.25</text>
<text x="668.00" y="380.60">0</text>
</g>
<g id="panel_f">
<text x="0.60" y="542.00" font-weight="bold" font-size="10.5" fill="#000" style="stroke:#000;stroke-width:0.3px">f</text>
<line x1="51.60" y1="548.40" x2="51.60" y2="598.90" stroke="#555" stroke-width="0.7"/>
<text x="45.00" y="551.10" text-anchor="end">1.00</text>
<line x1="48.60" y1="548.80" x2="51.60" y2="548.80" stroke="#555" stroke-width="0.6"/>
<text x="45.00" y="561.80" text-anchor="end">0.75</text>
<line x1="48.60" y1="559.50" x2="51.60" y2="559.50" stroke="#555" stroke-width="0.6"/>
<text x="45.00" y="572.60" text-anchor="end">0.50</text>
<line x1="48.60" y1="570.30" x2="51.60" y2="570.30" stroke="#555" stroke-width="0.6"/>
<text x="45.00" y="583.50" text-anchor="end">0.25</text>
<line x1="48.60" y1="581.20" x2="51.60" y2="581.20" stroke="#555" stroke-width="0.6"/>
<text x="45.00" y="594.30" text-anchor="end">0</text>
<line x1="48.60" y1="592.00" x2="51.60" y2="592.00" stroke="#555" stroke-width="0.6"/>
<text x="16.40" y="574.00" text-anchor="middle" transform="rotate(-90 16.40 574.00)">Diversity in</text>
<text x="24.20" y="574.00" text-anchor="middle" transform="rotate(-90 24.20 574.00)">haplotype ancestry</text>
<line x1="51.60" y1="570.30" x2="123.50" y2="570.30" stroke="#e2e2e2" stroke-width="0.6"/>
<line x1="51.60" y1="598.75" x2="123.50" y2="598.75" stroke="#555" stroke-width="0.7"/>
<text x="85.45" y="544.70" text-anchor="middle">Chr. 1</text>
<path d="M51.60 598.7V601.2M63.97 598.7V601.2M76.34 598.7V601.2M88.70 598.7V601.2M101.07 598.7V601.2M113.44 598.7V601.2" stroke="#555" stroke-width="0.7" fill="none"/>
<text x="51.60" y="609.60" text-anchor="middle">0</text>
<text x="76.34" y="609.60" text-anchor="middle">30</text>
<text x="101.07" y="609.60" text-anchor="middle">60</text>
<text x="113.44" y="609.60" text-anchor="middle">75</text>
<rect x="66.50" y="595.20" width="30.80" height="2.20" fill="#74b576"/>
<line x1="127.20" y1="570.30" x2="163.70" y2="570.30" stroke="#e2e2e2" stroke-width="0.6"/>
<line x1="127.20" y1="598.75" x2="163.70" y2="598.75" stroke="#555" stroke-width="0.7"/>
<text x="143.35" y="544.70" text-anchor="middle">Chr. 2</text>
<path d="M127.50 598.7V601.2M139.87 598.7V601.2M152.24 598.7V601.2" stroke="#555" stroke-width="0.7" fill="none"/>
<text x="127.50" y="609.60" text-anchor="middle">0</text>
<text x="152.24" y="609.60" text-anchor="middle">30</text>
<rect x="127.60" y="595.20" width="10.10" height="2.20" fill="#74b576"/>
<line x1="167.40" y1="570.30" x2="216.10" y2="570.30" stroke="#e2e2e2" stroke-width="0.6"/>
<line x1="167.40" y1="598.75" x2="216.10" y2="598.75" stroke="#555" stroke-width="0.7"/>
<text x="189.65" y="544.70" text-anchor="middle">Chr. 3</text>
<path d="M167.40 598.7V601.2M179.77 598.7V601.2M192.13 598.7V601.2M204.50 598.7V601.2" stroke="#555" stroke-width="0.7" fill="none"/>
<text x="167.40" y="609.60" text-anchor="middle">0</text>
<text x="192.13" y="609.60" text-anchor="middle">30</text>
<text x="204.50" y="609.60" text-anchor="middle">45</text>
<rect x="173.00" y="595.20" width="27.00" height="2.20" fill="#74b576"/>
<line x1="219.30" y1="570.30" x2="276.20" y2="570.30" stroke="#e2e2e2" stroke-width="0.6"/>
<line x1="219.30" y1="598.75" x2="276.20" y2="598.75" stroke="#555" stroke-width="0.7"/>
<text x="245.65" y="544.70" text-anchor="middle">Chr. 4</text>
<path d="M219.60 598.7V601.2M231.97 598.7V601.2M244.33 598.7V601.2M256.70 598.7V601.2M269.07 598.7V601.2" stroke="#555" stroke-width="0.7" fill="none"/>
<text x="219.60" y="609.60" text-anchor="middle">0</text>
<text x="244.33" y="609.60" text-anchor="middle">30</text>
<text x="269.07" y="609.60" text-anchor="middle">60</text>
<rect x="230.10" y="595.20" width="26.00" height="2.20" fill="#74b576"/>
<line x1="279.50" y1="570.30" x2="324.40" y2="570.30" stroke="#e2e2e2" stroke-width="0.6"/>
<line x1="279.50" y1="598.75" x2="324.40" y2="598.75" stroke="#555" stroke-width="0.7"/>
<text x="299.85" y="544.70" text-anchor="middle">Chr. 5</text>
<path d="M279.90 598.7V601.2M292.27 598.7V601.2M304.63 598.7V601.2M317.00 598.7V601.2" stroke="#555" stroke-width="0.7" fill="none"/>
<text x="279.90" y="609.60" text-anchor="middle">0</text>
<text x="304.63" y="609.60" text-anchor="middle">30</text>
<text x="317.00" y="609.60" text-anchor="middle">45</text>
<rect x="291.10" y="595.20" width="26.50" height="2.20" fill="#74b576"/>
<line x1="327.60" y1="570.30" x2="375.80" y2="570.30" stroke="#e2e2e2" stroke-width="0.6"/>
<line x1="327.60" y1="598.75" x2="375.80" y2="598.75" stroke="#555" stroke-width="0.7"/>
<text x="349.60" y="544.70" text-anchor="middle">Chr. 6</text>
<path d="M328.10 598.7V601.2M340.47 598.7V601.2M352.84 598.7V601.2M365.20 598.7V601.2" stroke="#555" stroke-width="0.7" fill="none"/>
<text x="328.10" y="609.60" text-anchor="middle">0</text>
<text x="352.84" y="609.60" text-anchor="middle">30</text>
<text x="365.20" y="609.60" text-anchor="middle">45</text>
<rect x="333.20" y="595.20" width="23.00" height="2.20" fill="#74b576"/>
<line x1="379.00" y1="570.30" x2="425.50" y2="570.30" stroke="#e2e2e2" stroke-width="0.6"/>
<line x1="379.00" y1="598.75" x2="425.50" y2="598.75" stroke="#555" stroke-width="0.7"/>
<text x="400.15" y="544.70" text-anchor="middle">Chr. 7</text>
<path d="M379.50 598.7V601.2M391.87 598.7V601.2M404.24 598.7V601.2M416.60 598.7V601.2" stroke="#555" stroke-width="0.7" fill="none"/>
<text x="379.50" y="609.60" text-anchor="middle">0</text>
<text x="391.87" y="609.60" text-anchor="middle">15</text>
<text x="404.24" y="609.60" text-anchor="middle">30</text>
<text x="416.60" y="609.60" text-anchor="middle">45</text>
<rect x="385.10" y="595.20" width="30.00" height="2.20" fill="#74b576"/>
<line x1="428.40" y1="570.30" x2="475.80" y2="570.30" stroke="#e2e2e2" stroke-width="0.6"/>
<line x1="428.40" y1="598.75" x2="475.80" y2="598.75" stroke="#555" stroke-width="0.7"/>
<text x="450.00" y="544.70" text-anchor="middle">Chr. 8</text>
<path d="M428.70 598.7V601.2M441.07 598.7V601.2M453.44 598.7V601.2M465.80 598.7V601.2" stroke="#555" stroke-width="0.7" fill="none"/>
<text x="428.70" y="609.60" text-anchor="middle">0</text>
<text x="453.44" y="609.60" text-anchor="middle">30</text>
<text x="465.80" y="609.60" text-anchor="middle">45</text>
<rect x="435.10" y="595.20" width="26.90" height="2.20" fill="#74b576"/>
<line x1="479.00" y1="570.30" x2="533.90" y2="570.30" stroke="#e2e2e2" stroke-width="0.6"/>
<line x1="479.00" y1="598.75" x2="533.90" y2="598.75" stroke="#555" stroke-width="0.7"/>
<text x="504.35" y="544.70" text-anchor="middle">Chr. 9</text>
<path d="M479.50 598.7V601.2M491.87 598.7V601.2M504.24 598.7V601.2M516.60 598.7V601.2M528.97 598.7V601.2" stroke="#555" stroke-width="0.7" fill="none"/>
<text x="479.50" y="609.60" text-anchor="middle">0</text>
<text x="504.24" y="609.60" text-anchor="middle">30</text>
<text x="528.97" y="609.60" text-anchor="middle">60</text>
<rect x="487.50" y="595.20" width="29.30" height="2.20" fill="#74b576"/>
<line x1="537.30" y1="570.30" x2="587.00" y2="570.30" stroke="#e2e2e2" stroke-width="0.6"/>
<line x1="537.30" y1="598.75" x2="587.00" y2="598.75" stroke="#555" stroke-width="0.7"/>
<text x="560.05" y="544.70" text-anchor="middle">Chr. 10</text>
<path d="M537.60 598.7V601.2M549.97 598.7V601.2M562.34 598.7V601.2M574.70 598.7V601.2M587.07 598.7V601.2" stroke="#555" stroke-width="0.7" fill="none"/>
<text x="537.60" y="609.60" text-anchor="middle">0</text>
<text x="562.34" y="609.60" text-anchor="middle">30</text>
<text x="583.60" y="609.60" text-anchor="middle">60</text>
<rect x="542.10" y="595.20" width="31.70" height="2.20" fill="#74b576"/>
<line x1="590.30" y1="570.30" x2="627.70" y2="570.30" stroke="#e2e2e2" stroke-width="0.6"/>
<line x1="590.30" y1="598.75" x2="627.70" y2="598.75" stroke="#555" stroke-width="0.7"/>
<text x="606.90" y="544.70" text-anchor="middle">Chr. 11</text>
<path d="M590.60 598.7V601.2M602.97 598.7V601.2M615.34 598.7V601.2M627.70 598.7V601.2" stroke="#555" stroke-width="0.7" fill="none"/>
<text x="591.70" y="609.60" text-anchor="middle">0</text>
<text x="615.34" y="609.60" text-anchor="middle">30</text>
<text x="624.40" y="609.60" text-anchor="middle">45</text>
<rect x="603.90" y="595.20" width="14.80" height="2.20" fill="#74b576"/>
<line x1="630.40" y1="570.30" x2="679.10" y2="570.30" stroke="#e2e2e2" stroke-width="0.6"/>
<line x1="630.40" y1="598.75" x2="679.10" y2="598.75" stroke="#555" stroke-width="0.7"/>
<text x="652.65" y="544.70" text-anchor="middle">Chr. 12</text>
<path d="M630.90 598.7V601.2M643.27 598.7V601.2M655.63 598.7V601.2M668.00 598.7V601.2" stroke="#555" stroke-width="0.7" fill="none"/>
<text x="632.40" y="609.60" text-anchor="middle">0</text>
<text x="655.63" y="609.60" text-anchor="middle">30</text>
<text x="668.00" y="609.60" text-anchor="middle">45</text>
<rect x="638.40" y="595.20" width="32.20" height="2.20" fill="#74b576"/>
<clipPath id="below"><rect x="40" y="571" width="645" height="24"/></clipPath>
<path d="M51.56 571 L51.56 559.09L52.04 570.01L53.65 567.92L55.26 564.71L56.86 561.50L57.99 555.88L58.95 555.56L60.07 564.71L61.68 555.56L62.48 561.50L64.09 564.71L65.69 566.32L66.98 563.91L68.10 567.12L69.71 564.71L72.12 566.32L73.40 569.53L74.53 557.48L75.65 562.30L76.94 556.68L78.22 555.07L79.34 563.91L80.47 569.53L81.43 591.21L83.04 591.21L83.68 569.53L84.97 566.32L86.57 562.30L88.18 569.53L89.78 566.32L91.39 564.71L93.00 553.47L94.60 555.88L96.21 564.71L97.81 563.91L99.42 560.69L100.70 563.91L101.83 558.29L103.43 559.89L104.56 554.27L105.04 567.12L105.52 591.21L106.32 591.21L107.13 567.12L107.77 591.21L110.66 591.21L111.46 569.53L112.27 556.68L113.55 562.30L114.67 557.48L116.28 561.50L117.89 559.89L118.69 562.30L119.49 556.68L121.10 555.88L122.22 554.27L123.03 569.53L123.67 591.21L123.67 571Z" fill="#5e5e5e" clip-path="url(#below)"/>
<path d="M51.56 559.09L52.04 570.01L53.65 567.92L55.26 564.71L56.86 561.50L57.99 555.88L58.95 555.56L60.07 564.71L61.68 555.56L62.48 561.50L64.09 564.71L65.69 566.32L66.98 563.91L68.10 567.12L69.71 564.71L72.12 566.32L73.40 569.53L74.53 557.48L75.65 562.30L76.94 556.68L78.22 555.07L79.34 563.91L80.47 569.53L81.43 591.21L83.04 591.21L83.68 569.53L84.97 566.32L86.57 562.30L88.18 569.53L89.78 566.32L91.39 564.71L93.00 553.47L94.60 555.88L96.21 564.71L97.81 563.91L99.42 560.69L100.70 563.91L101.83 558.29L103.43 559.89L104.56 554.27L105.04 567.12L105.52 591.21L106.32 591.21L107.13 567.12L107.77 591.21L110.66 591.21L111.46 569.53L112.27 556.68L113.55 562.30L114.67 557.48L116.28 561.50L117.89 559.89L118.69 562.30L119.49 556.68L121.10 555.88L122.22 554.27L123.03 569.53L123.67 591.21" fill="none" stroke="#262626" stroke-width="0.9" stroke-linejoin="round"/>
<path d="M127.23 571 L127.23 591.21L128.03 569.53L129.31 552.67L130.44 563.91L132.04 570.01L133.65 567.92L135.26 565.51L136.86 566.32L138.47 564.71L140.56 563.10L142.48 566.32L144.09 569.53L145.69 570.33L147.30 561.50L148.59 569.53L149.39 560.69L151.32 554.27L152.92 559.89L154.53 557.48L156.13 562.30L157.74 567.12L159.34 555.07L160.15 559.89L161.43 555.07L163.04 569.53L163.68 563.10L163.68 571Z" fill="#5e5e5e" clip-path="url(#below)"/>
<path d="M127.23 591.21L128.03 569.53L129.31 552.67L130.44 563.91L132.04 570.01L133.65 567.92L135.26 565.51L136.86 566.32L138.47 564.71L140.56 563.10L142.48 566.32L144.09 569.53L145.69 570.33L147.30 561.50L148.59 569.53L149.39 560.69L151.32 554.27L152.92 559.89L154.53 557.48L156.13 562.30L157.74 567.12L159.34 555.07L160.15 559.89L161.43 555.07L163.04 569.53L163.68 563.10" fill="none" stroke="#262626" stroke-width="0.9" stroke-linejoin="round"/>
<path d="M167.37 571 L167.37 561.50L168.18 552.67L169.78 551.86L171.39 551.06L173.80 553.47L176.21 559.09L177.81 561.50L179.74 550.26L181.02 563.10L181.83 569.53L182.31 591.21L183.43 591.21L184.24 569.53L185.04 559.09L186.65 556.68L188.25 557.48L189.86 555.07L191.46 558.29L193.07 555.88L194.67 557.48L196.28 569.53L197.89 555.07L199.01 555.88L200.62 551.86L201.90 560.69L203.19 568.72L204.79 559.89L206.40 553.47L208.00 562.30L209.61 569.53L211.54 570.33L213.62 556.68L214.75 560.69L216.03 564.71L216.03 571Z" fill="#5e5e5e" clip-path="url(#below)"/>
<path d="M167.37 561.50L168.18 552.67L169.78 551.86L171.39 551.06L173.80 553.47L176.21 559.09L177.81 561.50L179.74 550.26L181.02 563.10L181.83 569.53L182.31 591.21L183.43 591.21L184.24 569.53L185.04 559.09L186.65 556.68L188.25 557.48L189.86 555.07L191.46 558.29L193.07 555.88L194.67 557.48L196.28 569.53L197.89 555.07L199.01 555.88L200.62 551.86L201.90 560.69L203.19 568.72L204.79 559.89L206.40 553.47L208.00 562.30L209.61 569.53L211.54 570.33L213.62 556.68L214.75 560.69L216.03 564.71" fill="none" stroke="#262626" stroke-width="0.9" stroke-linejoin="round"/>
<path d="M219.64 571 L219.64 559.09L221.24 563.10L222.85 566.32L224.45 570.33L226.06 555.88L227.34 564.71L229.27 555.88L230.56 559.09L231.68 555.07L232.96 557.48L234.09 551.06L234.89 558.29L236.02 551.06L237.30 555.07L238.91 550.26L240.19 555.88L241.32 569.53L242.12 591.21L244.05 591.21L245.01 569.53L246.13 554.27L247.74 550.26L249.34 555.07L250.95 557.48L252.56 551.86L254.16 550.26L255.77 560.69L256.57 554.27L258.18 555.88L259.78 552.67L261.39 551.86L263.00 555.07L264.60 569.53L265.40 591.21L267.01 591.21L267.81 569.53L268.62 559.09L270.22 566.32L271.02 569.53L272.63 561.50L274.24 556.68L274.56 569.53L274.72 591.21L275.84 591.21L276.16 569.53L276.16 571Z" fill="#5e5e5e" clip-path="url(#below)"/>
<path d="M219.64 559.09L221.24 563.10L222.85 566.32L224.45 570.33L226.06 555.88L227.34 564.71L229.27 555.88L230.56 559.09L231.68 555.07L232.96 557.48L234.09 551.06L234.89 558.29L236.02 551.06L237.30 555.07L238.91 550.26L240.19 555.88L241.32 569.53L242.12 591.21L244.05 591.21L245.01 569.53L246.13 554.27L247.74 550.26L249.34 555.07L250.95 557.48L252.56 551.86L254.16 550.26L255.77 560.69L256.57 554.27L258.18 555.88L259.78 552.67L261.39 551.86L263.00 555.07L264.60 569.53L265.40 591.21L267.01 591.21L267.81 569.53L268.62 559.09L270.22 566.32L271.02 569.53L272.63 561.50L274.24 556.68L274.56 569.53L274.72 591.21L275.84 591.21L276.16 569.53" fill="none" stroke="#262626" stroke-width="0.9" stroke-linejoin="round"/>
<path d="M279.86 571 L279.86 565.51L280.66 559.89L282.27 566.32L283.87 562.30L285.48 567.12L287.08 561.50L288.69 569.53L290.30 570.33L291.90 566.32L293.19 563.10L294.31 568.72L296.72 570.33L298.33 567.12L299.61 559.09L300.73 567.12L302.02 552.67L303.14 567.12L304.43 559.09L305.55 569.53L307.16 570.33L308.76 566.32L310.37 563.10L311.49 553.47L312.78 568.72L314.38 569.53L315.99 567.92L317.27 567.12L317.92 559.09L319.20 565.51L320.81 563.91L322.41 564.71L323.70 563.91L324.50 554.27L324.50 571Z" fill="#5e5e5e" clip-path="url(#below)"/>
<path d="M279.86 565.51L280.66 559.89L282.27 566.32L283.87 562.30L285.48 567.12L287.08 561.50L288.69 569.53L290.30 570.33L291.90 566.32L293.19 563.10L294.31 568.72L296.72 570.33L298.33 567.12L299.61 559.09L300.73 567.12L302.02 552.67L303.14 567.12L304.43 559.09L305.55 569.53L307.16 570.33L308.76 566.32L310.37 563.10L311.49 553.47L312.78 568.72L314.38 569.53L315.99 567.92L317.27 567.12L317.92 559.09L319.20 565.51L320.81 563.91L322.41 564.71L323.70 563.91L324.50 554.27" fill="none" stroke="#262626" stroke-width="0.9" stroke-linejoin="round"/>
<path d="M328.10 571 L328.10 567.92L328.91 554.27L330.19 555.07L331.32 569.53L333.72 570.33L334.53 569.53L335.65 551.06L336.94 550.26L338.22 569.53L339.02 591.21L340.15 591.21L340.95 569.53L341.75 550.26L342.56 554.27L343.68 569.53L344.97 591.21L345.77 591.21L346.57 569.53L347.37 551.06L348.18 554.27L348.98 559.09L350.10 551.06L351.07 552.67L352.19 550.26L353.32 555.88L354.60 554.27L355.89 559.09L357.01 561.50L358.13 565.51L359.42 564.71L361.02 568.72L362.31 569.53L363.43 554.27L364.56 568.72L365.84 567.12L367.13 561.50L368.25 560.69L369.86 562.30L371.46 563.91L372.59 555.88L373.87 550.26L374.67 560.69L375.80 551.86L375.80 571Z" fill="#5e5e5e" clip-path="url(#below)"/>
<path d="M328.10 567.92L328.91 554.27L330.19 555.07L331.32 569.53L333.72 570.33L334.53 569.53L335.65 551.06L336.94 550.26L338.22 569.53L339.02 591.21L340.15 591.21L340.95 569.53L341.75 550.26L342.56 554.27L343.68 569.53L344.97 591.21L345.77 591.21L346.57 569.53L347.37 551.06L348.18 554.27L348.98 559.09L350.10 551.06L351.07 552.67L352.19 550.26L353.32 555.88L354.60 554.27L355.89 559.09L357.01 561.50L358.13 565.51L359.42 564.71L361.02 568.72L362.31 569.53L363.43 554.27L364.56 568.72L365.84 567.12L367.13 561.50L368.25 560.69L369.86 562.30L371.46 563.91L372.59 555.88L373.87 550.26L374.67 560.69L375.80 551.86" fill="none" stroke="#262626" stroke-width="0.9" stroke-linejoin="round"/>
<path d="M379.49 571 L379.49 555.07L380.30 559.09L381.10 556.68L382.22 564.71L383.51 563.91L384.79 565.51L385.92 561.50L387.52 567.12L389.13 567.92L390.25 570.33L391.54 560.69L392.82 554.27L393.95 559.09L395.07 555.88L396.35 550.26L397.64 561.50L398.76 569.53L400.37 563.10L401.98 565.51L403.10 555.88L404.38 561.50L405.99 570.33L407.27 563.10L408.40 569.53L409.68 563.91L410.33 564.71L411.93 565.51L413.54 558.29L415.14 562.30L416.75 566.32L418.84 558.29L419.96 562.30L421.09 561.50L422.37 566.32L423.66 569.53L424.78 567.12L425.58 569.53L425.58 571Z" fill="#5e5e5e" clip-path="url(#below)"/>
<path d="M379.49 555.07L380.30 559.09L381.10 556.68L382.22 564.71L383.51 563.91L384.79 565.51L385.92 561.50L387.52 567.12L389.13 567.92L390.25 570.33L391.54 560.69L392.82 554.27L393.95 559.09L395.07 555.88L396.35 550.26L397.64 561.50L398.76 569.53L400.37 563.10L401.98 565.51L403.10 555.88L404.38 561.50L405.99 570.33L407.27 563.10L408.40 569.53L409.68 563.91L410.33 564.71L411.93 565.51L413.54 558.29L415.14 562.30L416.75 566.32L418.84 558.29L419.96 562.30L421.09 561.50L422.37 566.32L423.66 569.53L424.78 567.12L425.58 569.53" fill="none" stroke="#262626" stroke-width="0.9" stroke-linejoin="round"/>
<path d="M428.72 571 L428.72 564.71L430.01 554.27L431.13 563.91L432.26 567.92L433.54 569.53L434.83 567.92L436.43 571.13L437.56 566.32L438.68 565.51L439.97 559.09L441.25 552.67L442.37 551.86L443.50 566.32L444.46 554.27L445.59 550.26L446.71 556.68L447.67 569.53L448.32 591.21L449.60 591.21L450.08 569.53L450.89 564.71L452.01 566.32L453.62 567.92L455.22 566.32L456.83 564.71L458.43 563.10L459.56 559.09L460.84 567.12L462.13 570.33L463.25 564.71L464.38 563.91L465.66 567.12L466.94 569.53L468.07 567.92L469.67 568.72L471.28 567.12L472.89 567.92L474.01 560.69L475.30 552.67L475.78 556.68L475.78 571Z" fill="#5e5e5e" clip-path="url(#below)"/>
<path d="M428.72 564.71L430.01 554.27L431.13 563.91L432.26 567.92L433.54 569.53L434.83 567.92L436.43 571.13L437.56 566.32L438.68 565.51L439.97 559.09L441.25 552.67L442.37 551.86L443.50 566.32L444.46 554.27L445.59 550.26L446.71 556.68L447.67 569.53L448.32 591.21L449.60 591.21L450.08 569.53L450.89 564.71L452.01 566.32L453.62 567.92L455.22 566.32L456.83 564.71L458.43 563.10L459.56 559.09L460.84 567.12L462.13 570.33L463.25 564.71L464.38 563.91L465.66 567.12L466.94 569.53L468.07 567.92L469.67 568.72L471.28 567.12L472.89 567.92L474.01 560.69L475.30 552.67L475.78 556.68" fill="none" stroke="#262626" stroke-width="0.9" stroke-linejoin="round"/>
<path d="M479.01 571 L479.01 553.47L479.82 555.88L481.10 566.32L482.23 567.92L483.35 557.48L484.64 555.07L485.92 566.32L487.04 567.12L488.65 563.91L490.26 560.69L491.86 555.88L492.99 561.50L494.27 559.09L495.56 559.89L496.68 563.10L497.80 551.86L499.09 559.09L500.37 554.27L501.50 561.50L502.62 563.10L504.23 552.67L505.51 555.88L507.12 560.69L508.72 563.10L510.01 565.51L511.61 559.09L512.74 560.69L513.86 558.29L515.15 556.68L516.43 559.09L518.04 567.12L519.64 569.53L521.25 567.92L522.37 561.50L523.50 557.48L524.78 559.09L526.39 554.27L528.32 550.26L529.60 557.48L530.89 563.91L532.49 561.50L533.62 555.88L533.62 571Z" fill="#5e5e5e" clip-path="url(#below)"/>
<path d="M479.01 553.47L479.82 555.88L481.10 566.32L482.23 567.92L483.35 557.48L484.64 555.07L485.92 566.32L487.04 567.12L488.65 563.91L490.26 560.69L491.86 555.88L492.99 561.50L494.27 559.09L495.56 559.89L496.68 563.10L497.80 551.86L499.09 559.09L500.37 554.27L501.50 561.50L502.62 563.10L504.23 552.67L505.51 555.88L507.12 560.69L508.72 563.10L510.01 565.51L511.61 559.09L512.74 560.69L513.86 558.29L515.15 556.68L516.43 559.09L518.04 567.12L519.64 569.53L521.25 567.92L522.37 561.50L523.50 557.48L524.78 559.09L526.39 554.27L528.32 550.26L529.60 557.48L530.89 563.91L532.49 561.50L533.62 555.88" fill="none" stroke="#262626" stroke-width="0.9" stroke-linejoin="round"/>
<path d="M537.31 571 L537.31 555.07L538.43 559.09L540.04 561.50L541.16 560.69L542.45 565.51L543.73 569.53L544.38 591.21L548.87 591.21L549.67 569.53L550.48 559.89L550.96 569.53L551.44 591.21L552.89 591.21L553.85 570.33L554.49 591.21L558.51 591.21L559.79 570.01L560.92 591.21L563.33 591.21L564.13 569.53L565.73 565.51L567.34 552.67L568.46 563.10L569.75 554.27L571.03 553.47L572.16 569.53L573.28 591.21L575.85 591.21L576.49 569.53L577.30 557.48L578.58 566.32L580.19 555.88L581.79 550.26L583.40 551.06L584.68 559.09L585.81 560.69L586.77 558.29L586.77 571Z" fill="#5e5e5e" clip-path="url(#below)"/>
<path d="M537.31 555.07L538.43 559.09L540.04 561.50L541.16 560.69L542.45 565.51L543.73 569.53L544.38 591.21L548.87 591.21L549.67 569.53L550.48 559.89L550.96 569.53L551.44 591.21L552.89 591.21L553.85 570.33L554.49 591.21L558.51 591.21L559.79 570.01L560.92 591.21L563.33 591.21L564.13 569.53L565.73 565.51L567.34 552.67L568.46 563.10L569.75 554.27L571.03 553.47L572.16 569.53L573.28 591.21L575.85 591.21L576.49 569.53L577.30 557.48L578.58 566.32L580.19 555.88L581.79 550.26L583.40 551.06L584.68 559.09L585.81 560.69L586.77 558.29" fill="none" stroke="#262626" stroke-width="0.9" stroke-linejoin="round"/>
<path d="M590.26 571 L590.26 565.51L591.06 559.09L591.86 566.32L593.47 553.47L594.59 556.68L595.88 567.92L597.48 563.91L599.09 559.89L600.69 567.12L602.30 564.71L603.59 558.29L604.71 566.32L605.83 559.09L607.12 567.12L608.40 555.07L609.53 562.30L610.65 569.53L612.26 563.10L613.54 559.09L614.83 560.69L615.95 556.68L617.07 559.89L618.36 561.50L619.64 562.30L620.77 559.09L621.57 569.53L622.37 591.21L623.18 591.21L623.98 569.53L624.30 560.69L624.78 569.53L625.59 591.21L626.07 591.21L626.87 569.53L627.51 563.91L627.51 571Z" fill="#5e5e5e" clip-path="url(#below)"/>
<path d="M590.26 565.51L591.06 559.09L591.86 566.32L593.47 553.47L594.59 556.68L595.88 567.92L597.48 563.91L599.09 559.89L600.69 567.12L602.30 564.71L603.59 558.29L604.71 566.32L605.83 559.09L607.12 567.12L608.40 555.07L609.53 562.30L610.65 569.53L612.26 563.10L613.54 559.09L614.83 560.69L615.95 556.68L617.07 559.89L618.36 561.50L619.64 562.30L620.77 559.09L621.57 569.53L622.37 591.21L623.18 591.21L623.98 569.53L624.30 560.69L624.78 569.53L625.59 591.21L626.07 591.21L626.87 569.53L627.51 563.91" fill="none" stroke="#262626" stroke-width="0.9" stroke-linejoin="round"/>
<path d="M630.40 571 L630.40 555.07L631.53 563.10L632.49 569.53L633.62 562.30L634.74 565.51L636.02 563.91L637.31 566.32L638.43 564.71L639.56 567.92L641.16 569.53L642.77 568.72L644.05 565.51L645.34 559.09L646.46 555.07L647.59 561.50L648.55 553.47L649.67 566.32L650.80 559.09L651.76 551.86L652.89 559.09L654.01 554.27L655.30 555.88L656.58 558.29L657.70 565.51L658.83 556.68L660.11 559.09L661.40 555.88L662.52 555.07L663.65 563.91L664.61 569.53L665.41 591.21L666.22 569.53L667.34 563.10L668.46 559.89L669.75 567.12L671.03 569.53L672.96 570.33L674.57 569.53L675.85 559.09L676.98 556.68L678.10 559.09L679.06 553.47L679.06 571Z" fill="#5e5e5e" clip-path="url(#below)"/>
<path d="M630.40 555.07L631.53 563.10L632.49 569.53L633.62 562.30L634.74 565.51L636.02 563.91L637.31 566.32L638.43 564.71L639.56 567.92L641.16 569.53L642.77 568.72L644.05 565.51L645.34 559.09L646.46 555.07L647.59 561.50L648.55 553.47L649.67 566.32L650.80 559.09L651.76 551.86L652.89 559.09L654.01 554.27L655.30 555.88L656.58 558.29L657.70 565.51L658.83 556.68L660.11 559.09L661.40 555.88L662.52 555.07L663.65 563.91L664.61 569.53L665.41 591.21L666.22 569.53L667.34 563.10L668.46 559.89L669.75 567.12L671.03 569.53L672.96 570.33L674.57 569.53L675.85 559.09L676.98 556.68L678.10 559.09L679.06 553.47" fill="none" stroke="#262626" stroke-width="0.9" stroke-linejoin="round"/>
<text x="371.40" y="621.50" text-anchor="middle">Position (Mb)</text>
</g>
</svg>
</body></html>
